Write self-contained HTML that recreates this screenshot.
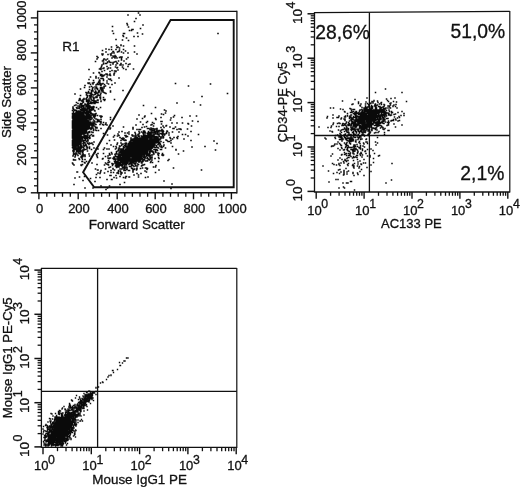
<!DOCTYPE html>
<html><head><meta charset="utf-8"><title>Flow cytometry</title>
<style>
html,body{margin:0;padding:0;background:#fff;}
svg{display:block;}
svg text{font-family:"Liberation Sans",sans-serif;fill:#111;stroke:#111;stroke-width:0.3;}
svg line, svg polygon{stroke:#111;}
svg path.d{stroke:#0a0a0a;fill:none;}
</style></head><body>
<svg width="520" height="487" viewBox="0 0 520 487">
<rect width="520" height="487" fill="#fff"/>
<line x1="37.6" y1="10.7" x2="37.6" y2="193.4" stroke-width="1.4"/>
<line x1="37.6" y1="11.3" x2="236.9" y2="11.3" stroke-width="1.3"/>
<line x1="236.9" y1="10.7" x2="236.9" y2="193.4" stroke-width="1.3"/>
<line x1="37.6" y1="192.8" x2="236.9" y2="192.8" stroke-width="1.5"/>
<line x1="38.9" y1="192.8" x2="38.9" y2="199.3" stroke-width="1.4"/>
<text x="39.7" y="212.6" font-size="13" text-anchor="middle">0</text>
<line x1="78.2" y1="192.8" x2="78.2" y2="199.3" stroke-width="1.4"/>
<text x="79.0" y="212.6" font-size="13" text-anchor="middle">200</text>
<line x1="117.2" y1="192.8" x2="117.2" y2="199.3" stroke-width="1.4"/>
<text x="118.0" y="212.6" font-size="13" text-anchor="middle">400</text>
<line x1="155.2" y1="192.8" x2="155.2" y2="199.3" stroke-width="1.4"/>
<text x="156.0" y="212.6" font-size="13" text-anchor="middle">600</text>
<line x1="193.5" y1="192.8" x2="193.5" y2="199.3" stroke-width="1.4"/>
<text x="194.3" y="212.6" font-size="13" text-anchor="middle">800</text>
<line x1="231.4" y1="192.8" x2="231.4" y2="199.3" stroke-width="1.4"/>
<text x="232.2" y="212.6" font-size="13" text-anchor="middle">1000</text>
<line x1="46.8" y1="192.8" x2="46.8" y2="196.8" stroke-width="1.3"/>
<line x1="54.6" y1="192.8" x2="54.6" y2="196.8" stroke-width="1.3"/>
<line x1="62.5" y1="192.8" x2="62.5" y2="196.8" stroke-width="1.3"/>
<line x1="70.3" y1="192.8" x2="70.3" y2="196.8" stroke-width="1.3"/>
<line x1="86.0" y1="192.8" x2="86.0" y2="196.8" stroke-width="1.3"/>
<line x1="93.8" y1="192.8" x2="93.8" y2="196.8" stroke-width="1.3"/>
<line x1="101.6" y1="192.8" x2="101.6" y2="196.8" stroke-width="1.3"/>
<line x1="109.4" y1="192.8" x2="109.4" y2="196.8" stroke-width="1.3"/>
<line x1="124.8" y1="192.8" x2="124.8" y2="196.8" stroke-width="1.3"/>
<line x1="132.4" y1="192.8" x2="132.4" y2="196.8" stroke-width="1.3"/>
<line x1="140.0" y1="192.8" x2="140.0" y2="196.8" stroke-width="1.3"/>
<line x1="147.6" y1="192.8" x2="147.6" y2="196.8" stroke-width="1.3"/>
<line x1="162.9" y1="192.8" x2="162.9" y2="196.8" stroke-width="1.3"/>
<line x1="170.5" y1="192.8" x2="170.5" y2="196.8" stroke-width="1.3"/>
<line x1="178.2" y1="192.8" x2="178.2" y2="196.8" stroke-width="1.3"/>
<line x1="185.8" y1="192.8" x2="185.8" y2="196.8" stroke-width="1.3"/>
<line x1="201.1" y1="192.8" x2="201.1" y2="196.8" stroke-width="1.3"/>
<line x1="208.7" y1="192.8" x2="208.7" y2="196.8" stroke-width="1.3"/>
<line x1="216.2" y1="192.8" x2="216.2" y2="196.8" stroke-width="1.3"/>
<line x1="223.8" y1="192.8" x2="223.8" y2="196.8" stroke-width="1.3"/>
<line x1="30.8" y1="192.8" x2="37.6" y2="192.8" stroke-width="1.4"/>
<text x="26.4" y="189.9" font-size="13" text-anchor="middle" transform="rotate(-90 26.4 189.9)">0</text>
<line x1="34.0" y1="185.8" x2="37.6" y2="185.8" stroke-width="1.3"/>
<line x1="34.0" y1="178.8" x2="37.6" y2="178.8" stroke-width="1.3"/>
<line x1="34.0" y1="171.8" x2="37.6" y2="171.8" stroke-width="1.3"/>
<line x1="34.0" y1="164.8" x2="37.6" y2="164.8" stroke-width="1.3"/>
<line x1="30.8" y1="157.8" x2="37.6" y2="157.8" stroke-width="1.4"/>
<text x="26.4" y="154.9" font-size="13" text-anchor="middle" transform="rotate(-90 26.4 154.9)">200</text>
<line x1="34.0" y1="150.8" x2="37.6" y2="150.8" stroke-width="1.3"/>
<line x1="34.0" y1="143.8" x2="37.6" y2="143.8" stroke-width="1.3"/>
<line x1="34.0" y1="136.8" x2="37.6" y2="136.8" stroke-width="1.3"/>
<line x1="34.0" y1="129.8" x2="37.6" y2="129.8" stroke-width="1.3"/>
<line x1="30.8" y1="122.8" x2="37.6" y2="122.8" stroke-width="1.4"/>
<text x="26.4" y="119.9" font-size="13" text-anchor="middle" transform="rotate(-90 26.4 119.9)">400</text>
<line x1="34.0" y1="115.8" x2="37.6" y2="115.8" stroke-width="1.3"/>
<line x1="34.0" y1="108.8" x2="37.6" y2="108.8" stroke-width="1.3"/>
<line x1="34.0" y1="101.9" x2="37.6" y2="101.9" stroke-width="1.3"/>
<line x1="34.0" y1="94.9" x2="37.6" y2="94.9" stroke-width="1.3"/>
<line x1="30.8" y1="87.9" x2="37.6" y2="87.9" stroke-width="1.4"/>
<text x="26.4" y="85.0" font-size="13" text-anchor="middle" transform="rotate(-90 26.4 85.0)">600</text>
<line x1="34.0" y1="80.9" x2="37.6" y2="80.9" stroke-width="1.3"/>
<line x1="34.0" y1="73.9" x2="37.6" y2="73.9" stroke-width="1.3"/>
<line x1="34.0" y1="66.9" x2="37.6" y2="66.9" stroke-width="1.3"/>
<line x1="34.0" y1="59.9" x2="37.6" y2="59.9" stroke-width="1.3"/>
<line x1="30.8" y1="52.9" x2="37.6" y2="52.9" stroke-width="1.4"/>
<text x="26.4" y="50.0" font-size="13" text-anchor="middle" transform="rotate(-90 26.4 50.0)">800</text>
<line x1="34.0" y1="45.9" x2="37.6" y2="45.9" stroke-width="1.3"/>
<line x1="34.0" y1="38.9" x2="37.6" y2="38.9" stroke-width="1.3"/>
<line x1="34.0" y1="31.9" x2="37.6" y2="31.9" stroke-width="1.3"/>
<line x1="34.0" y1="24.9" x2="37.6" y2="24.9" stroke-width="1.3"/>
<line x1="30.8" y1="17.9" x2="37.6" y2="17.9" stroke-width="1.4"/>
<text x="26.4" y="15.0" font-size="13" text-anchor="middle" transform="rotate(-90 26.4 15.0)">1000</text>
<text x="11.1" y="102.0" font-size="13.2" text-anchor="middle" transform="rotate(-90 11.1 102.0)">Side Scatter</text>
<text x="136.8" y="228.5" font-size="13.5" text-anchor="middle">Forward Scatter</text>
<text x="62.3" y="50.8" font-size="13.5" text-anchor="start">R1</text>
<polygon points="170.6,20 233.7,20 233.7,187.2 94.2,187.2 83.1,172.3" fill="none" stroke-width="1.9" stroke-linejoin="miter"/>
<path class="d" stroke-width="1.6" d="M71.7 138h1.6M73.7 138h1.6M73.7 130.5h1.6M78.2 153.5h1.6M75.2 138h1.6M79.2 151.5h1.6M72.2 143.5h1.6M81.7 128h1.6M75.2 131h1.6M76.2 138.5h1.6M75.2 135h1.6M74.2 135h1.6M72.7 132h1.6M78.7 117.5h1.6M71.7 132.5h1.6M76.7 113.5h1.6M81.7 138h1.6M75.2 127.5h1.6M86.2 127.5h1.6M81.2 132.5h1.6M85.7 137h1.6M73.7 121h1.6M81.2 118h1.6M73.7 124.5h1.6M72.7 115h1.6M73.2 125.5h1.6M90.7 149.5h1.6M75.7 124.5h1.6M72.2 140.5h1.6M72.7 121.5h1.6M83.2 137.5h1.6M75.2 131.5h1.6M79.2 134h1.6M77.7 140h1.6M79.7 151h1.6M77.7 136.5h1.6M71.7 135.5h1.6M78.2 125.5h1.6M76.2 140h1.6M72.7 142.5h1.6M72.2 134h1.6M80.7 151h1.6M72.2 115.5h1.6M81.7 131.5h1.6M83.2 143h1.6M78.2 131h1.6M72.7 127h1.6M76.7 132h1.6M86.7 121.5h1.6M77.2 135.5h1.6M80.7 157.5h1.6M72.2 145.5h1.6M76.2 124h1.6M73.2 126h1.6M76.7 130.5h1.6M72.2 144h1.6M76.7 126.5h1.6M82.7 128h1.6M76.7 143h1.6M73.2 142.5h1.6M72.7 124h1.6M80.7 120h1.6M76.2 128h1.6M73.2 113.5h1.6M78.2 141.5h1.6M80.2 128.5h1.6M81.7 139h1.6M77.7 152h1.6M76.7 145.5h1.6M86.7 123.5h1.6M75.2 143h1.6M81.2 127.5h1.6M76.7 125.5h1.6M74.2 133.5h1.6M74.7 119.5h1.6M73.7 148.5h1.6M83.2 111.5h1.6M74.7 124h1.6M74.2 132h1.6M74.2 132.5h1.6M72.7 136h1.6M73.2 137h1.6M80.2 132.5h1.6M71.7 145.5h1.6M75.2 114h1.6M80.2 134.5h1.6M76.7 127.5h1.6M71.7 136h1.6M76.7 136.5h1.6M74.2 126h1.6M79.7 128.5h1.6M71.7 142h1.6M76.2 138h1.6M81.2 128h1.6M74.2 154h1.6M84.2 156.5h1.6M87.2 120.5h1.6M74.2 137.5h1.6M78.2 158.5h1.6M72.7 142h1.6M88.7 136.5h1.6M77.7 132.5h1.6M76.2 129.5h1.6M73.2 132.5h1.6M75.2 129.5h1.6M73.2 141.5h1.6M73.2 130.5h1.6M77.2 130.5h1.6M75.7 123h1.6M79.7 134h1.6M72.2 126h1.6M72.2 133h1.6M79.7 144.5h1.6M78.2 139.5h1.6M79.2 138h1.6M73.2 135h1.6M72.2 133.5h1.6M76.2 131.5h1.6M72.7 141.5h1.6M86.7 124h1.6M80.2 147h1.6M87.7 127.5h1.6M78.2 130h1.6M84.7 128h1.6M77.2 136h1.6M78.2 127.5h1.6M77.7 145.5h1.6M83.2 113h1.6M82.7 115.5h1.6M73.7 144.5h1.6M72.7 140.5h1.6M79.2 122h1.6M79.7 127.5h1.6M75.7 151.5h1.6M72.2 137.5h1.6M77.7 134.5h1.6M76.2 144.5h1.6M81.2 158h1.6M81.2 147h1.6M78.7 138h1.6M71.7 140.5h1.6M76.7 128.5h1.6M74.2 124.5h1.6M75.7 135h1.6M71.7 125.5h1.6M74.7 134h1.6M73.7 135.5h1.6M82.2 156.5h1.6M77.7 126.5h1.6M84.2 133.5h1.6M76.7 133h1.6M79.7 138.5h1.6M74.2 144.5h1.6M82.2 130h1.6M82.7 126.5h1.6M73.2 119h1.6M76.2 125.5h1.6M84.7 139.5h1.6M77.2 135h1.6M71.7 125h1.6M72.2 131h1.6M75.2 139.5h1.6M75.7 129h1.6M80.2 117h1.6M80.7 123.5h1.6M81.7 150h1.6M75.7 113.5h1.6M73.7 131.5h1.6M72.2 136.5h1.6M75.7 127h1.6M76.2 134h1.6M74.2 134.5h1.6M72.7 133.5h1.6M71.7 116.5h1.6M80.7 133h1.6M74.7 129.5h1.6M75.7 136.5h1.6M82.2 140.5h1.6M78.7 143h1.6M78.7 130h1.6M72.7 143.5h1.6M75.7 145.5h1.6M77.7 147.5h1.6M78.7 133h1.6M75.2 133h1.6M83.2 142.5h1.6M81.2 121.5h1.6M78.2 136.5h1.6M85.7 118h1.6M82.7 126h1.6M84.2 143h1.6M77.7 144h1.6M79.2 133.5h1.6M78.2 126.5h1.6M84.2 138.5h1.6M87.7 132h1.6M73.7 140.5h1.6M72.2 151h1.6M73.7 134h1.6M72.2 120.5h1.6M83.2 120.5h1.6M72.7 123h1.6M79.2 147h1.6M84.2 136.5h1.6M75.7 120h1.6M74.7 146.5h1.6M79.2 131h1.6M76.7 128h1.6M79.2 131.5h1.6M78.2 137h1.6M73.2 140.5h1.6M74.2 146h1.6M86.7 147.5h1.6M82.2 141h1.6M78.2 120h1.6M71.7 137.5h1.6M82.7 131h1.6M77.2 131h1.6M72.2 125.5h1.6M72.2 148h1.6M73.7 141h1.6M80.2 136.5h1.6M71.7 143.5h1.6M88.2 144.5h1.6M76.7 137.5h1.6M86.7 111h1.6M96.2 128h1.6M75.7 130h1.6M81.7 125h1.6M80.7 146h1.6M80.2 123.5h1.6M72.7 154h1.6M72.2 130h1.6M72.2 123h1.6M72.2 137h1.6M77.7 138.5h1.6M75.7 128h1.6M73.2 142h1.6M79.7 130h1.6M75.7 125.5h1.6M76.7 136h1.6M79.7 142h1.6M81.2 128.5h1.6M72.7 137.5h1.6M71.7 133.5h1.6M81.7 161.5h1.6M82.7 147.5h1.6M75.2 134h1.6M77.7 133.5h1.6M74.7 141.5h1.6M91.2 143h1.6M73.7 146.5h1.6M72.2 129h1.6M79.7 129.5h1.6M73.7 139.5h1.6M73.2 140h1.6M80.7 148h1.6M74.2 138.5h1.6M71.7 144.5h1.6M83.2 149h1.6M75.7 136h1.6M74.7 120.5h1.6M85.2 123.5h1.6M83.7 121h1.6M78.7 149.5h1.6M78.7 126.5h1.6M76.7 146h1.6M72.7 140h1.6M73.2 151h1.6M73.7 144h1.6M73.2 133.5h1.6M72.2 132.5h1.6M83.2 135.5h1.6M72.2 129.5h1.6M76.7 150h1.6M83.7 118.5h1.6M75.7 137h1.6M74.2 136.5h1.6M80.2 142.5h1.6M78.2 142h1.6M73.2 145h1.6M73.2 129h1.6M83.7 136h1.6M73.7 110h1.6M77.7 149.5h1.6M76.2 137h1.6M83.2 137h1.6M74.2 121h1.6M76.2 148h1.6M73.2 151.5h1.6M71.7 135h1.6M79.2 132.5h1.6M75.2 119h1.6M86.7 143h1.6M73.7 160h1.6M79.7 146.5h1.6M74.2 139.5h1.6M81.2 125h1.6M81.2 123h1.6M78.7 132.5h1.6M79.7 137h1.6M73.7 138.5h1.6M75.7 138h1.6M73.2 122.5h1.6M76.2 135h1.6M72.2 122h1.6M82.7 122.5h1.6M78.7 117h1.6M78.2 121.5h1.6M75.7 119h1.6M73.7 136h1.6M73.2 138.5h1.6M73.2 153.5h1.6M73.7 120.5h1.6M73.7 128h1.6M72.2 143h1.6M72.2 131.5h1.6M75.7 150.5h1.6M85.7 131.5h1.6M76.2 123.5h1.6M84.2 137.5h1.6M74.7 137.5h1.6M86.2 121.5h1.6M82.2 125h1.6M77.2 140h1.6M72.7 128.5h1.6M84.7 140.5h1.6M74.7 140h1.6M76.7 117.5h1.6M76.7 131.5h1.6M88.7 138.5h1.6M77.7 114h1.6M80.7 132h1.6M72.2 141.5h1.6M73.2 149.5h1.6M80.2 113.5h1.6M72.7 159.5h1.6M80.2 124h1.6M80.2 143.5h1.6M79.7 146h1.6M79.7 144h1.6M75.2 136h1.6M75.7 123.5h1.6M74.7 127.5h1.6M74.2 110.5h1.6M81.2 161.5h1.6M82.7 141h1.6M73.2 148.5h1.6M79.2 149.5h1.6M84.7 149.5h1.6M73.2 123h1.6M74.7 133h1.6M74.7 113.5h1.6M79.2 118.5h1.6M73.2 135.5h1.6M80.7 125h1.6M75.2 153h1.6M85.7 147h1.6M81.7 134h1.6M76.2 146h1.6M81.7 127h1.6M74.7 131.5h1.6M73.7 143h1.6M80.2 122.5h1.6M90.7 132h1.6M73.2 122h1.6M83.7 135.5h1.6M72.7 127.5h1.6M74.7 126h1.6M79.2 123.5h1.6M79.7 148.5h1.6M74.2 157h1.6M79.7 139h1.6M75.7 127.5h1.6M75.2 141h1.6M75.7 142h1.6M77.7 137.5h1.6M74.2 137h1.6M79.2 140.5h1.6M81.2 129h1.6M72.2 130.5h1.6M78.2 118h1.6M83.2 130.5h1.6M71.7 121h1.6M79.2 125.5h1.6M78.2 135.5h1.6M75.7 139h1.6M82.7 121h1.6M77.7 127h1.6M74.7 125.5h1.6M77.2 150.5h1.6M76.2 142.5h1.6M72.7 131h1.6M76.2 148.5h1.6M72.2 120h1.6M72.2 108h1.6M78.7 159.5h1.6M72.2 124.5h1.6M84.7 136h1.6M76.7 132.5h1.6M79.7 135.5h1.6M85.2 120.5h1.6M72.2 128h1.6M80.2 139h1.6M83.2 136.5h1.6M80.2 157h1.6M77.7 137h1.6M77.2 116.5h1.6M76.2 122.5h1.6M77.2 147h1.6M79.2 139.5h1.6M80.7 134h1.6M85.7 124.5h1.6M85.7 131h1.6M74.2 129.5h1.6M73.7 130h1.6M71.7 141.5h1.6M86.2 126h1.6M83.2 133.5h1.6M79.2 144.5h1.6M81.7 159.5h1.6M77.2 142.5h1.6M77.7 134h1.6M82.2 126.5h1.6M92.7 130.5h1.6M75.7 130.5h1.6M79.7 141.5h1.6M79.7 130.5h1.6M79.7 132.5h1.6M73.7 123h1.6M83.2 150h1.6M82.2 151.5h1.6M77.7 142h1.6M74.7 148.5h1.6M78.2 132h1.6M85.7 141.5h1.6M74.7 160h1.6M71.7 123h1.6M72.2 150.5h1.6M80.2 138.5h1.6M72.2 142h1.6M72.2 146.5h1.6M85.7 138.5h1.6M72.7 126h1.6M77.2 128h1.6M72.2 128.5h1.6M76.2 133h1.6M72.2 139h1.6M79.7 120.5h1.6M76.2 154h1.6M72.7 145.5h1.6M73.7 141.5h1.6M73.2 131h1.6M77.2 133.5h1.6M78.7 140h1.6M75.7 118h1.6M71.7 163h1.6M81.7 116.5h1.6M76.2 133.5h1.6M73.7 148h1.6M87.2 123h1.6M72.2 136h1.6M72.7 149h1.6M72.7 132.5h1.6M74.7 130.5h1.6M74.7 135.5h1.6M79.2 130h1.6M73.7 149.5h1.6M80.7 122.5h1.6M72.7 109.5h1.6M75.2 134.5h1.6M75.7 124h1.6M84.2 130h1.6M75.2 149.5h1.6M73.7 123.5h1.6M73.7 124h1.6M76.7 135.5h1.6M73.2 134h1.6M83.2 146.5h1.6M75.7 143.5h1.6M80.7 134.5h1.6M79.2 135h1.6M73.7 133.5h1.6M83.2 129h1.6M78.7 153.5h1.6M72.7 134.5h1.6M90.7 123.5h1.6M74.7 130h1.6M82.7 141.5h1.6M81.2 141h1.6M74.7 134.5h1.6M73.7 118h1.6M84.7 122h1.6M83.7 142.5h1.6M72.7 130h1.6M81.2 146.5h1.6M76.7 141h1.6M74.7 155.5h1.6M72.7 141h1.6M77.7 141.5h1.6M72.2 138.5h1.6M77.2 126h1.6M79.7 133h1.6M74.7 115.5h1.6M74.2 133h1.6M74.2 131.5h1.6M84.2 118.5h1.6M76.2 131h1.6M74.2 135.5h1.6M84.2 123.5h1.6M74.2 140.5h1.6M78.2 132.5h1.6M88.7 147h1.6M74.2 127.5h1.6M78.2 129.5h1.6M74.7 145h1.6M71.7 131.5h1.6M77.2 136.5h1.6M92.2 144.5h1.6M72.7 113h1.6M75.7 126.5h1.6M76.7 124.5h1.6M84.7 124h1.6M80.2 126h1.6M74.2 126.5h1.6M77.7 126h1.6M75.7 135.5h1.6M78.7 127.5h1.6M86.2 136h1.6M72.7 150.5h1.6M73.2 128.5h1.6M82.7 137h1.6M73.2 126.5h1.6M78.7 124.5h1.6M76.7 129.5h1.6M83.2 155h1.6M75.2 129h1.6M73.7 136.5h1.6M79.7 154h1.6M78.7 136.5h1.6M78.2 148.5h1.6M77.2 140.5h1.6M76.7 121h1.6M78.7 134h1.6M72.2 132h1.6M74.2 114h1.6M75.2 130.5h1.6M88.7 132.5h1.6M86.7 138.5h1.6M72.2 122.5h1.6M72.7 129h1.6M75.2 126.5h1.6M84.2 145.5h1.6M82.7 124.5h1.6M76.7 149h1.6M76.2 120.5h1.6M74.2 118h1.6M75.2 122h1.6M78.2 130.5h1.6M79.2 129.5h1.6M80.2 135.5h1.6M71.7 114h1.6M77.2 139h1.6M73.2 128h1.6M83.7 123.5h1.6M79.7 121.5h1.6M74.7 125h1.6M90.7 134.5h1.6M77.2 125h1.6M87.2 127h1.6M73.7 126h1.6M74.2 139h1.6M80.7 115h1.6M75.2 146.5h1.6M76.7 130h1.6M86.2 137.5h1.6M84.7 144.5h1.6M76.7 144.5h1.6M86.7 136h1.6M73.2 146.5h1.6M75.2 133.5h1.6M76.7 148h1.6M74.2 136h1.6M84.2 135.5h1.6M77.2 132h1.6M74.2 142h1.6M76.2 122h1.6M89.2 138h1.6M80.7 137h1.6M73.7 113.5h1.6M80.2 133.5h1.6M86.7 140.5h1.6M71.7 127.5h1.6M85.2 135.5h1.6M78.2 112h1.6M80.7 141h1.6M86.7 117h1.6M74.2 141h1.6M83.2 132h1.6M73.7 142h1.6M72.7 125.5h1.6M74.2 128.5h1.6M72.2 156h1.6M84.2 132h1.6M85.7 146h1.6M86.7 151h1.6M77.2 118h1.6M82.7 145h1.6M72.2 142.5h1.6M73.7 126.5h1.6M75.2 121.5h1.6M72.2 121h1.6M74.7 128h1.6M88.7 156h1.6M72.2 135h1.6M73.7 128.5h1.6M77.2 151.5h1.6M73.7 147.5h1.6M83.2 127h1.6M76.7 144h1.6M76.2 141h1.6M82.2 119.5h1.6M83.7 138.5h1.6M77.2 143h1.6M73.7 139h1.6M75.7 129.5h1.6M78.7 125.5h1.6M87.2 143.5h1.6M74.7 124.5h1.6M82.7 114h1.6M83.2 123.5h1.6M80.7 112.5h1.6M75.2 141.5h1.6M76.7 123.5h1.6M86.7 124.5h1.6M72.7 134h1.6M74.2 120h1.6M72.7 152h1.6M76.2 126.5h1.6M81.2 136.5h1.6M74.7 148h1.6M74.7 144h1.6M82.7 127.5h1.6M72.7 145h1.6M73.7 127.5h1.6M81.7 152.5h1.6M72.7 135.5h1.6M80.7 156h1.6M84.7 138h1.6M77.2 123.5h1.6M72.2 145h1.6M77.2 128.5h1.6M79.2 134.5h1.6M91.2 125h1.6M79.2 140h1.6M75.2 115h1.6M77.7 130.5h1.6M80.2 132h1.6M75.2 137.5h1.6M75.2 128.5h1.6M87.7 121.5h1.6M82.7 123.5h1.6M74.7 138h1.6M85.2 144.5h1.6M75.2 144.5h1.6M75.7 131.5h1.6M72.2 124h1.6M78.2 144h1.6M76.2 137.5h1.6M76.2 145h1.6M77.7 146h1.6M82.7 142.5h1.6M80.2 139.5h1.6M75.2 138.5h1.6M76.2 136.5h1.6M72.7 144h1.6M90.2 129.5h1.6M77.7 151h1.6M75.7 133.5h1.6M75.2 154h1.6M84.7 131.5h1.6M73.7 122.5h1.6M72.7 131.5h1.6M81.7 155h1.6M77.7 143.5h1.6M80.2 125h1.6M78.2 138h1.6M87.2 141h1.6M77.7 151.5h1.6M85.2 137.5h1.6M78.7 125h1.6M75.2 132h1.6M77.2 112.5h1.6M75.2 140h1.6M72.7 122h1.6M72.7 148.5h1.6M80.2 137h1.6M71.7 144h1.6M78.2 148h1.6M79.7 134.5h1.6M80.2 145h1.6M89.2 135.5h1.6M86.7 133h1.6M73.2 132h1.6M77.2 137.5h1.6M72.7 129.5h1.6M83.2 134h1.6M81.7 129h1.6M79.7 133.5h1.6M82.2 153.5h1.6M73.2 147h1.6M76.7 139h1.6M77.2 155.5h1.6M75.7 137.5h1.6M87.7 137.5h1.6M78.7 148h1.6M76.7 134.5h1.6M72.7 154.5h1.6M79.7 141h1.6M75.2 125h1.6M77.2 152h1.6M73.2 131.5h1.6M82.2 143.5h1.6M80.7 146.5h1.6M76.7 124h1.6M80.2 131h1.6M81.2 121h1.6M81.7 133.5h1.6M74.2 131h1.6M78.7 128h1.6M80.7 131h1.6M74.7 139.5h1.6M77.2 149h1.6M76.7 116h1.6M71.7 130.5h1.6M75.2 125.5h1.6M71.7 124.5h1.6M75.7 141h1.6M80.2 133h1.6M73.2 138h1.6M80.7 119.5h1.6M88.7 137h1.6M77.7 133h1.6M85.7 124h1.6M84.7 127h1.6M86.2 149h1.6M79.2 148h1.6M77.7 123.5h1.6M75.2 119.5h1.6M76.7 135h1.6M79.2 123h1.6M88.7 143h1.6M78.7 140.5h1.6M78.2 131.5h1.6M74.7 135h1.6M78.7 151h1.6M83.7 140.5h1.6M71.7 124h1.6M79.2 141.5h1.6M72.7 139h1.6M79.7 152h1.6M71.7 147.5h1.6M79.7 122.5h1.6M72.7 160h1.6M72.2 135.5h1.6M78.7 114.5h1.6M79.2 128h1.6M75.2 122.5h1.6M75.7 121.5h1.6M81.7 117.5h1.6M80.2 127h1.6M77.7 116.5h1.6M77.2 121h1.6M86.7 128h1.6M80.2 116.5h1.6M78.7 120.5h1.6M89.7 123.5h1.6M79.7 129h1.6M84.2 122h1.6M86.2 118h1.6M83.7 119h1.6M74.2 123h1.6M91.2 118.5h1.6M83.2 128h1.6M82.2 118.5h1.6M90.7 128h1.6M85.2 127h1.6M78.2 119.5h1.6M73.7 119.5h1.6M71.7 116h1.6M88.7 127.5h1.6M82.2 134h1.6M86.2 129.5h1.6M84.2 124h1.6M78.7 122.5h1.6M97.7 130.5h1.6M80.7 127.5h1.6M73.2 118h1.6M76.7 118.5h1.6M94.7 130h1.6M73.2 124h1.6M80.2 121h1.6M77.7 111.5h1.6M90.2 116h1.6M81.2 119.5h1.6M80.7 118.5h1.6M77.2 122h1.6M87.7 122.5h1.6M71.7 113.5h1.6M92.2 122h1.6M82.2 114.5h1.6M75.7 122.5h1.6M87.7 125.5h1.6M79.2 126h1.6M71.7 123.5h1.6M79.7 128h1.6M84.7 128.5h1.6M90.7 128.5h1.6M71.7 128h1.6M86.7 116h1.6M92.2 132.5h1.6M88.7 114.5h1.6M78.2 124.5h1.6M75.7 120.5h1.6M84.2 112.5h1.6M83.2 110h1.6M90.7 113.5h1.6M82.2 124h1.6M83.2 121h1.6M75.2 124h1.6M93.7 126h1.6M78.2 111h1.6M77.7 121h1.6M94.7 115.5h1.6M79.7 119.5h1.6M96.2 122h1.6M73.2 121h1.6M73.2 114.5h1.6M92.7 120h1.6M78.2 113h1.6M89.2 124h1.6M83.2 125h1.6M75.2 128h1.6M72.7 118h1.6M72.2 116.5h1.6M81.7 119h1.6M85.2 122h1.6M86.7 126.5h1.6M84.7 126h1.6M82.2 122.5h1.6M80.2 123h1.6M76.7 115h1.6M79.7 114h1.6M74.7 127h1.6M82.7 115h1.6M74.2 122h1.6M89.2 120h1.6M80.2 120h1.6M73.2 130h1.6M76.2 108.5h1.6M84.7 127.5h1.6M102.7 122.5h1.6M87.7 126.5h1.6M83.2 132.5h1.6M99.2 116h1.6M77.2 123h1.6M78.7 126h1.6M85.7 120h1.6M82.7 123h1.6M89.2 119h1.6M74.7 121.5h1.6M84.2 121.5h1.6M79.7 116h1.6M82.2 131h1.6M85.7 125.5h1.6M76.7 122.5h1.6M78.2 124h1.6M76.7 119.5h1.6M88.2 122.5h1.6M81.2 110h1.6M77.7 123h1.6M92.7 116.5h1.6M85.7 115h1.6M92.2 125.5h1.6M79.2 125h1.6M87.7 129h1.6M87.2 125h1.6M74.7 123.5h1.6M74.2 123.5h1.6M84.2 117h1.6M77.7 119h1.6M73.7 119h1.6M74.7 117h1.6M81.7 121h1.6M73.7 125h1.6M92.2 128h1.6M89.7 122h1.6M87.2 140h1.6M90.2 128h1.6M79.7 125h1.6M72.2 107h1.6M78.7 121.5h1.6M72.7 123.5h1.6M87.2 133h1.6M79.2 115h1.6M75.7 133h1.6M80.7 121h1.6M81.2 126.5h1.6M83.2 108.5h1.6M87.2 126.5h1.6M76.7 123h1.6M100.2 116h1.6M83.7 128h1.6M74.7 128.5h1.6M74.2 122.5h1.6M92.7 115h1.6M92.7 130h1.6M75.2 123h1.6M81.2 122.5h1.6M73.2 120.5h1.6M76.2 118.5h1.6M94.2 124h1.6M88.2 119h1.6M96.7 115.5h1.6M82.7 118.5h1.6M73.2 121.5h1.6M80.7 123h1.6M78.2 121h1.6M82.2 116.5h1.6M80.7 129.5h1.6M73.2 124.5h1.6M92.7 136h1.6M73.2 118.5h1.6M79.7 121h1.6M85.2 117.5h1.6M83.2 123h1.6M80.7 124.5h1.6M94.7 128h1.6M79.7 124.5h1.6M81.7 125.5h1.6M72.7 125h1.6M79.7 114.5h1.6M88.7 117h1.6M83.2 126.5h1.6M84.7 125h1.6M75.7 131h1.6M74.2 130h1.6M82.2 121.5h1.6M87.7 123h1.6M93.2 117h1.6M77.2 120h1.6M74.7 121h1.6M83.7 121.5h1.6M72.7 118.5h1.6M83.2 122.5h1.6M82.7 125.5h1.6M71.7 121.5h1.6M75.2 114.5h1.6M79.2 127.5h1.6M79.7 131.5h1.6M85.7 127h1.6M90.2 124h1.6M76.2 126h1.6M73.7 122h1.6M84.7 121h1.6M86.2 118.5h1.6M82.7 114.5h1.6M78.2 129h1.6M79.7 124h1.6M84.2 132.5h1.6M80.7 117.5h1.6M75.7 128.5h1.6M77.7 131.5h1.6M112.2 126h1.6M72.7 124.5h1.6M92.7 129.5h1.6M84.2 125h1.6M76.2 132h1.6M73.7 125.5h1.6M77.7 118h1.6M78.2 120.5h1.6M84.7 123h1.6M82.2 111h1.6M74.7 122.5h1.6M74.2 118.5h1.6M79.2 116h1.6M90.2 122.5h1.6M74.7 129h1.6M87.7 123.5h1.6M83.7 116h1.6M76.2 117.5h1.6M97.7 121.5h1.6M76.2 113h1.6M87.2 121.5h1.6M86.2 125h1.6M76.2 114.5h1.6M74.2 119h1.6M84.7 129h1.6M87.7 128h1.6M75.2 120h1.6M81.7 120.5h1.6M84.2 131h1.6M102.7 125h1.6M81.2 120h1.6M78.2 127h1.6M109.7 117.5h1.6M78.2 114.5h1.6M82.2 122h1.6M78.2 122h1.6M74.2 130.5h1.6M79.2 120h1.6M87.7 118.5h1.6M83.2 129.5h1.6M87.2 124.5h1.6M89.7 113h1.6M86.2 119h1.6M84.7 122.5h1.6M73.7 131h1.6M74.2 115h1.6M77.2 130h1.6M74.7 114.5h1.6M72.7 116.5h1.6M76.7 119h1.6M80.7 117h1.6M88.2 117h1.6M81.7 122h1.6M83.2 118.5h1.6M79.2 130.5h1.6M89.7 125h1.6M82.2 120.5h1.6M77.2 111.5h1.6M84.7 116.5h1.6M72.2 117.5h1.6M72.2 118.5h1.6M76.7 120h1.6M83.7 125.5h1.6M73.7 132h1.6M75.7 112.5h1.6M77.7 122h1.6M99.2 121.5h1.6M75.2 120.5h1.6M99.7 122h1.6M79.7 123h1.6M77.7 117h1.6M72.2 118h1.6M86.7 116.5h1.6M80.2 118.5h1.6M93.2 116.5h1.6M84.7 113h1.6M82.7 132h1.6M83.7 122h1.6M74.7 123h1.6M73.7 116.5h1.6M80.2 122h1.6M94.7 127h1.6M79.2 116.5h1.6M94.2 122h1.6M90.2 117.5h1.6M81.2 126h1.6M92.2 124.5h1.6M85.2 123h1.6M82.2 124.5h1.6M78.2 116.5h1.6M80.7 122h1.6M72.7 120.5h1.6M83.2 118h1.6M92.7 124.5h1.6M77.7 129.5h1.6M72.2 125h1.6M78.2 123h1.6M71.7 117h1.6M71.7 126h1.6M79.7 118.5h1.6M84.2 123h1.6M77.2 117.5h1.6M73.2 127.5h1.6M85.7 111.5h1.6M94.7 114.5h1.6M86.2 129h1.6M72.7 111.5h1.6M84.7 117h1.6M81.2 131.5h1.6M89.2 119.5h1.6M77.7 112.5h1.6M92.7 126h1.6M83.2 121.5h1.6M96.2 127.5h1.6M95.2 124.5h1.6M90.2 124.5h1.6M92.7 123.5h1.6M84.7 119h1.6M78.2 118.5h1.6M76.7 116.5h1.6M73.7 117.5h1.6M77.7 120h1.6M78.2 133.5h1.6M79.7 109.5h1.6M77.2 124.5h1.6M91.2 126.5h1.6M94.2 116.5h1.6M78.2 125h1.6M88.7 117.5h1.6M86.7 114h1.6M84.2 110.5h1.6M77.2 121.5h1.6M78.2 128.5h1.6M83.7 122.5h1.6M74.2 120.5h1.6M82.2 120h1.6M71.7 110.5h1.6M86.2 117.5h1.6M80.2 120.5h1.6M79.7 115h1.6M79.7 120h1.6M84.7 120h1.6M75.2 124.5h1.6M75.2 118h1.6M80.2 121.5h1.6M88.7 122h1.6M88.2 125.5h1.6M89.2 128.5h1.6M75.7 132.5h1.6M81.2 130h1.6M98.2 120h1.6M84.7 125.5h1.6M86.2 122h1.6M75.2 112.5h1.6M104.7 124.5h1.6M80.7 127h1.6M80.7 115.5h1.6M90.2 119.5h1.6M79.7 118h1.6M83.2 111h1.6M86.2 112.5h1.6M75.7 125h1.6M76.2 119h1.6M89.2 124.5h1.6M83.7 120.5h1.6M91.2 126h1.6M88.2 124h1.6M74.2 117h1.6M78.2 122.5h1.6M78.7 123h1.6M85.2 121h1.6M80.7 120.5h1.6M84.7 110h1.6M82.7 122h1.6M83.7 120h1.6M75.7 110.5h1.6M85.2 117h1.6M73.2 114h1.6M76.2 125h1.6M76.2 121.5h1.6M87.2 116h1.6M76.2 124.5h1.6M83.7 124.5h1.6M84.7 129.5h1.6M88.2 128.5h1.6M76.7 117h1.6M95.2 113.5h1.6M78.7 128.5h1.6M80.7 126.5h1.6M81.2 117.5h1.6M88.2 116h1.6M100.2 123h1.6M91.7 126h1.6M87.2 121h1.6M87.2 123.5h1.6M87.7 121h1.6M88.7 123h1.6M77.2 119h1.6M83.2 117h1.6M77.2 115.5h1.6M95.7 130.5h1.6M81.7 115h1.6M78.7 130.5h1.6M89.7 124.5h1.6M77.2 126.5h1.6M84.7 126.5h1.6M77.7 121.5h1.6M80.7 126h1.6M106.2 125h1.6M79.7 123.5h1.6M81.7 118.5h1.6M78.7 121h1.6M83.2 117.5h1.6M77.7 128h1.6M83.7 111h1.6M79.2 121.5h1.6M82.7 120.5h1.6M87.2 116.5h1.6M86.7 122.5h1.6M72.2 121.5h1.6M83.2 126h1.6M96.7 119.5h1.6M92.2 123.5h1.6M80.2 114.5h1.6M79.7 125.5h1.6M72.7 121h1.6M83.2 119.5h1.6M74.7 118.5h1.6M77.2 122.5h1.6M81.2 114.5h1.6M78.2 119h1.6M93.7 118h1.6M83.7 127.5h1.6M78.2 108.5h1.6M84.7 120.5h1.6M86.7 113.5h1.6M73.7 120h1.6M79.2 127h1.6M85.7 119h1.6M84.7 123.5h1.6M80.7 118h1.6M73.2 133h1.6M91.7 115h1.6M89.7 116.5h1.6M77.7 128.5h1.6M86.7 115.5h1.6M88.7 125.5h1.6M75.2 118.5h1.6M86.7 128.5h1.6M78.2 126h1.6M88.7 107.5h1.6M75.7 121h1.6M77.7 115h1.6M74.2 119.5h1.6M82.7 130.5h1.6M95.2 119h1.6M82.2 130.5h1.6M83.7 117.5h1.6M72.7 128h1.6M92.2 114h1.6M86.7 134h1.6M88.2 132h1.6M93.7 121h1.6M73.2 119.5h1.6M72.2 108.5h1.6M85.7 122.5h1.6M79.7 136.5h1.6M83.7 112h1.6M85.2 116h1.6M89.2 125h1.6M84.2 118h1.6M82.7 118h1.6M82.7 116.5h1.6M80.2 129h1.6M83.2 128.5h1.6M78.7 124h1.6M88.7 126.5h1.6M84.2 127h1.6M100.2 117.5h1.6M79.2 124h1.6M73.2 123.5h1.6M82.2 128h1.6M78.7 122h1.6M101.2 116.5h1.6M80.7 128h1.6M80.7 116.5h1.6M76.7 114.5h1.6M89.7 128.5h1.6M79.7 117h1.6M79.7 127h1.6M81.2 114h1.6M76.2 120h1.6M74.2 110h1.6M83.2 116.5h1.6M71.7 118h1.6M93.7 117h1.6M79.7 119h1.6M87.2 135h1.6M80.2 126.5h1.6M75.7 111.5h1.6M79.2 113h1.6M82.2 125.5h1.6M77.7 120.5h1.6M75.2 116.5h1.6M80.7 107.5h1.6M74.7 117.5h1.6M83.2 115h1.6M83.7 127h1.6M78.7 116h1.6M96.7 120.5h1.6M85.2 119.5h1.6M82.7 124h1.6M91.2 123.5h1.6M75.7 107.5h1.6M81.2 119h1.6M72.7 119h1.6M77.2 118.5h1.6M90.2 113.5h1.6M88.7 118.5h1.6M101.7 124.5h1.6M79.2 124.5h1.6M79.2 129h1.6M89.7 128h1.6M100.2 119.5h1.6M100.2 121.5h1.6M87.7 115.5h1.6M88.7 131.5h1.6M79.7 149.5h1.6M96.7 157.5h1.6M77.2 146h1.6M108.7 155h1.6M99.2 124.5h1.6M72.7 126.5h1.6M100.2 128.5h1.6M91.2 114.5h1.6M80.2 165h1.6M102.7 133.5h1.6M88.2 154h1.6M77.7 124h1.6M105.2 123h1.6M81.2 129.5h1.6M73.2 165h1.6M94.2 111h1.6M85.7 161.5h1.6M94.2 114h1.6M86.2 147h1.6M90.2 143.5h1.6M84.7 137h1.6M75.7 102.5h1.6M81.7 138.5h1.6M80.7 113.5h1.6M74.2 178h1.6M109.7 128h1.6M75.2 135.5h1.6M87.7 111.5h1.6M72.7 109h1.6M102.7 149.5h1.6M72.2 127.5h1.6M93.2 142h1.6M109.7 119.5h1.6M93.2 123h1.6M84.2 155h1.6M72.7 114.5h1.6M82.7 99.5h1.6M82.7 111.5h1.6M88.7 148.5h1.6M89.2 117.5h1.6M103.7 148h1.6M89.7 119.5h1.6M101.7 159h1.6M96.2 156h1.6M75.7 117h1.6M92.7 135.5h1.6M94.2 152.5h1.6M80.7 106h1.6M95.7 148.5h1.6M78.7 108h1.6M79.7 100h1.6M97.2 170h1.6M85.7 133h1.6M82.7 120h1.6M78.2 151h1.6M74.2 94h1.6M109.2 79.5h1.6M118.7 57.5h1.6M95.2 101h1.6M102.7 60h1.6M100.7 89.5h1.6M84.2 109.5h1.6M87.2 111h1.6M92.7 98.5h1.6M89.7 109.5h1.6M102.7 76h1.6M98.7 91h1.6M79.7 95.5h1.6M101.7 55h1.6M102.7 79.5h1.6M93.7 92.5h1.6M90.2 97h1.6M113.7 62h1.6M107.7 84h1.6M100.2 93h1.6M104.2 93h1.6M87.7 83.5h1.6M99.7 83.5h1.6M88.2 109h1.6M86.7 100.5h1.6M107.7 68h1.6M92.7 108.5h1.6M95.7 102.5h1.6M98.2 90.5h1.6M90.2 93h1.6M127.2 57.5h1.6M85.2 109h1.6M91.2 110h1.6M95.7 107.5h1.6M90.7 92h1.6M90.7 103h1.6M92.2 91h1.6M106.2 74h1.6M91.7 100.5h1.6M113.7 73h1.6M87.7 104h1.6M97.2 94.5h1.6M121.2 57h1.6M112.2 56h1.6M96.2 84.5h1.6M133.7 52h1.6M84.2 104h1.6M87.2 101.5h1.6M94.2 89h1.6M90.2 95h1.6M94.7 61.5h1.6M99.7 99h1.6M81.7 101h1.6M100.2 69.5h1.6M86.2 109.5h1.6M105.2 60h1.6M82.7 102h1.6M90.2 103.5h1.6M97.2 102.5h1.6M93.2 101.5h1.6M103.7 70.5h1.6M81.7 100.5h1.6M85.2 106.5h1.6M92.2 87.5h1.6M109.7 79h1.6M84.7 104.5h1.6M93.7 103h1.6M82.2 100.5h1.6M84.2 85.5h1.6M92.2 109.5h1.6M101.7 61h1.6M79.7 107h1.6M99.7 75.5h1.6M100.7 66.5h1.6M94.2 102.5h1.6M101.2 89.5h1.6M89.7 112h1.6M89.7 102.5h1.6M85.2 99h1.6M119.2 65h1.6M76.7 108h1.6M88.2 106.5h1.6M98.7 84h1.6M87.7 91.5h1.6M96.2 96h1.6M87.7 101.5h1.6M89.2 103.5h1.6M115.2 71.5h1.6M75.2 105h1.6M89.2 107.5h1.6M118.2 78h1.6M93.7 101.5h1.6M125.7 59h1.6M87.2 109h1.6M88.7 87h1.6M90.7 93h1.6M99.7 89h1.6M113.2 74h1.6M81.7 105.5h1.6M95.7 88h1.6M109.2 71.5h1.6M77.2 106h1.6M95.2 85h1.6M102.2 91h1.6M104.2 99.5h1.6M96.7 83.5h1.6M111.2 84.5h1.6M100.2 85.5h1.6M106.7 62h1.6M88.2 69.5h1.6M124.7 51h1.6M99.7 85h1.6M100.2 101.5h1.6M88.2 112.5h1.6M86.2 112h1.6M80.2 105h1.6M92.7 107h1.6M100.7 74.5h1.6M102.2 75.5h1.6M87.2 83h1.6M96.7 100h1.6M99.7 95h1.6M85.7 101.5h1.6M114.2 58h1.6M86.7 111.5h1.6M95.2 92h1.6M99.2 81h1.6M95.2 102.5h1.6M108.7 62h1.6M91.7 90h1.6M89.2 96.5h1.6M73.7 105.5h1.6M85.2 105.5h1.6M104.7 86h1.6M90.7 94h1.6M81.7 109.5h1.6M100.7 78.5h1.6M108.2 61h1.6M106.2 74.5h1.6M108.7 75h1.6M106.7 59h1.6M114.7 67h1.6M99.7 107.5h1.6M95.7 87h1.6M92.2 107h1.6M80.2 111h1.6M78.2 100.5h1.6M88.7 116h1.6M88.7 109h1.6M98.7 73h1.6M87.2 107.5h1.6M88.7 111.5h1.6M102.2 92h1.6M92.7 80.5h1.6M94.2 103.5h1.6M101.2 87.5h1.6M90.2 110.5h1.6M96.2 97.5h1.6M127.2 66.5h1.6M90.2 107h1.6M99.7 97h1.6M83.7 87.5h1.6M82.7 107h1.6M109.7 65h1.6M92.7 106.5h1.6M98.2 81.5h1.6M102.2 90h1.6M102.7 63h1.6M85.2 110.5h1.6M96.7 88.5h1.6M90.7 86.5h1.6M111.2 70.5h1.6M90.2 102h1.6M105.2 93.5h1.6M99.7 87.5h1.6M87.7 103h1.6M91.7 83h1.6M92.7 73h1.6M101.2 75h1.6M86.2 105h1.6M91.2 94.5h1.6M93.7 110.5h1.6M79.7 103.5h1.6M85.7 94.5h1.6M101.7 50.5h1.6M91.2 118h1.6M111.2 53h1.6M82.7 116h1.6M91.7 102.5h1.6M87.2 100.5h1.6M112.2 64h1.6M96.2 59h1.6M122.7 49.5h1.6M94.2 94.5h1.6M87.7 114h1.6M107.7 79h1.6M111.2 58h1.6M114.2 56.5h1.6M103.2 59h1.6M109.7 62.5h1.6M116.7 52h1.6M89.2 112.5h1.6M95.7 97.5h1.6M97.2 100h1.6M85.7 95h1.6M84.2 104.5h1.6M100.2 101h1.6M90.7 96h1.6M77.7 111h1.6M102.7 99.5h1.6M116.2 63h1.6M79.7 115.5h1.6M120.7 60h1.6M89.7 84.5h1.6M81.2 106.5h1.6M115.2 56.5h1.6M92.2 84h1.6M87.7 101h1.6M90.2 98h1.6M104.7 63.5h1.6M86.7 103.5h1.6M87.7 105.5h1.6M93.2 103.5h1.6M83.2 108h1.6M101.2 65h1.6M88.2 79.5h1.6M98.2 91.5h1.6M122.7 53h1.6M100.2 78.5h1.6M86.2 97.5h1.6M102.2 83.5h1.6M89.7 93.5h1.6M94.7 97h1.6M86.2 105.5h1.6M95.2 93.5h1.6M109.2 87.5h1.6M85.7 109.5h1.6M120.2 65h1.6M83.2 99.5h1.6M88.7 106h1.6M91.2 103.5h1.6M113.7 99.5h1.6M103.2 68h1.6M105.2 52h1.6M93.7 98h1.6M97.2 57.5h1.6M94.7 91h1.6M80.7 101h1.6M123.2 61h1.6M97.2 100.5h1.6M100.2 68h1.6M82.7 107.5h1.6M95.2 76.5h1.6M81.2 103.5h1.6M96.7 89.5h1.6M106.2 83h1.6M88.7 110.5h1.6M98.2 92.5h1.6M105.7 63.5h1.6M86.7 101.5h1.6M87.2 104h1.6M93.2 107h1.6M102.7 97.5h1.6M91.7 88.5h1.6M99.2 83h1.6M120.2 63.5h1.6M83.2 98.5h1.6M93.2 82.5h1.6M103.7 75h1.6M118.2 51.5h1.6M97.7 91.5h1.6M99.7 98.5h1.6M84.7 113.5h1.6M127.7 64.5h1.6M91.2 107h1.6M92.2 102.5h1.6M109.7 68h1.6M92.7 109.5h1.6M82.7 106.5h1.6M86.7 106.5h1.6M88.7 83h1.6M102.7 61h1.6M85.7 98.5h1.6M101.2 71.5h1.6M88.7 89.5h1.6M102.2 78.5h1.6M88.2 115h1.6M93.2 100h1.6M85.2 106h1.6M98.2 72.5h1.6M99.2 97.5h1.6M89.7 77h1.6M79.2 98.5h1.6M109.7 75.5h1.6M122.2 35.5h1.6M90.2 109.5h1.6M89.2 106h1.6M102.7 64h1.6M106.7 69h1.6M115.2 65h1.6M84.2 108h1.6M94.2 87h1.6M79.2 105h1.6M87.2 93h1.6M103.7 84.5h1.6M91.2 109h1.6M87.2 103.5h1.6M86.2 100h1.6M83.2 105.5h1.6M87.7 106h1.6M99.7 68.5h1.6M84.2 116h1.6M101.2 54h1.6M103.7 59h1.6M120.2 45.5h1.6M113.2 75h1.6M79.7 111.5h1.6M82.7 108h1.6M94.2 101h1.6M85.2 114h1.6M82.7 108.5h1.6M117.2 70h1.6M113.7 71h1.6M92.7 107.5h1.6M106.7 62.5h1.6M90.2 99h1.6M81.7 110h1.6M98.2 95.5h1.6M98.7 69h1.6M90.2 113h1.6M95.2 78h1.6M90.7 100h1.6M116.2 47.5h1.6M88.7 108h1.6M109.2 74h1.6M88.2 100.5h1.6M100.2 88.5h1.6M107.2 54.5h1.6M121.7 67h1.6M116.7 63.5h1.6M85.2 92.5h1.6M88.7 101h1.6M87.2 104.5h1.6M122.2 90.5h1.6M77.2 108h1.6M92.2 97h1.6M110.2 62.5h1.6M102.2 68.5h1.6M115.2 49.5h1.6M89.7 96.5h1.6M85.7 105h1.6M115.2 71h1.6M82.2 99.5h1.6M115.2 61.5h1.6M83.2 106h1.6M92.2 108h1.6M101.7 88.5h1.6M110.7 80.5h1.6M101.2 84h1.6M103.2 88h1.6M82.7 117h1.6M88.7 106.5h1.6M94.7 101h1.6M109.7 91h1.6M78.7 99h1.6M86.2 107h1.6M99.7 94.5h1.6M86.2 93h1.6M88.2 105.5h1.6M129.2 64h1.6M125.2 63.5h1.6M81.2 108.5h1.6M103.2 92.5h1.6M94.2 115.5h1.6M94.7 94h1.6M86.7 113h1.6M81.2 110.5h1.6M106.2 81h1.6M125.2 69.5h1.6M106.2 66.5h1.6M77.2 103.5h1.6M101.2 76.5h1.6M117.7 51.5h1.6M87.7 108h1.6M98.7 80h1.6M90.2 96.5h1.6M97.7 109h1.6M86.2 110h1.6M89.2 114.5h1.6M99.7 74.5h1.6M81.7 112.5h1.6M100.7 91h1.6M96.2 56.5h1.6M86.7 108h1.6M92.7 95h1.6M112.2 62.5h1.6M103.2 86.5h1.6M97.7 84.5h1.6M85.7 100.5h1.6M114.2 83h1.6M90.7 95h1.6M96.7 93h1.6M87.2 102.5h1.6M82.2 102.5h1.6M116.2 58h1.6M106.7 75h1.6M115.7 45.5h1.6M86.7 95.5h1.6M92.7 102.5h1.6M78.7 106.5h1.6M88.2 93h1.6M89.2 97.5h1.6M89.7 97h1.6M86.7 97h1.6M105.2 74h1.6M103.7 100.5h1.6M114.2 55.5h1.6M90.7 103.5h1.6M87.7 107.5h1.6M122.7 46h1.6M88.7 108.5h1.6M109.7 92h1.6M88.7 95.5h1.6M79.7 89h1.6M80.7 105h1.6M97.7 78h1.6M97.7 95.5h1.6M90.7 108h1.6M94.7 102.5h1.6M96.2 88.5h1.6M122.2 65h1.6M119.7 57h1.6M85.7 99.5h1.6M116.7 67.5h1.6M88.2 99h1.6M112.7 57h1.6M88.7 103.5h1.6M82.7 109h1.6M98.7 95.5h1.6M121.7 40h1.6M97.7 82.5h1.6M106.2 77h1.6M91.2 90.5h1.6M132.7 69h1.6M102.7 80.5h1.6M90.7 90.5h1.6M113.2 53h1.6M112.7 33.5h1.6M136.2 54h1.6M130.7 30.5h1.6M125.7 38h1.6M120.7 52h1.6M110.7 47h1.6M131.2 29.5h1.6M118.7 50h1.6M123.7 33.5h1.6M133.2 36.5h1.6M127.7 27h1.6M122.7 33.5h1.6M137.2 36.5h1.6M133.7 21.5h1.6M133.7 46h1.6M135.2 18.5h1.6M111.7 26.5h1.6M142.2 25h1.6M126.7 25h1.6M141.7 34h1.6M110.2 54h1.6M111.7 31h1.6M117.7 61h1.6M136.7 33h1.6M132.2 29.5h1.6M126.2 23.5h1.6M122.7 36.5h1.6M105.2 49h1.6M127.7 40.5h1.6M127.2 15h1.6M112.2 51.5h1.6M120.7 58.5h1.6M117.2 47h1.6M127.2 53h1.6M120.2 45h1.6M102.2 54h1.6M109.7 54h1.6M110.7 49.5h1.6M112.7 51.5h1.6M116.2 68h1.6M108.2 49.5h1.6M139.7 28.5h1.6M137.7 13h1.6M128.7 30.5h1.6M115.2 39.5h1.6M118.7 48h1.6M110.2 55.5h1.6M122.7 68.5h1.6M139.2 15h1.6M128.7 157h1.6M136.7 144.5h1.6M134.2 151.5h1.6M136.2 154h1.6M141.2 156.5h1.6M141.7 141h1.6M141.2 150h1.6M132.2 165.5h1.6M136.2 150.5h1.6M145.7 151h1.6M125.7 143.5h1.6M151.7 146.5h1.6M144.2 144h1.6M122.7 149.5h1.6M142.2 150h1.6M158.2 139h1.6M154.7 142.5h1.6M139.7 154h1.6M145.2 143h1.6M128.7 151.5h1.6M122.7 158h1.6M142.2 145.5h1.6M140.7 149h1.6M140.2 144h1.6M137.2 149.5h1.6M142.7 150h1.6M133.2 154h1.6M147.7 154h1.6M150.7 151h1.6M133.2 145.5h1.6M142.7 141.5h1.6M117.2 157.5h1.6M126.7 151h1.6M151.7 141h1.6M150.2 133.5h1.6M136.7 144h1.6M135.2 149h1.6M127.7 161h1.6M139.2 145.5h1.6M143.2 142.5h1.6M126.2 163h1.6M143.7 147h1.6M142.7 147.5h1.6M143.7 149.5h1.6M124.2 154h1.6M142.7 146.5h1.6M121.7 157.5h1.6M153.7 142.5h1.6M140.7 151.5h1.6M123.7 154h1.6M153.2 144.5h1.6M144.2 137h1.6M134.7 158h1.6M157.7 134.5h1.6M125.7 153.5h1.6M136.7 143h1.6M147.2 140h1.6M116.7 165.5h1.6M144.2 140h1.6M138.2 152h1.6M133.2 144.5h1.6M127.2 157h1.6M140.2 147h1.6M121.7 150.5h1.6M129.2 157.5h1.6M129.7 148h1.6M119.2 149h1.6M149.7 136h1.6M124.2 158h1.6M132.7 158h1.6M132.7 150h1.6M141.2 154.5h1.6M148.2 149h1.6M147.7 147.5h1.6M138.2 156.5h1.6M134.7 153.5h1.6M135.7 147h1.6M146.2 146h1.6M146.2 148h1.6M117.7 163h1.6M152.2 128.5h1.6M147.7 145h1.6M136.7 142.5h1.6M132.7 153.5h1.6M130.2 159h1.6M133.7 151.5h1.6M137.2 154h1.6M133.7 156.5h1.6M119.7 154.5h1.6M133.2 150.5h1.6M135.2 156h1.6M113.2 157h1.6M135.2 150.5h1.6M138.2 153h1.6M129.2 162.5h1.6M126.2 167.5h1.6M138.2 143h1.6M128.7 154h1.6M138.7 142h1.6M135.7 155.5h1.6M139.2 140h1.6M137.2 156h1.6M126.2 163.5h1.6M137.7 151.5h1.6M128.2 144h1.6M141.2 142.5h1.6M135.2 155.5h1.6M129.7 147h1.6M144.2 142.5h1.6M147.2 141h1.6M146.7 147h1.6M147.2 143h1.6M142.2 147h1.6M142.7 142.5h1.6M140.2 146h1.6M139.7 151.5h1.6M137.7 147.5h1.6M161.7 136h1.6M132.7 143h1.6M138.2 155.5h1.6M133.2 151.5h1.6M140.2 153.5h1.6M139.7 148h1.6M129.2 160.5h1.6M123.2 169h1.6M138.2 145.5h1.6M122.7 161h1.6M139.2 147h1.6M139.2 149h1.6M143.2 135.5h1.6M151.7 137h1.6M139.7 146h1.6M129.7 150.5h1.6M125.7 157h1.6M125.7 149.5h1.6M141.2 154h1.6M119.7 165.5h1.6M143.2 155.5h1.6M134.7 146.5h1.6M139.7 140.5h1.6M134.7 153h1.6M133.2 142.5h1.6M131.2 155.5h1.6M130.7 150h1.6M120.2 160.5h1.6M138.7 149.5h1.6M151.2 138.5h1.6M143.7 155h1.6M142.2 149h1.6M124.7 151.5h1.6M152.7 143h1.6M126.2 150h1.6M144.7 144h1.6M134.7 144h1.6M126.2 153h1.6M150.2 147h1.6M135.7 147.5h1.6M136.7 146h1.6M139.7 144h1.6M136.2 148.5h1.6M137.7 157h1.6M138.2 142h1.6M130.2 148h1.6M139.2 151h1.6M126.7 148.5h1.6M122.7 158.5h1.6M134.2 158h1.6M132.7 153h1.6M145.7 138.5h1.6M119.2 158h1.6M136.7 146.5h1.6M117.2 165.5h1.6M131.2 161h1.6M135.2 156.5h1.6M115.2 163.5h1.6M118.2 160h1.6M140.2 150.5h1.6M132.7 142.5h1.6M134.7 148.5h1.6M153.7 130h1.6M132.7 147h1.6M130.2 156.5h1.6M147.7 131.5h1.6M140.2 141.5h1.6M131.7 149.5h1.6M148.2 141h1.6M134.7 143.5h1.6M145.7 148.5h1.6M138.2 146.5h1.6M127.2 155.5h1.6M144.7 141h1.6M125.2 153h1.6M133.2 159h1.6M146.2 143h1.6M140.2 152.5h1.6M141.2 142h1.6M139.7 150.5h1.6M123.2 160h1.6M147.7 145.5h1.6M140.7 138h1.6M153.7 140h1.6M137.7 143.5h1.6M145.2 145h1.6M155.2 143h1.6M136.2 153.5h1.6M151.2 135h1.6M152.7 137h1.6M150.2 132h1.6M141.7 139.5h1.6M129.2 155.5h1.6M148.7 143h1.6M135.2 140.5h1.6M140.7 146h1.6M139.7 150h1.6M149.7 140h1.6M139.2 141.5h1.6M133.7 158h1.6M138.2 141.5h1.6M145.2 146.5h1.6M134.7 160h1.6M127.2 145h1.6M134.2 153h1.6M132.2 154.5h1.6M140.7 147.5h1.6M144.2 139h1.6M153.2 134.5h1.6M143.7 135.5h1.6M146.7 142.5h1.6M147.2 137.5h1.6M131.2 148.5h1.6M141.7 142.5h1.6M139.7 147h1.6M135.7 150.5h1.6M132.7 152h1.6M130.7 146.5h1.6M118.2 148h1.6M143.2 147.5h1.6M140.7 154.5h1.6M134.2 143.5h1.6M138.2 144.5h1.6M144.2 145h1.6M134.2 156.5h1.6M137.7 152h1.6M125.7 165h1.6M116.7 164.5h1.6M120.7 164.5h1.6M152.2 139.5h1.6M119.2 160.5h1.6M144.7 150h1.6M152.2 141h1.6M135.7 156h1.6M150.7 136h1.6M156.7 139.5h1.6M142.7 138.5h1.6M159.7 133.5h1.6M135.2 135.5h1.6M127.7 150.5h1.6M143.7 148h1.6M131.7 150.5h1.6M125.7 159h1.6M120.7 152.5h1.6M162.2 138h1.6M133.7 155h1.6M136.7 149h1.6M132.2 155.5h1.6M139.2 149.5h1.6M138.7 156h1.6M133.7 152.5h1.6M121.7 152.5h1.6M123.7 158h1.6M133.7 159h1.6M141.2 149h1.6M154.7 133h1.6M148.2 144h1.6M153.7 136.5h1.6M143.2 148h1.6M131.7 144h1.6M122.7 155h1.6M138.7 151.5h1.6M117.2 163.5h1.6M135.2 152.5h1.6M157.2 144.5h1.6M148.2 142h1.6M132.2 149.5h1.6M122.7 156.5h1.6M129.7 146.5h1.6M142.2 133h1.6M158.7 140h1.6M130.2 154h1.6M137.2 155.5h1.6M134.2 152h1.6M127.7 160h1.6M140.2 151h1.6M137.2 142h1.6M144.2 150.5h1.6M136.7 150.5h1.6M128.7 170.5h1.6M145.7 143h1.6M132.7 162h1.6M133.7 149.5h1.6M134.7 154.5h1.6M132.2 153.5h1.6M128.7 158h1.6M118.7 158.5h1.6M140.2 148.5h1.6M135.2 141.5h1.6M153.7 131h1.6M140.7 143h1.6M134.7 145.5h1.6M144.7 136.5h1.6M142.2 146h1.6M135.2 151.5h1.6M139.2 146.5h1.6M152.7 147h1.6M117.2 162h1.6M130.7 143h1.6M134.7 151h1.6M119.7 163.5h1.6M139.2 138h1.6M132.7 159h1.6M132.7 152.5h1.6M117.7 155h1.6M120.2 161.5h1.6M132.2 160.5h1.6M133.2 149.5h1.6M133.7 144.5h1.6M138.2 149h1.6M133.7 146.5h1.6M157.7 135h1.6M131.2 152.5h1.6M131.2 153.5h1.6M134.2 148.5h1.6M129.2 155h1.6M150.7 135h1.6M128.7 143h1.6M135.2 150h1.6M153.7 144h1.6M142.2 146.5h1.6M149.2 143h1.6M110.2 172.5h1.6M138.7 145h1.6M143.2 136.5h1.6M157.2 138h1.6M123.2 163h1.6M143.7 146h1.6M132.7 154.5h1.6M120.7 161.5h1.6M132.2 154h1.6M146.7 141.5h1.6M149.2 141.5h1.6M141.2 140.5h1.6M126.2 154h1.6M161.7 133h1.6M125.7 156h1.6M129.7 141h1.6M124.7 159.5h1.6M142.7 131.5h1.6M146.7 152.5h1.6M147.2 145h1.6M134.7 147h1.6M135.7 143.5h1.6M119.7 161.5h1.6M146.2 142h1.6M143.7 139.5h1.6M139.2 151.5h1.6M141.7 149h1.6M148.7 134h1.6M135.2 138.5h1.6M137.7 148.5h1.6M124.7 161h1.6M136.2 159h1.6M142.2 154h1.6M135.7 151.5h1.6M141.2 152h1.6M148.7 149.5h1.6M141.2 146h1.6M140.7 148h1.6M145.7 147h1.6M138.7 147.5h1.6M139.7 143h1.6M121.7 161h1.6M147.2 138h1.6M144.2 142h1.6M141.7 154h1.6M150.7 145h1.6M134.2 144.5h1.6M131.7 159.5h1.6M146.2 140h1.6M142.7 152.5h1.6M138.2 148h1.6M143.2 141h1.6M124.2 161h1.6M133.2 151h1.6M139.7 149.5h1.6M151.2 132.5h1.6M142.2 148h1.6M150.2 142.5h1.6M137.2 146h1.6M132.2 170h1.6M145.7 141.5h1.6M141.7 146.5h1.6M132.7 148.5h1.6M131.2 162h1.6M152.7 142.5h1.6M129.2 150h1.6M128.7 157.5h1.6M140.2 144.5h1.6M125.7 163.5h1.6M116.7 163.5h1.6M131.2 149h1.6M132.7 155.5h1.6M131.7 146.5h1.6M130.2 149.5h1.6M142.7 149h1.6M130.7 144h1.6M134.2 156h1.6M132.2 151h1.6M140.7 141.5h1.6M146.7 143h1.6M147.7 144.5h1.6M142.2 142h1.6M107.2 171.5h1.6M130.7 159h1.6M136.7 153.5h1.6M139.2 147.5h1.6M120.7 157.5h1.6M148.2 135.5h1.6M138.7 144.5h1.6M133.7 155.5h1.6M140.7 149.5h1.6M134.7 159h1.6M141.2 144.5h1.6M132.7 151h1.6M123.7 157.5h1.6M137.2 160h1.6M131.2 142.5h1.6M150.2 141.5h1.6M127.7 157h1.6M159.7 144.5h1.6M148.7 146.5h1.6M131.2 158.5h1.6M136.2 145h1.6M149.7 142.5h1.6M127.2 157.5h1.6M154.2 133h1.6M125.7 161.5h1.6M147.2 150.5h1.6M140.7 152.5h1.6M137.2 150.5h1.6M129.2 145h1.6M137.7 155h1.6M150.2 145.5h1.6M142.7 144h1.6M127.2 154.5h1.6M123.7 155.5h1.6M146.2 137.5h1.6M141.2 146.5h1.6M143.7 136.5h1.6M137.7 149h1.6M159.7 137h1.6M130.2 152h1.6M138.2 146h1.6M131.2 151h1.6M137.2 140h1.6M122.7 157h1.6M123.2 156h1.6M126.7 163.5h1.6M147.2 134h1.6M137.7 153.5h1.6M137.7 147h1.6M137.2 153.5h1.6M136.2 149h1.6M147.7 142h1.6M145.7 137.5h1.6M149.7 140.5h1.6M134.2 148h1.6M120.2 158h1.6M144.7 145.5h1.6M147.7 146h1.6M135.2 153h1.6M142.7 140.5h1.6M151.7 142.5h1.6M149.2 143.5h1.6M143.7 150.5h1.6M119.7 158h1.6M133.2 152h1.6M140.2 142h1.6M135.2 162h1.6M136.2 155h1.6M124.7 150h1.6M138.7 150.5h1.6M137.2 146.5h1.6M149.7 146h1.6M145.2 143.5h1.6M138.7 147h1.6M139.2 148.5h1.6M151.2 137.5h1.6M115.2 166h1.6M137.7 143h1.6M127.7 156.5h1.6M139.7 145h1.6M130.2 147.5h1.6M119.7 161h1.6M132.2 148.5h1.6M128.7 159.5h1.6M142.7 143h1.6M130.2 155h1.6M155.2 137.5h1.6M135.2 142.5h1.6M131.7 156h1.6M131.2 150h1.6M127.2 156h1.6M153.7 141h1.6M137.7 153h1.6M150.7 148.5h1.6M129.7 156h1.6M139.2 145h1.6M157.2 131h1.6M126.7 161h1.6M153.2 145.5h1.6M149.2 142h1.6M125.7 160h1.6M129.7 156.5h1.6M146.7 142h1.6M129.7 141.5h1.6M142.7 142h1.6M141.7 151.5h1.6M129.2 144h1.6M126.2 148h1.6M158.2 144h1.6M135.2 152h1.6M121.2 165h1.6M139.7 147.5h1.6M122.7 154.5h1.6M132.2 157h1.6M141.7 139h1.6M133.7 159.5h1.6M131.7 148h1.6M150.7 129h1.6M141.2 155h1.6M124.7 152.5h1.6M134.2 161h1.6M137.2 148.5h1.6M142.7 153h1.6M141.2 147h1.6M131.7 143.5h1.6M146.2 154h1.6M147.2 146.5h1.6M142.2 140h1.6M131.7 151.5h1.6M119.2 158.5h1.6M130.7 155h1.6M141.2 148.5h1.6M115.7 167.5h1.6M134.7 156h1.6M127.2 156.5h1.6M148.2 136.5h1.6M147.7 137.5h1.6M131.2 161.5h1.6M162.2 130.5h1.6M126.7 152.5h1.6M134.7 150h1.6M130.7 160.5h1.6M135.2 144.5h1.6M129.7 163h1.6M146.7 140.5h1.6M143.2 152h1.6M139.7 157h1.6M153.2 140h1.6M130.2 156h1.6M151.2 148.5h1.6M138.7 156.5h1.6M137.2 144.5h1.6M137.2 148h1.6M138.2 147.5h1.6M136.2 148h1.6M126.7 149.5h1.6M136.7 150h1.6M130.7 162h1.6M129.7 152h1.6M131.2 154h1.6M137.7 150.5h1.6M128.7 163.5h1.6M109.7 167h1.6M118.7 156h1.6M128.7 155.5h1.6M124.7 155.5h1.6M146.7 149.5h1.6M128.7 160.5h1.6M138.2 159h1.6M130.2 163h1.6M125.2 163h1.6M139.7 143.5h1.6M137.2 141.5h1.6M144.2 143.5h1.6M153.2 135h1.6M138.2 145h1.6M131.7 144.5h1.6M142.2 153.5h1.6M131.2 148h1.6M127.7 153.5h1.6M157.2 137h1.6M116.2 157h1.6M142.2 150.5h1.6M125.7 152.5h1.6M134.2 149h1.6M128.2 146.5h1.6M137.2 150h1.6M131.7 150h1.6M129.7 150h1.6M131.7 162h1.6M137.7 142h1.6M136.2 140.5h1.6M139.7 148.5h1.6M134.2 164h1.6M129.7 154.5h1.6M128.2 154h1.6M146.2 147h1.6M142.7 136.5h1.6M134.7 155.5h1.6M138.7 150h1.6M121.2 159h1.6M114.7 162h1.6M132.2 159.5h1.6M136.2 160.5h1.6M121.7 159h1.6M122.7 164h1.6M146.7 152h1.6M128.2 153h1.6M121.2 160.5h1.6M154.7 129h1.6M142.2 143.5h1.6M128.2 152.5h1.6M147.2 133h1.6M119.7 156h1.6M122.7 155.5h1.6M128.7 153.5h1.6M147.7 137h1.6M124.2 163h1.6M131.7 157h1.6M137.2 145.5h1.6M140.2 143.5h1.6M154.7 131.5h1.6M138.2 148.5h1.6M131.7 149h1.6M136.7 155h1.6M133.7 154.5h1.6M128.2 151h1.6M129.7 161.5h1.6M134.2 157h1.6M119.2 156h1.6M145.7 154h1.6M119.2 157h1.6M153.2 132h1.6M151.2 136.5h1.6M148.7 144.5h1.6M151.7 146h1.6M145.7 150.5h1.6M137.7 164.5h1.6M122.7 146.5h1.6M136.7 147.5h1.6M118.2 158.5h1.6M131.2 155h1.6M129.2 148.5h1.6M129.7 149h1.6M143.2 143.5h1.6M135.7 149.5h1.6M140.7 132h1.6M117.7 170.5h1.6M123.7 162h1.6M122.2 155.5h1.6M144.7 143.5h1.6M129.7 161h1.6M138.7 143.5h1.6M132.7 160.5h1.6M145.2 141h1.6M133.7 140h1.6M114.7 162.5h1.6M137.2 138.5h1.6M140.7 154h1.6M129.2 157h1.6M120.2 161h1.6M160.7 146h1.6M134.2 158.5h1.6M136.2 149.5h1.6M121.2 155h1.6M140.2 148h1.6M148.2 154.5h1.6M150.7 148h1.6M128.7 156.5h1.6M140.2 145h1.6M143.7 145.5h1.6M124.2 151.5h1.6M122.7 150h1.6M148.7 151.5h1.6M144.7 145h1.6M133.7 161.5h1.6M125.2 160h1.6M152.2 146.5h1.6M121.2 158.5h1.6M133.7 161h1.6M123.7 166h1.6M137.7 154.5h1.6M153.2 129h1.6M136.7 153h1.6M149.7 147.5h1.6M148.7 145.5h1.6M128.7 149h1.6M131.2 159h1.6M153.2 141h1.6M136.7 155.5h1.6M138.2 154h1.6M132.7 156h1.6M138.7 138.5h1.6M136.2 156h1.6M126.7 162.5h1.6M122.7 159.5h1.6M132.2 156h1.6M146.2 139.5h1.6M156.7 132.5h1.6M137.7 144h1.6M127.7 158.5h1.6M119.2 169h1.6M132.7 157.5h1.6M148.2 136h1.6M121.2 155.5h1.6M147.7 148h1.6M139.7 155h1.6M125.2 146h1.6M143.2 150.5h1.6M135.2 158.5h1.6M123.2 168.5h1.6M137.7 136h1.6M128.7 152h1.6M123.2 157.5h1.6M127.7 153h1.6M145.7 150h1.6M135.7 154h1.6M142.2 137h1.6M130.2 149h1.6M129.7 153h1.6M119.2 164h1.6M166.7 131.5h1.6M121.2 153h1.6M118.7 146h1.6M138.7 146.5h1.6M129.7 153.5h1.6M123.2 162.5h1.6M139.7 159h1.6M144.7 143h1.6M149.2 135.5h1.6M132.7 148h1.6M140.7 146.5h1.6M148.2 144.5h1.6M144.7 151h1.6M137.2 144h1.6M148.2 146.5h1.6M126.2 161h1.6M144.2 150h1.6M136.2 147.5h1.6M133.2 157h1.6M130.7 150.5h1.6M128.7 158.5h1.6M125.2 152.5h1.6M131.2 152h1.6M146.2 141.5h1.6M126.2 159h1.6M130.7 153h1.6M144.2 132h1.6M142.2 152h1.6M143.2 143h1.6M135.2 146.5h1.6M135.2 157h1.6M144.7 146.5h1.6M155.7 142h1.6M151.7 147.5h1.6M147.2 148.5h1.6M139.7 151h1.6M123.7 153h1.6M140.7 153.5h1.6M145.2 148h1.6M139.2 153h1.6M126.2 155h1.6M146.2 149h1.6M152.2 145.5h1.6M143.7 150h1.6M150.2 141h1.6M131.7 159h1.6M150.2 145h1.6M141.7 151h1.6M128.7 148h1.6M124.2 164.5h1.6M142.7 139h1.6M136.2 154.5h1.6M129.2 148h1.6M145.2 148.5h1.6M130.7 164.5h1.6M144.7 149h1.6M131.2 157h1.6M131.2 158h1.6M135.2 143h1.6M137.7 152.5h1.6M140.7 151h1.6M138.7 148.5h1.6M131.7 160.5h1.6M131.7 155.5h1.6M150.7 147h1.6M149.7 141h1.6M135.2 148h1.6M143.7 149h1.6M147.7 148.5h1.6M129.7 160h1.6M136.2 152.5h1.6M151.2 146.5h1.6M122.7 150.5h1.6M129.7 166.5h1.6M140.7 148.5h1.6M151.7 135h1.6M133.7 152h1.6M150.2 135h1.6M136.2 158h1.6M129.2 149.5h1.6M124.2 159.5h1.6M144.7 140h1.6M135.7 143h1.6M145.7 152.5h1.6M132.7 141h1.6M139.7 156h1.6M126.2 150.5h1.6M130.2 155.5h1.6M147.2 155h1.6M132.2 141.5h1.6M147.7 133.5h1.6M133.7 160h1.6M149.2 140h1.6M123.2 155h1.6M154.2 145h1.6M134.7 149.5h1.6M143.7 145h1.6M121.2 169h1.6M139.2 159.5h1.6M120.7 159.5h1.6M135.7 148h1.6M127.7 147.5h1.6M126.7 146.5h1.6M159.2 139.5h1.6M129.2 153h1.6M140.2 146.5h1.6M134.7 151.5h1.6M126.2 169h1.6M131.7 152h1.6M146.7 139.5h1.6M130.2 145.5h1.6M132.2 152h1.6M125.7 169.5h1.6M140.2 145.5h1.6M134.7 157h1.6M138.2 158h1.6M136.2 143h1.6M136.2 159.5h1.6M140.2 147.5h1.6M135.2 151h1.6M115.2 165h1.6M123.2 147.5h1.6M139.2 142.5h1.6M144.7 157h1.6M124.2 162h1.6M150.2 149.5h1.6M132.7 149h1.6M141.2 145.5h1.6M141.2 150.5h1.6M144.7 147.5h1.6M134.2 151h1.6M135.7 148.5h1.6M118.2 164.5h1.6M133.2 149h1.6M123.2 156.5h1.6M148.2 135h1.6M153.2 139.5h1.6M143.7 143.5h1.6M130.2 150h1.6M144.2 141h1.6M134.2 149.5h1.6M142.2 145h1.6M129.2 156.5h1.6M131.2 153h1.6M156.7 142.5h1.6M164.2 134h1.6M126.7 160h1.6M143.2 160h1.6M139.2 154h1.6M144.7 141.5h1.6M147.2 145.5h1.6M145.7 156h1.6M138.2 151h1.6M141.2 152.5h1.6M141.7 153.5h1.6M144.2 148h1.6M141.7 155h1.6M126.7 160.5h1.6M160.2 147h1.6M124.7 160h1.6M153.2 145h1.6M132.7 150.5h1.6M110.2 170.5h1.6M133.2 148.5h1.6M142.7 145.5h1.6M139.7 145.5h1.6M149.7 143h1.6M118.7 162.5h1.6M126.7 157h1.6M145.7 148h1.6M129.7 159h1.6M121.7 165h1.6M116.2 159h1.6M135.7 152h1.6M114.2 163h1.6M130.7 166h1.6M142.2 144h1.6M142.2 151h1.6M144.2 146.5h1.6M141.2 139.5h1.6M145.2 137h1.6M149.7 158.5h1.6M145.7 144h1.6M142.2 151.5h1.6M137.2 151h1.6M138.2 149.5h1.6M145.2 140.5h1.6M132.2 149h1.6M131.7 140.5h1.6M134.2 144h1.6M149.2 150h1.6M134.2 155.5h1.6M127.7 156h1.6M125.2 159h1.6M124.7 156.5h1.6M149.2 148h1.6M128.2 155h1.6M149.7 132.5h1.6M123.7 158.5h1.6M142.7 148.5h1.6M129.7 159.5h1.6M143.2 157h1.6M134.7 155h1.6M137.2 140.5h1.6M149.7 137.5h1.6M146.2 145h1.6M136.7 149.5h1.6M155.2 132h1.6M122.2 164.5h1.6M174.7 127h1.6M135.2 141h1.6M151.7 135.5h1.6M148.2 140h1.6M154.2 140.5h1.6M145.2 150.5h1.6M122.7 159h1.6M129.2 154.5h1.6M142.7 150.5h1.6M132.7 161h1.6M131.2 139.5h1.6M125.7 161h1.6M130.2 160.5h1.6M122.2 160h1.6M142.7 151.5h1.6M148.7 153h1.6M132.2 159h1.6M138.2 150h1.6M162.7 131.5h1.6M118.2 165h1.6M139.7 153.5h1.6M130.7 146h1.6M145.2 142h1.6M135.7 154.5h1.6M112.7 164h1.6M148.7 140h1.6M125.2 155h1.6M127.2 162.5h1.6M131.2 162.5h1.6M134.2 155h1.6M142.7 141h1.6M145.2 144.5h1.6M133.2 156h1.6M145.2 151h1.6M127.7 145h1.6M139.2 150.5h1.6M133.7 142.5h1.6M144.7 148h1.6M137.2 152.5h1.6M141.2 151.5h1.6M153.7 139h1.6M136.2 157h1.6M143.7 144h1.6M144.7 137h1.6M120.7 169h1.6M154.2 133.5h1.6M124.7 157h1.6M135.7 146h1.6M156.7 133h1.6M128.2 161h1.6M136.7 158h1.6M121.7 156.5h1.6M136.7 152.5h1.6M138.2 157h1.6M162.7 142.5h1.6M130.7 147h1.6M145.2 135.5h1.6M128.7 154.5h1.6M143.2 139.5h1.6M143.7 146.5h1.6M119.2 159h1.6M136.7 137.5h1.6M142.7 145h1.6M131.7 154.5h1.6M140.7 150.5h1.6M129.2 152h1.6M130.2 146h1.6M139.2 153.5h1.6M125.2 162.5h1.6M143.2 156.5h1.6M135.7 150h1.6M122.7 151h1.6M146.7 146.5h1.6M157.2 140h1.6M145.7 136.5h1.6M120.2 154h1.6M148.7 141.5h1.6M146.2 136h1.6M133.7 153h1.6M131.2 150.5h1.6M135.2 136.5h1.6M158.7 142.5h1.6M124.7 154h1.6M130.2 148.5h1.6M131.2 156.5h1.6M136.2 142h1.6M123.7 159h1.6M144.7 137.5h1.6M138.2 160.5h1.6M129.7 147.5h1.6M141.7 147.5h1.6M130.7 151h1.6M138.7 152h1.6M145.2 144h1.6M128.2 158h1.6M147.2 143.5h1.6M141.7 143h1.6M128.7 155h1.6M132.7 144h1.6M135.7 149h1.6M140.7 142.5h1.6M127.2 161.5h1.6M125.7 160.5h1.6M147.2 144h1.6M140.7 153h1.6M134.2 138.5h1.6M150.7 139h1.6M125.7 158h1.6M143.2 137.5h1.6M131.2 157.5h1.6M146.7 148.5h1.6M151.7 144h1.6M124.2 159h1.6M139.2 158h1.6M127.7 157.5h1.6M143.2 145.5h1.6M130.7 152h1.6M125.7 162.5h1.6M155.7 131h1.6M144.7 139.5h1.6M133.7 141h1.6M141.7 148.5h1.6M128.2 157.5h1.6M126.7 153.5h1.6M137.2 155h1.6M138.2 155h1.6M126.7 155.5h1.6M133.7 146h1.6M136.7 156.5h1.6M141.2 147.5h1.6M146.7 157.5h1.6M134.2 161.5h1.6M144.7 142.5h1.6M141.2 138h1.6M124.2 155h1.6M140.2 155h1.6M123.7 166.5h1.6M125.7 157.5h1.6M125.7 149h1.6M136.2 155.5h1.6M132.7 149.5h1.6M130.7 155.5h1.6M142.7 131h1.6M142.2 153h1.6M119.2 151h1.6M136.7 158.5h1.6M135.2 153.5h1.6M127.2 148.5h1.6M141.2 153h1.6M151.7 140h1.6M131.2 149.5h1.6M161.7 135h1.6M148.7 135h1.6M144.2 149h1.6M138.7 139h1.6M128.2 151.5h1.6M131.7 146h1.6M133.2 143h1.6M126.2 151.5h1.6M131.7 157.5h1.6M145.7 155h1.6M123.2 170.5h1.6M150.2 143.5h1.6M136.7 145h1.6M123.2 158.5h1.6M123.2 152.5h1.6M160.7 137h1.6M124.7 157.5h1.6M139.7 149h1.6M118.2 155h1.6M147.7 144h1.6M124.7 161.5h1.6M135.2 162.5h1.6M136.2 151.5h1.6M140.7 139.5h1.6M135.2 155h1.6M161.7 131.5h1.6M131.2 146h1.6M149.2 136h1.6M121.2 152h1.6M127.2 149.5h1.6M133.2 153.5h1.6M138.2 152.5h1.6M139.2 140.5h1.6M136.7 151h1.6M149.2 138.5h1.6M141.7 145h1.6M149.2 144.5h1.6M151.7 139.5h1.6M145.7 140h1.6M130.2 150.5h1.6M121.7 159.5h1.6M144.7 144.5h1.6M150.7 139.5h1.6M135.2 160h1.6M149.7 146.5h1.6M143.2 141.5h1.6M126.2 160.5h1.6M131.7 153h1.6M127.7 155.5h1.6M118.7 160.5h1.6M133.7 138h1.6M142.7 152h1.6M125.2 154h1.6M133.2 150h1.6M123.7 161.5h1.6M119.7 158.5h1.6M138.2 154.5h1.6M110.2 175.5h1.6M111.2 179.5h1.6M143.7 141.5h1.6M134.2 141h1.6M145.2 151.5h1.6M140.7 166h1.6M117.2 151h1.6M134.7 158.5h1.6M135.7 159.5h1.6M162.2 126h1.6M158.2 130.5h1.6M126.2 147.5h1.6M128.2 148.5h1.6M141.7 148h1.6M147.2 149h1.6M128.2 164.5h1.6M162.2 133.5h1.6M144.7 133h1.6M124.2 173h1.6M120.2 173.5h1.6M123.2 153h1.6M147.7 159h1.6M125.7 176.5h1.6M128.2 132h1.6M137.2 134.5h1.6M140.2 154.5h1.6M139.7 138.5h1.6M132.2 141h1.6M117.7 157.5h1.6M152.7 146.5h1.6M151.2 157h1.6M115.2 146.5h1.6M102.2 158.5h1.6M134.2 150h1.6M150.2 125h1.6M114.7 161h1.6M142.2 161.5h1.6M121.2 166h1.6M139.7 155.5h1.6M109.2 175.5h1.6M118.2 167h1.6M134.7 161h1.6M133.2 141.5h1.6M146.2 151.5h1.6M143.7 141h1.6M151.7 151h1.6M131.7 168.5h1.6M132.2 147.5h1.6M173.7 115.5h1.6M168.2 133h1.6M148.7 144h1.6M143.2 139h1.6M152.2 144.5h1.6M162.2 132.5h1.6M145.7 172h1.6M142.2 159.5h1.6M168.2 135h1.6M115.2 175.5h1.6M155.2 165.5h1.6M120.2 173h1.6M125.2 151.5h1.6M137.2 153h1.6M132.7 154h1.6M128.2 159h1.6M121.7 160.5h1.6M123.2 168h1.6M138.2 134h1.6M124.2 167h1.6M145.7 143.5h1.6M133.2 155.5h1.6M122.2 138h1.6M159.7 149.5h1.6M130.2 138h1.6M108.7 162h1.6M146.2 149.5h1.6M97.2 173h1.6M121.7 139.5h1.6M117.2 160.5h1.6M161.2 129.5h1.6M163.7 135h1.6M151.7 133h1.6M125.7 151h1.6M135.7 170h1.6M150.2 132.5h1.6M140.7 159h1.6M140.7 162h1.6M118.7 157.5h1.6M116.2 163h1.6M156.2 128.5h1.6M157.2 134.5h1.6M143.2 144.5h1.6M148.2 128.5h1.6M139.2 144.5h1.6M127.7 148h1.6M157.7 148h1.6M172.2 128.5h1.6M132.7 161.5h1.6M107.2 164.5h1.6M140.7 157h1.6M132.2 139.5h1.6M154.7 141h1.6M117.7 159.5h1.6M112.2 169h1.6M135.2 139.5h1.6M114.7 154h1.6M138.7 162h1.6M114.7 159.5h1.6M122.7 140h1.6M135.7 160.5h1.6M138.2 115h1.6M130.2 164h1.6M163.7 134h1.6M149.7 157.5h1.6M151.2 130h1.6M150.7 141.5h1.6M152.7 153.5h1.6M149.2 146h1.6M126.7 159h1.6M120.2 143h1.6M140.7 155h1.6M137.7 142.5h1.6M139.2 152h1.6M126.7 147.5h1.6M124.7 177.5h1.6M142.7 134.5h1.6M145.2 145.5h1.6M137.7 175h1.6M138.2 141h1.6M117.7 173.5h1.6M125.7 167h1.6M158.7 136.5h1.6M116.2 144.5h1.6M141.2 165.5h1.6M123.2 161h1.6M112.7 172.5h1.6M94.7 169h1.6M153.2 154h1.6M121.2 144.5h1.6M156.2 150h1.6M156.7 150.5h1.6M115.7 178h1.6M132.7 162.5h1.6M141.7 165h1.6M153.2 146.5h1.6M141.2 163h1.6M118.2 156.5h1.6M133.2 163h1.6M124.2 168.5h1.6M137.2 135.5h1.6M107.2 156h1.6M146.7 136h1.6M116.2 166h1.6M139.7 152.5h1.6M117.2 162.5h1.6M149.7 139.5h1.6M152.2 140h1.6M156.7 141.5h1.6M141.2 149.5h1.6M135.7 159h1.6M149.2 136.5h1.6M149.2 157.5h1.6M151.7 139h1.6M142.2 139h1.6M126.2 154.5h1.6M132.7 155h1.6M120.7 162.5h1.6M129.2 144.5h1.6M148.2 142.5h1.6M121.7 163h1.6M181.7 123h1.6M141.2 159h1.6M151.7 136.5h1.6M141.2 127.5h1.6M103.7 173h1.6M125.2 140.5h1.6M150.2 128h1.6M110.7 179.5h1.6M122.2 154.5h1.6M128.2 150.5h1.6M104.7 156.5h1.6M127.2 154h1.6M136.2 169h1.6M141.2 136.5h1.6M187.2 123.5h1.6M138.2 142.5h1.6M149.2 151.5h1.6M152.7 130.5h1.6M177.2 136.5h1.6M119.7 171h1.6M132.2 127.5h1.6M142.2 142.5h1.6M131.2 135h1.6M120.7 158h1.6M125.2 165h1.6M127.7 143.5h1.6M132.7 141.5h1.6M122.2 162.5h1.6M121.7 158.5h1.6M151.7 155h1.6M136.2 168h1.6M169.2 127h1.6M154.7 147.5h1.6M173.2 137.5h1.6M152.2 139h1.6M115.2 159h1.6M132.2 146h1.6M125.2 145h1.6M127.7 170.5h1.6M120.7 138.5h1.6M112.7 146.5h1.6M148.2 156h1.6M130.2 139.5h1.6M120.2 165.5h1.6M109.2 158h1.6M134.2 160h1.6M149.2 149h1.6M140.2 156h1.6M94.2 181.5h1.6M133.2 158.5h1.6M135.7 169h1.6M137.7 160.5h1.6M118.2 157.5h1.6M127.7 149h1.6M127.2 155h1.6M171.2 123h1.6M146.7 144h1.6M139.2 155h1.6M141.2 151h1.6M131.7 154h1.6M139.7 154.5h1.6M155.2 152.5h1.6M142.7 149.5h1.6M156.2 140.5h1.6M129.2 166.5h1.6M117.7 171.5h1.6M129.2 158.5h1.6M134.7 136h1.6M152.2 141.5h1.6M128.2 153.5h1.6M125.2 156h1.6M158.2 158.5h1.6M143.7 127h1.6M159.2 143.5h1.6M147.2 155.5h1.6M130.2 142.5h1.6M105.7 164h1.6M157.2 142h1.6M146.7 160.5h1.6M121.7 163.5h1.6M137.7 154h1.6M155.7 136.5h1.6M135.2 147h1.6M117.7 150.5h1.6M134.7 137.5h1.6M155.2 142h1.6M113.7 158h1.6M139.2 138.5h1.6M128.7 177h1.6M111.2 154h1.6M148.2 159.5h1.6M120.7 154h1.6M147.7 146.5h1.6M120.7 160h1.6M111.7 165.5h1.6M131.2 164h1.6M160.2 141.5h1.6M132.7 144.5h1.6M150.2 161.5h1.6M131.2 168.5h1.6M138.2 147h1.6M115.7 167h1.6M120.2 174.5h1.6M96.7 170h1.6M134.7 152.5h1.6M130.7 147.5h1.6M152.7 152h1.6M164.7 148h1.6M136.2 156.5h1.6M149.7 155.5h1.6M155.7 134h1.6M122.2 152h1.6M150.2 151.5h1.6M154.7 152h1.6M128.2 159.5h1.6M114.7 149h1.6M142.7 165h1.6M142.7 144.5h1.6M148.2 145h1.6M135.7 137.5h1.6M156.7 137.5h1.6M152.2 136.5h1.6M154.7 151.5h1.6M145.7 168h1.6M133.2 142h1.6M170.2 118h1.6M155.2 138h1.6M124.7 170.5h1.6M120.2 150h1.6M124.7 144h1.6M115.7 148h1.6M126.2 169.5h1.6M136.7 164h1.6M146.7 128.5h1.6M138.7 133h1.6M142.7 157h1.6M120.7 172.5h1.6M124.7 162.5h1.6M137.2 145h1.6M143.7 164.5h1.6M119.2 152.5h1.6M126.2 153.5h1.6M117.7 149.5h1.6M143.2 146h1.6M147.2 154h1.6M135.7 139h1.6M140.2 159.5h1.6M141.7 168h1.6M165.7 133.5h1.6M107.7 160.5h1.6M148.7 133.5h1.6M124.7 147h1.6M122.2 167.5h1.6M130.2 143.5h1.6M124.7 178h1.6M153.2 149.5h1.6M155.7 145.5h1.6M89.7 178.5h1.6M125.2 176.5h1.6M148.7 160h1.6M143.7 156.5h1.6M138.7 140.5h1.6M144.7 140.5h1.6M157.2 154.5h1.6M165.2 140h1.6M117.2 167h1.6M132.2 146.5h1.6M120.7 160.5h1.6M152.2 133h1.6M165.7 125.5h1.6M116.2 156.5h1.6M139.2 156h1.6M143.7 153.5h1.6M155.7 146h1.6M155.7 149.5h1.6M106.2 179.5h1.6M158.2 142h1.6M132.7 159.5h1.6M151.2 131h1.6M132.7 151.5h1.6M119.7 162.5h1.6M144.2 135h1.6M163.2 145h1.6M132.2 148h1.6M133.2 157.5h1.6M158.2 135h1.6M154.2 134h1.6M135.7 141.5h1.6M131.7 136h1.6M135.7 140h1.6M135.2 166h1.6M125.2 137h1.6M122.7 148h1.6M144.2 157.5h1.6M136.7 156h1.6M162.7 137.5h1.6M145.2 161h1.6M132.7 160h1.6M135.7 153.5h1.6M139.2 142h1.6M146.2 150.5h1.6M118.2 153.5h1.6M100.2 170.5h1.6M147.7 143h1.6M161.7 153.5h1.6M155.2 140h1.6M146.2 158.5h1.6M154.7 143h1.6M126.7 136.5h1.6M113.2 159.5h1.6M120.7 149h1.6M124.7 149h1.6M157.7 153.5h1.6M151.2 124.5h1.6M147.7 154.5h1.6M144.2 152h1.6M119.2 146.5h1.6M114.7 166h1.6M117.7 162.5h1.6M133.7 150h1.6M134.7 134h1.6M123.7 156.5h1.6M151.2 145h1.6M109.7 158h1.6M135.2 145.5h1.6M136.2 138h1.6M127.7 159h1.6M113.7 161.5h1.6M149.2 149.5h1.6M133.2 163.5h1.6M147.7 143.5h1.6M144.2 133h1.6M143.2 154h1.6M138.2 136.5h1.6M144.2 154h1.6M149.7 162.5h1.6M128.7 142h1.6M125.2 159.5h1.6M118.7 163.5h1.6M152.7 141h1.6M127.7 155h1.6M115.7 161.5h1.6M123.2 153.5h1.6M176.2 123h1.6M128.7 166.5h1.6M122.7 156h1.6M152.7 146h1.6M147.7 134h1.6M108.2 167.5h1.6M154.7 150h1.6M117.7 157h1.6M151.7 152h1.6M123.7 145.5h1.6M137.2 159.5h1.6M114.7 156.5h1.6M160.2 121.5h1.6M121.7 149h1.6M151.2 146h1.6M133.7 147.5h1.6M154.2 138h1.6M144.7 168h1.6M149.2 157h1.6M142.2 155h1.6M132.7 140h1.6M158.2 134h1.6M134.7 165.5h1.6M122.2 144h1.6M145.2 146h1.6M138.7 141.5h1.6M157.2 153h1.6M114.2 154.5h1.6M123.2 138.5h1.6M132.7 139.5h1.6M107.2 162.5h1.6M144.7 153h1.6M121.7 167.5h1.6M146.7 121.5h1.6M142.2 141.5h1.6M139.7 160h1.6M133.2 166.5h1.6M136.2 173.5h1.6M135.7 158.5h1.6M157.7 143.5h1.6M142.7 136h1.6M139.7 157.5h1.6M122.7 149h1.6M121.7 153.5h1.6M156.2 141h1.6M111.2 163.5h1.6M112.7 158h1.6M143.7 159.5h1.6M136.2 161h1.6M119.2 184.5h1.6M124.2 135.5h1.6M132.2 144h1.6M141.7 158.5h1.6M147.7 138h1.6M137.2 143h1.6M125.2 164.5h1.6M136.2 138.5h1.6M154.7 107.5h1.6M139.7 129.5h1.6M151.2 158h1.6M156.2 138.5h1.6M120.2 153.5h1.6M161.2 155h1.6M134.7 163.5h1.6M149.2 137.5h1.6M156.7 141h1.6M110.7 152.5h1.6M143.7 151.5h1.6M129.7 154h1.6M139.7 161h1.6M119.2 176.5h1.6M146.2 137h1.6M123.2 167h1.6M124.2 155.5h1.6M154.7 136.5h1.6M138.7 155h1.6M149.2 153h1.6M138.2 131.5h1.6M145.2 152.5h1.6M146.7 140h1.6M120.7 159h1.6M125.2 143h1.6M124.2 133h1.6M127.2 153.5h1.6M128.7 147.5h1.6M158.2 153.5h1.6M145.7 145.5h1.6M153.2 146h1.6M125.2 155.5h1.6M146.7 168.5h1.6M151.7 140.5h1.6M138.2 129.5h1.6M146.2 169.5h1.6M112.2 158.5h1.6M158.2 170h1.6M155.7 147h1.6M160.2 127.5h1.6M140.7 144.5h1.6M143.7 133h1.6M118.2 153h1.6M142.2 124.5h1.6M154.2 149.5h1.6M149.2 129.5h1.6M148.7 136.5h1.6M138.2 139h1.6M123.7 160h1.6M136.2 129.5h1.6M171.7 132h1.6M163.7 110h1.6M136.2 119h1.6M160.2 133.5h1.6M140.7 140h1.6M168.7 141.5h1.6M151.7 162.5h1.6M144.2 171h1.6M137.2 139.5h1.6M187.2 136h1.6M106.2 143.5h1.6M141.2 148h1.6M125.2 149h1.6M160.7 134h1.6M184.7 134.5h1.6M122.7 127h1.6M78.7 177h1.6M149.7 130h1.6M155.2 141.5h1.6M104.7 169h1.6M81.7 156.5h1.6M158.7 146h1.6M146.7 133.5h1.6M148.2 149.5h1.6M108.7 140.5h1.6M132.2 170.5h1.6M120.2 140.5h1.6M157.7 155.5h1.6M115.7 151.5h1.6M176.2 137.5h1.6M148.2 140.5h1.6M95.2 177.5h1.6M178.2 129h1.6M151.2 160h1.6M146.7 153.5h1.6M108.7 186h1.6M140.7 136h1.6M92.2 188h1.6M117.7 158h1.6M162.7 114.5h1.6M171.7 139h1.6M131.2 147.5h1.6M128.2 177h1.6M158.7 130.5h1.6M143.7 117h1.6M118.7 164h1.6M152.7 126h1.6M100.2 186h1.6M182.7 151h1.6M104.7 163h1.6M117.2 134h1.6M126.2 156h1.6M157.7 141h1.6M161.2 147.5h1.6M146.7 139h1.6M145.7 126.5h1.6M150.2 140h1.6M133.2 136h1.6M106.7 188h1.6M83.7 162.5h1.6M84.2 163h1.6M128.2 134h1.6M134.2 142.5h1.6M132.2 143h1.6M116.2 154h1.6M113.2 177.5h1.6M99.7 172h1.6M160.2 117.5h1.6M158.2 132h1.6M113.7 170h1.6M130.2 141.5h1.6M150.7 143h1.6M176.2 129.5h1.6M129.2 159.5h1.6M165.7 132.5h1.6M95.7 154.5h1.6M125.2 158.5h1.6M133.7 136h1.6M133.2 175h1.6M187.7 124h1.6M148.7 154h1.6M117.7 156h1.6M160.2 138.5h1.6M154.2 139.5h1.6M124.2 143.5h1.6M124.7 140h1.6M102.7 153.5h1.6M144.7 161h1.6M156.2 130h1.6M160.2 131h1.6M162.7 146.5h1.6M137.7 177h1.6M124.2 140.5h1.6M170.2 140.5h1.6M150.7 143.5h1.6M120.2 151.5h1.6M154.2 147.5h1.6M151.7 122.5h1.6M160.7 149.5h1.6M157.7 161.5h1.6M183.2 139h1.6M149.7 159h1.6M116.7 136h1.6M108.7 153.5h1.6M148.7 152h1.6M150.7 113.5h1.6M162.7 134h1.6M197.7 134.5h1.6M113.7 140h1.6M149.2 139.5h1.6M131.7 135h1.6M138.7 136h1.6M149.7 135h1.6M147.2 177h1.6M154.2 158.5h1.6M170.2 143h1.6M119.2 137.5h1.6M109.2 129h1.6M160.7 124h1.6M124.7 150.5h1.6M154.7 172.5h1.6M157.7 157.5h1.6M153.2 132.5h1.6M146.7 161h1.6M121.2 173h1.6M162.7 136.5h1.6M136.7 166h1.6M181.2 117.5h1.6M153.2 123.5h1.6M115.2 156.5h1.6M126.7 133h1.6M113.7 135.5h1.6M99.2 173.5h1.6M142.7 105.5h1.6M167.2 160.5h1.6M154.7 167h1.6M145.7 122.5h1.6M110.2 145h1.6M144.7 177.5h1.6M125.2 149.5h1.6M154.7 138h1.6M116.2 173h1.6M133.2 169.5h1.6M180.2 129.5h1.6M115.7 153h1.6M175.2 149.5h1.6M138.7 149h1.6M140.2 173.5h1.6M108.2 149h1.6M168.2 159.5h1.6M162.2 155.5h1.6M111.7 164.5h1.6M169.7 120h1.6M130.2 141h1.6M114.7 156h1.6M124.2 150.5h1.6M118.2 135.5h1.6M140.2 154h1.6M93.2 148h1.6M149.2 137h1.6M118.2 132h1.6M163.2 127.5h1.6M171.2 184h1.6M165.2 126h1.6M125.2 135.5h1.6M106.7 135h1.6M76.7 172h1.6M139.7 168.5h1.6M135.2 125h1.6M132.7 156.5h1.6M175.2 150h1.6M144.2 116h1.6M145.7 153.5h1.6M121.2 131.5h1.6M167.2 141.5h1.6M132.2 172h1.6M130.2 151h1.6M157.7 142.5h1.6M148.7 132.5h1.6M186.7 129h1.6M140.7 163h1.6M96.2 164.5h1.6M153.2 138.5h1.6M169.7 138.5h1.6M140.2 158.5h1.6M165.2 111h1.6M179.7 129h1.6M120.7 145.5h1.6M117.2 172.5h1.6M162.7 155h1.6M147.2 128.5h1.6M109.2 155h1.6M116.7 143h1.6M107.7 162.5h1.6M103.7 165h1.6M108.2 158.5h1.6M97.2 149h1.6M134.7 148h1.6M156.7 147.5h1.6M130.7 168h1.6M140.2 150h1.6M141.7 118.5h1.6M132.2 129h1.6M137.7 162h1.6M139.7 146.5h1.6M116.7 164h1.6M154.7 118.5h1.6M91.7 136h1.6M146.7 135.5h1.6M107.2 158h1.6M164.7 113h1.6M159.2 139h1.6M122.7 177.5h1.6M142.7 157.5h1.6M146.2 138.5h1.6M197.2 121.5h1.6M112.2 168.5h1.6M161.2 121.5h1.6M133.7 169h1.6M150.7 155h1.6M170.2 188.5h1.6M144.2 158.5h1.6M152.7 167h1.6M171.7 146.5h1.6M107.7 165h1.6M106.2 149h1.6M121.7 165.5h1.6M112.7 137h1.6M166.2 140.5h1.6M190.2 131.5h1.6M160.7 114h1.6M123.7 182.5h1.6M134.2 132.5h1.6M119.7 171.5h1.6M169.2 137.5h1.6M148.7 133h1.6M172.7 168h1.6M141.7 161h1.6M105.2 189.5h1.6M99.2 177.5h1.6M153.2 143h1.6M166.2 131h1.6M155.2 119.5h1.6M136.2 144h1.6M118.2 166h1.6M160.7 130.5h1.6M176.2 103h1.6M201.2 96.5h1.6M189.2 116h1.6M139.7 122h1.6M195.7 116h1.6M177.7 154h1.6M191.2 147h1.6M193.2 102h1.6M214.7 150h1.6M132.2 139h1.6M155.2 139h1.6M191.7 121h1.6M172.7 117h1.6M174.7 83.5h1.6M217.2 33.5h1.6M216.2 143.5h1.6M226.7 93.5h1.6M176.7 138.5h1.6M163.2 181h1.6M209.7 84h1.6M190.7 126h1.6M200.7 170h1.6M213.2 141h1.6M173.2 128.5h1.6M199.7 105h1.6M178.2 132h1.6M143.7 131h1.6M181.7 134.5h1.6M190.2 140.5h1.6M204.2 146.5h1.6M187.7 86h1.6M81.7 164.5h1.6M76.2 172h1.6M84.2 188h1.6M84.2 159.5h1.6M97.2 153.5h1.6M82.2 180.5h1.6M95.7 174.5h1.6M72.2 164h1.6M80.7 165.5h1.6M91.2 163h1.6M83.7 176.5h1.6M73.2 184.5h1.6"/>
<line x1="314.5" y1="12.1" x2="314.5" y2="192.5" stroke-width="1.3"/>
<line x1="314.5" y1="12.6" x2="509.8" y2="11.4" stroke-width="1.2"/>
<line x1="509.8" y1="10.9" x2="509.8" y2="192.5" stroke-width="1.2"/>
<line x1="314.5" y1="192.0" x2="509.8" y2="192.0" stroke-width="1.3"/>
<line x1="369.4" y1="12.6" x2="369.4" y2="192.0" stroke-width="1.3"/>
<line x1="314.5" y1="135.5" x2="509.8" y2="135.5" stroke-width="1.3"/>
<line x1="316.2" y1="192.0" x2="316.2" y2="198.8" stroke-width="1.4"/>
<text x="307.2" y="214.6" font-size="13" text-anchor="start">10</text>
<text x="321.3" y="208.2" font-size="12.3" text-anchor="start">0</text>
<line x1="307.5" y1="191.4" x2="314.5" y2="191.4" stroke-width="1.5"/>
<text x="302.1" y="201.6" font-size="13.5" text-anchor="start" transform="rotate(-90 302.1 201.6)">10</text>
<text x="294.9" y="186.0" font-size="12.5" text-anchor="start" transform="rotate(-90 294.9 186.0)">0</text>
<line x1="330.6" y1="192.0" x2="330.6" y2="195.8" stroke-width="1.3"/>
<line x1="310.7" y1="178.0" x2="314.5" y2="178.0" stroke-width="1.3"/>
<line x1="339.1" y1="192.0" x2="339.1" y2="195.8" stroke-width="1.3"/>
<line x1="310.7" y1="170.2" x2="314.5" y2="170.2" stroke-width="1.3"/>
<line x1="345.0" y1="192.0" x2="345.0" y2="195.8" stroke-width="1.3"/>
<line x1="310.7" y1="164.7" x2="314.5" y2="164.7" stroke-width="1.3"/>
<line x1="349.7" y1="192.0" x2="349.7" y2="195.8" stroke-width="1.3"/>
<line x1="310.7" y1="160.4" x2="314.5" y2="160.4" stroke-width="1.3"/>
<line x1="353.5" y1="192.0" x2="353.5" y2="195.8" stroke-width="1.3"/>
<line x1="310.7" y1="156.9" x2="314.5" y2="156.9" stroke-width="1.3"/>
<line x1="356.7" y1="192.0" x2="356.7" y2="195.8" stroke-width="1.3"/>
<line x1="310.7" y1="153.9" x2="314.5" y2="153.9" stroke-width="1.3"/>
<line x1="359.5" y1="192.0" x2="359.5" y2="195.8" stroke-width="1.3"/>
<line x1="310.7" y1="151.3" x2="314.5" y2="151.3" stroke-width="1.3"/>
<line x1="361.9" y1="192.0" x2="361.9" y2="195.8" stroke-width="1.3"/>
<line x1="310.7" y1="149.0" x2="314.5" y2="149.0" stroke-width="1.3"/>
<line x1="364.1" y1="192.0" x2="364.1" y2="198.8" stroke-width="1.4"/>
<text x="355.1" y="214.6" font-size="13" text-anchor="start">10</text>
<text x="369.2" y="208.2" font-size="12.3" text-anchor="start">1</text>
<line x1="307.5" y1="147.0" x2="314.5" y2="147.0" stroke-width="1.5"/>
<text x="302.1" y="157.2" font-size="13.5" text-anchor="start" transform="rotate(-90 302.1 157.2)">10</text>
<text x="294.9" y="141.6" font-size="12.5" text-anchor="start" transform="rotate(-90 294.9 141.6)">1</text>
<line x1="378.5" y1="192.0" x2="378.5" y2="195.8" stroke-width="1.3"/>
<line x1="310.7" y1="133.6" x2="314.5" y2="133.6" stroke-width="1.3"/>
<line x1="387.0" y1="192.0" x2="387.0" y2="195.8" stroke-width="1.3"/>
<line x1="310.7" y1="125.8" x2="314.5" y2="125.8" stroke-width="1.3"/>
<line x1="392.9" y1="192.0" x2="392.9" y2="195.8" stroke-width="1.3"/>
<line x1="310.7" y1="120.3" x2="314.5" y2="120.3" stroke-width="1.3"/>
<line x1="397.6" y1="192.0" x2="397.6" y2="195.8" stroke-width="1.3"/>
<line x1="310.7" y1="116.0" x2="314.5" y2="116.0" stroke-width="1.3"/>
<line x1="401.4" y1="192.0" x2="401.4" y2="195.8" stroke-width="1.3"/>
<line x1="310.7" y1="112.5" x2="314.5" y2="112.5" stroke-width="1.3"/>
<line x1="404.6" y1="192.0" x2="404.6" y2="195.8" stroke-width="1.3"/>
<line x1="310.7" y1="109.5" x2="314.5" y2="109.5" stroke-width="1.3"/>
<line x1="407.4" y1="192.0" x2="407.4" y2="195.8" stroke-width="1.3"/>
<line x1="310.7" y1="106.9" x2="314.5" y2="106.9" stroke-width="1.3"/>
<line x1="409.8" y1="192.0" x2="409.8" y2="195.8" stroke-width="1.3"/>
<line x1="310.7" y1="104.6" x2="314.5" y2="104.6" stroke-width="1.3"/>
<line x1="412.0" y1="192.0" x2="412.0" y2="198.8" stroke-width="1.4"/>
<text x="403.0" y="214.6" font-size="13" text-anchor="start">10</text>
<text x="417.1" y="208.2" font-size="12.3" text-anchor="start">2</text>
<line x1="307.5" y1="102.6" x2="314.5" y2="102.6" stroke-width="1.5"/>
<text x="302.1" y="112.8" font-size="13.5" text-anchor="start" transform="rotate(-90 302.1 112.8)">10</text>
<text x="294.9" y="97.2" font-size="12.5" text-anchor="start" transform="rotate(-90 294.9 97.2)">2</text>
<line x1="426.4" y1="192.0" x2="426.4" y2="195.8" stroke-width="1.3"/>
<line x1="310.7" y1="89.2" x2="314.5" y2="89.2" stroke-width="1.3"/>
<line x1="434.9" y1="192.0" x2="434.9" y2="195.8" stroke-width="1.3"/>
<line x1="310.7" y1="81.4" x2="314.5" y2="81.4" stroke-width="1.3"/>
<line x1="440.8" y1="192.0" x2="440.8" y2="195.8" stroke-width="1.3"/>
<line x1="310.7" y1="75.9" x2="314.5" y2="75.9" stroke-width="1.3"/>
<line x1="445.5" y1="192.0" x2="445.5" y2="195.8" stroke-width="1.3"/>
<line x1="310.7" y1="71.6" x2="314.5" y2="71.6" stroke-width="1.3"/>
<line x1="449.3" y1="192.0" x2="449.3" y2="195.8" stroke-width="1.3"/>
<line x1="310.7" y1="68.1" x2="314.5" y2="68.1" stroke-width="1.3"/>
<line x1="452.5" y1="192.0" x2="452.5" y2="195.8" stroke-width="1.3"/>
<line x1="310.7" y1="65.1" x2="314.5" y2="65.1" stroke-width="1.3"/>
<line x1="455.3" y1="192.0" x2="455.3" y2="195.8" stroke-width="1.3"/>
<line x1="310.7" y1="62.5" x2="314.5" y2="62.5" stroke-width="1.3"/>
<line x1="457.7" y1="192.0" x2="457.7" y2="195.8" stroke-width="1.3"/>
<line x1="310.7" y1="60.2" x2="314.5" y2="60.2" stroke-width="1.3"/>
<line x1="459.9" y1="192.0" x2="459.9" y2="198.8" stroke-width="1.4"/>
<text x="450.9" y="214.6" font-size="13" text-anchor="start">10</text>
<text x="465.0" y="208.2" font-size="12.3" text-anchor="start">3</text>
<line x1="307.5" y1="58.2" x2="314.5" y2="58.2" stroke-width="1.5"/>
<text x="302.1" y="68.4" font-size="13.5" text-anchor="start" transform="rotate(-90 302.1 68.4)">10</text>
<text x="294.9" y="52.8" font-size="12.5" text-anchor="start" transform="rotate(-90 294.9 52.8)">3</text>
<line x1="474.3" y1="192.0" x2="474.3" y2="195.8" stroke-width="1.3"/>
<line x1="310.7" y1="44.8" x2="314.5" y2="44.8" stroke-width="1.3"/>
<line x1="482.8" y1="192.0" x2="482.8" y2="195.8" stroke-width="1.3"/>
<line x1="310.7" y1="37.0" x2="314.5" y2="37.0" stroke-width="1.3"/>
<line x1="488.7" y1="192.0" x2="488.7" y2="195.8" stroke-width="1.3"/>
<line x1="310.7" y1="31.5" x2="314.5" y2="31.5" stroke-width="1.3"/>
<line x1="493.4" y1="192.0" x2="493.4" y2="195.8" stroke-width="1.3"/>
<line x1="310.7" y1="27.2" x2="314.5" y2="27.2" stroke-width="1.3"/>
<line x1="497.2" y1="192.0" x2="497.2" y2="195.8" stroke-width="1.3"/>
<line x1="310.7" y1="23.7" x2="314.5" y2="23.7" stroke-width="1.3"/>
<line x1="500.4" y1="192.0" x2="500.4" y2="195.8" stroke-width="1.3"/>
<line x1="310.7" y1="20.7" x2="314.5" y2="20.7" stroke-width="1.3"/>
<line x1="503.2" y1="192.0" x2="503.2" y2="195.8" stroke-width="1.3"/>
<line x1="310.7" y1="18.1" x2="314.5" y2="18.1" stroke-width="1.3"/>
<line x1="505.6" y1="192.0" x2="505.6" y2="195.8" stroke-width="1.3"/>
<line x1="310.7" y1="15.8" x2="314.5" y2="15.8" stroke-width="1.3"/>
<line x1="507.8" y1="192.0" x2="507.8" y2="198.8" stroke-width="1.4"/>
<text x="498.8" y="214.6" font-size="13" text-anchor="start">10</text>
<text x="512.9" y="208.2" font-size="12.3" text-anchor="start">4</text>
<line x1="307.5" y1="13.8" x2="314.5" y2="13.8" stroke-width="1.5"/>
<text x="302.1" y="24.0" font-size="13.5" text-anchor="start" transform="rotate(-90 302.1 24.0)">10</text>
<text x="294.9" y="8.4" font-size="12.5" text-anchor="start" transform="rotate(-90 294.9 8.4)">4</text>
<text x="286.8" y="102.0" font-size="12.8" text-anchor="middle" transform="rotate(-90 286.8 102.0)">CD34-PE Cy5</text>
<text x="411.4" y="227.6" font-size="13" text-anchor="middle">AC133 PE</text>
<text x="315.3" y="38.7" font-size="19.3" text-anchor="start">28,6%</text>
<text x="505.2" y="38.3" font-size="19.3" text-anchor="end">51,0%</text>
<text x="504.3" y="179.7" font-size="19.3" text-anchor="end">2,1%</text>
<path class="d" stroke-width="1.5" d="M375.25 113h1.5M368.75 120h1.5M366.75 117.5h1.5M380.75 102.5h1.5M370.25 116.5h1.5M360.25 112.5h1.5M361.25 122.5h1.5M369.25 117.5h1.5M383.25 119.5h1.5M364.25 119.5h1.5M360.75 124h1.5M378.75 112.5h1.5M369.75 115.5h1.5M366.75 110h1.5M393.25 114.5h1.5M358.25 123.5h1.5M370.75 113.5h1.5M352.75 126h1.5M366.25 116.5h1.5M374.25 111.5h1.5M381.75 114.5h1.5M360.25 129.5h1.5M377.75 113h1.5M374.75 107h1.5M367.75 115h1.5M398.75 117.5h1.5M368.25 113.5h1.5M363.75 127.5h1.5M373.75 114.5h1.5M353.25 129h1.5M385.75 110.5h1.5M376.75 105h1.5M365.25 117h1.5M380.75 126.5h1.5M375.25 115h1.5M390.75 113h1.5M363.25 118.5h1.5M356.75 122h1.5M350.25 127.5h1.5M368.25 121.5h1.5M359.25 136h1.5M368.25 118.5h1.5M373.75 115h1.5M364.25 116h1.5M357.75 114.5h1.5M378.75 104h1.5M369.75 122h1.5M368.25 106.5h1.5M382.75 121.5h1.5M358.75 127.5h1.5M360.25 120h1.5M392.75 101.5h1.5M368.75 118.5h1.5M359.75 122h1.5M370.25 124.5h1.5M362.75 116h1.5M357.25 120.5h1.5M365.75 119h1.5M369.25 116h1.5M368.75 114.5h1.5M371.75 106.5h1.5M349.25 116h1.5M353.75 120h1.5M377.75 113.5h1.5M367.75 125h1.5M387.25 125h1.5M376.75 125.5h1.5M356.75 125.5h1.5M379.75 125.5h1.5M359.75 121h1.5M371.75 114h1.5M387.75 125h1.5M389.25 103.5h1.5M368.75 115.5h1.5M376.75 113.5h1.5M376.25 124.5h1.5M376.75 111.5h1.5M346.25 132h1.5M370.25 110h1.5M375.25 117h1.5M362.75 121.5h1.5M375.75 108h1.5M379.25 108.5h1.5M369.25 113h1.5M369.75 124h1.5M367.75 121.5h1.5M372.25 118.5h1.5M383.25 115.5h1.5M384.25 109h1.5M366.25 122h1.5M359.75 118h1.5M359.25 113.5h1.5M378.25 110h1.5M372.75 118h1.5M373.25 117h1.5M377.25 121.5h1.5M370.25 107h1.5M368.25 117h1.5M361.75 115h1.5M371.75 118.5h1.5M373.25 114h1.5M364.25 113h1.5M368.25 125.5h1.5M380.75 104.5h1.5M371.25 114.5h1.5M364.75 114h1.5M359.75 116.5h1.5M353.25 120h1.5M362.75 115.5h1.5M362.75 122.5h1.5M374.75 104h1.5M361.25 129h1.5M367.75 124h1.5M379.75 122.5h1.5M366.75 113h1.5M370.25 103h1.5M377.25 111h1.5M353.25 123.5h1.5M366.75 121h1.5M359.25 119h1.5M383.25 112h1.5M369.25 119h1.5M371.75 107.5h1.5M391.25 120.5h1.5M371.25 119h1.5M376.75 122h1.5M365.75 114.5h1.5M382.75 112.5h1.5M381.75 123h1.5M379.75 112h1.5M372.75 123h1.5M367.25 120.5h1.5M368.25 123h1.5M353.25 123h1.5M373.25 115h1.5M380.25 119.5h1.5M370.75 119h1.5M366.25 122.5h1.5M367.75 111h1.5M372.25 117h1.5M376.25 123h1.5M389.75 115.5h1.5M362.25 123h1.5M372.75 113.5h1.5M375.75 111.5h1.5M371.75 120h1.5M370.75 126.5h1.5M360.25 122h1.5M367.25 127h1.5M387.25 118.5h1.5M372.75 110h1.5M381.75 117h1.5M373.75 120h1.5M372.25 111h1.5M377.25 110h1.5M357.75 120h1.5M367.25 109.5h1.5M350.75 120h1.5M348.75 121h1.5M363.75 125h1.5M357.75 131.5h1.5M374.25 113.5h1.5M379.25 112h1.5M367.75 120h1.5M367.75 115.5h1.5M367.25 117h1.5M369.25 123.5h1.5M373.25 116h1.5M364.25 116.5h1.5M365.75 129h1.5M363.75 116.5h1.5M378.25 115h1.5M363.75 114h1.5M383.25 109h1.5M367.75 119h1.5M382.75 110h1.5M359.75 125.5h1.5M363.25 121h1.5M371.75 108.5h1.5M369.75 103.5h1.5M370.75 123.5h1.5M388.75 106.5h1.5M374.25 125.5h1.5M372.75 116.5h1.5M387.75 114h1.5M374.25 116h1.5M352.25 119h1.5M375.25 119.5h1.5M367.75 125.5h1.5M382.75 123.5h1.5M361.75 117.5h1.5M375.25 105.5h1.5M367.75 107h1.5M371.25 130.5h1.5M362.75 129.5h1.5M366.25 126.5h1.5M353.75 113.5h1.5M380.25 115h1.5M372.25 119.5h1.5M358.25 123h1.5M370.75 119.5h1.5M355.25 118h1.5M337.75 130h1.5M379.25 107h1.5M380.75 111h1.5M356.25 125.5h1.5M361.25 116.5h1.5M371.75 115.5h1.5M361.75 121h1.5M367.25 124.5h1.5M368.25 120h1.5M365.75 122h1.5M369.25 109h1.5M367.25 116.5h1.5M364.25 125h1.5M368.25 113h1.5M352.75 122h1.5M382.25 107h1.5M355.75 132h1.5M368.25 115.5h1.5M371.75 112.5h1.5M374.75 122.5h1.5M361.25 127.5h1.5M369.75 119h1.5M371.25 116.5h1.5M364.25 117.5h1.5M363.25 117.5h1.5M381.25 109.5h1.5M363.75 122.5h1.5M365.25 119h1.5M367.75 119.5h1.5M369.25 122h1.5M371.25 117h1.5M365.25 111h1.5M371.75 112h1.5M368.75 111h1.5M370.75 105.5h1.5M383.75 113h1.5M359.25 114.5h1.5M383.25 104.5h1.5M363.25 113.5h1.5M378.25 120h1.5M370.75 115.5h1.5M369.25 124.5h1.5M350.75 125h1.5M384.75 109h1.5M363.75 123.5h1.5M363.75 124h1.5M380.75 114h1.5M368.25 112h1.5M387.25 108h1.5M383.75 105h1.5M376.25 113.5h1.5M372.75 117h1.5M380.75 122.5h1.5M360.25 130.5h1.5M373.25 120.5h1.5M373.25 122.5h1.5M365.75 121h1.5M378.25 131.5h1.5M359.25 131.5h1.5M384.25 128.5h1.5M383.25 114.5h1.5M358.25 125h1.5M373.75 123h1.5M385.25 112.5h1.5M374.75 118h1.5M357.75 116.5h1.5M362.25 126.5h1.5M378.75 115h1.5M389.25 115h1.5M358.75 121h1.5M366.25 108h1.5M369.75 125h1.5M370.25 109.5h1.5M367.25 112.5h1.5M362.75 119h1.5M389.75 108h1.5M364.75 109h1.5M372.25 128h1.5M382.75 119h1.5M364.25 109h1.5M379.75 116h1.5M364.25 132.5h1.5M378.75 119.5h1.5M382.25 120h1.5M374.25 110h1.5M368.75 119.5h1.5M366.75 109.5h1.5M357.75 135h1.5M369.75 121.5h1.5M368.25 105.5h1.5M374.25 104.5h1.5M366.25 120h1.5M361.25 119.5h1.5M370.75 121h1.5M375.75 128h1.5M382.25 115h1.5M364.75 119h1.5M366.25 111h1.5M363.75 115.5h1.5M368.25 120.5h1.5M348.25 125.5h1.5M352.25 118h1.5M358.25 122h1.5M372.75 111.5h1.5M370.25 121h1.5M370.75 116h1.5M381.75 115.5h1.5M359.25 120.5h1.5M382.75 117.5h1.5M373.25 115.5h1.5M363.25 120.5h1.5M356.25 124h1.5M355.25 112.5h1.5M373.75 133h1.5M372.25 112.5h1.5M368.25 119h1.5M348.25 123.5h1.5M365.75 116h1.5M369.75 120h1.5M393.25 105h1.5M382.25 110h1.5M368.25 110h1.5M357.25 117h1.5M370.75 110h1.5M362.75 132h1.5M368.75 109.5h1.5M371.25 110.5h1.5M366.25 120.5h1.5M375.25 124.5h1.5M363.25 110h1.5M361.25 111.5h1.5M384.75 112.5h1.5M376.25 117h1.5M363.75 111h1.5M358.75 111h1.5M369.25 112h1.5M376.75 119.5h1.5M377.75 114h1.5M385.75 116h1.5M374.25 115.5h1.5M359.25 122h1.5M380.75 112.5h1.5M378.25 115.5h1.5M380.75 107.5h1.5M354.25 120h1.5M367.25 121.5h1.5M364.25 118.5h1.5M379.75 109h1.5M359.75 126h1.5M367.75 122h1.5M384.25 111.5h1.5M374.25 111h1.5M368.25 124h1.5M393.25 124h1.5M355.25 118.5h1.5M370.75 107.5h1.5M372.75 110.5h1.5M364.25 112h1.5M373.75 121.5h1.5M359.25 127.5h1.5M378.25 123.5h1.5M377.75 111.5h1.5M362.25 117h1.5M372.75 114h1.5M379.25 106.5h1.5M352.75 132.5h1.5M374.75 112.5h1.5M355.25 121.5h1.5M361.25 121h1.5M376.25 116h1.5M363.75 125.5h1.5M363.75 120.5h1.5M387.25 113h1.5M357.25 113h1.5M360.75 119.5h1.5M343.75 117h1.5M363.25 131.5h1.5M361.25 130h1.5M387.75 115h1.5M383.75 119h1.5M362.25 133.5h1.5M390.75 115h1.5M373.75 106h1.5M367.75 117h1.5M372.25 102h1.5M371.75 111.5h1.5M359.75 114h1.5M352.75 124.5h1.5M361.75 123h1.5M367.75 112.5h1.5M365.75 117.5h1.5M363.25 122h1.5M378.75 113h1.5M359.25 121h1.5M373.25 101h1.5M364.25 117h1.5M372.75 121.5h1.5M359.75 123.5h1.5M366.25 109.5h1.5M361.75 119h1.5M353.75 126h1.5M370.75 121.5h1.5M375.75 110h1.5M371.75 114.5h1.5M368.75 132h1.5M345.25 125.5h1.5M357.75 119h1.5M383.75 116.5h1.5M377.25 115.5h1.5M367.75 104.5h1.5M350.25 117.5h1.5M364.25 128.5h1.5M380.75 111.5h1.5M380.75 112h1.5M369.25 109.5h1.5M364.75 116h1.5M361.75 124h1.5M353.25 129.5h1.5M369.75 113.5h1.5M361.75 110.5h1.5M366.75 116.5h1.5M375.75 116h1.5M363.25 121.5h1.5M374.25 113h1.5M355.25 124h1.5M382.25 119h1.5M375.75 125.5h1.5M366.75 115.5h1.5M376.75 119h1.5M383.25 110.5h1.5M362.75 113.5h1.5M362.75 128.5h1.5M390.75 111.5h1.5M370.25 118.5h1.5M384.75 113.5h1.5M362.75 119.5h1.5M367.25 129.5h1.5M377.75 120h1.5M365.25 125.5h1.5M372.75 115h1.5M351.25 128.5h1.5M362.25 124.5h1.5M357.25 121h1.5M369.25 133h1.5M371.25 120h1.5M363.25 123h1.5M351.25 123h1.5M366.75 124.5h1.5M355.75 120.5h1.5M375.75 115h1.5M372.25 111.5h1.5M374.25 119.5h1.5M364.75 126h1.5M362.75 112h1.5M360.25 123h1.5M383.25 112.5h1.5M365.75 127h1.5M348.75 125h1.5M363.75 127h1.5M362.25 127h1.5M390.25 121h1.5M359.75 110h1.5M377.75 116.5h1.5M348.75 123.5h1.5M368.75 112.5h1.5M375.25 116h1.5M366.75 111.5h1.5M338.25 116h1.5M376.75 113h1.5M386.75 122.5h1.5M350.75 118h1.5M363.25 108h1.5M377.75 112h1.5M361.75 111.5h1.5M368.75 113h1.5M372.25 102.5h1.5M394.25 98h1.5M365.25 102h1.5M375.75 122.5h1.5M363.75 123h1.5M367.75 120.5h1.5M353.25 117.5h1.5M357.25 129.5h1.5M370.25 111h1.5M372.75 128h1.5M344.75 129h1.5M344.75 116h1.5M368.75 123.5h1.5M373.25 128.5h1.5M375.25 114h1.5M359.75 128h1.5M374.75 114h1.5M365.25 115.5h1.5M359.25 105.5h1.5M370.75 125h1.5M378.25 111.5h1.5M375.75 117.5h1.5M360.75 115.5h1.5M363.25 112.5h1.5M365.75 120.5h1.5M378.25 119h1.5M368.25 110.5h1.5M383.25 121h1.5M369.25 114h1.5M378.25 124.5h1.5M365.75 109.5h1.5M355.75 117.5h1.5M354.75 121.5h1.5M392.75 119.5h1.5M373.75 117.5h1.5M369.75 122.5h1.5M368.25 126.5h1.5M395.75 102h1.5M361.75 130h1.5M370.75 122.5h1.5M370.25 120h1.5M353.75 109.5h1.5M357.75 123.5h1.5M365.75 128h1.5M369.75 132h1.5M377.75 115h1.5M355.75 117h1.5M374.75 119.5h1.5M380.25 118.5h1.5M358.25 121h1.5M343.75 136.5h1.5M374.75 116.5h1.5M361.25 113h1.5M380.25 108.5h1.5M369.25 113.5h1.5M358.75 119.5h1.5M372.25 115.5h1.5M366.25 124h1.5M381.75 117.5h1.5M374.25 122.5h1.5M355.75 124.5h1.5M375.25 112h1.5M374.25 106h1.5M360.75 119h1.5M364.25 115h1.5M366.25 107.5h1.5M370.75 127.5h1.5M366.75 107h1.5M376.75 117h1.5M389.25 108h1.5M368.25 134.5h1.5M364.25 120h1.5M387.25 106h1.5M396.75 118h1.5M364.75 110.5h1.5M357.25 116.5h1.5M379.25 109.5h1.5M370.25 108h1.5M383.75 114h1.5M381.25 127h1.5M389.75 105h1.5M375.75 119.5h1.5M372.25 124.5h1.5M373.75 112h1.5M379.25 107.5h1.5M375.75 109h1.5M382.25 119.5h1.5M372.25 103h1.5M376.75 101h1.5M365.25 111.5h1.5M353.75 114.5h1.5M375.75 116.5h1.5M390.25 103h1.5M373.25 110.5h1.5M363.75 114.5h1.5M379.75 111.5h1.5M346.75 113.5h1.5M344.75 138.5h1.5M363.75 122h1.5M373.25 100.5h1.5M336.25 117.5h1.5M376.75 118.5h1.5M357.25 130.5h1.5M363.75 111.5h1.5M363.75 117.5h1.5M377.75 126h1.5M353.25 134h1.5M379.25 118.5h1.5M377.75 122.5h1.5M376.75 116.5h1.5M332.25 124.5h1.5M332.25 118h1.5M374.25 120h1.5M353.75 122h1.5M351.75 119.5h1.5M351.25 122.5h1.5M342.25 123.5h1.5M356.25 113h1.5M350.75 118.5h1.5M355.25 131.5h1.5M369.75 116.5h1.5M347.75 135.5h1.5M377.75 106.5h1.5M326.25 118h1.5M401.25 111.5h1.5M343.75 131.5h1.5M370.75 112.5h1.5M378.25 121.5h1.5M364.75 127.5h1.5M376.25 125.5h1.5M335.75 126.5h1.5M364.75 106h1.5M380.25 116h1.5M355.25 124.5h1.5M339.75 137.5h1.5M351.25 112.5h1.5M366.25 112h1.5M365.75 111h1.5M366.25 98h1.5M336.25 144h1.5M398.25 116.5h1.5M361.25 109.5h1.5M376.25 116.5h1.5M359.25 128h1.5M361.75 125h1.5M363.25 118h1.5M385.25 108h1.5M387.75 121h1.5M372.25 117.5h1.5M394.75 119h1.5M357.75 124.5h1.5M369.75 114.5h1.5M358.75 133h1.5M381.75 111h1.5M364.25 123.5h1.5M388.75 111.5h1.5M330.75 126h1.5M394.75 106.5h1.5M360.75 131.5h1.5M337.25 142h1.5M361.25 132.5h1.5M327.25 127.5h1.5M367.25 131h1.5M361.25 124h1.5M394.75 127h1.5M355.75 111.5h1.5M382.25 127.5h1.5M379.75 111h1.5M397.25 121h1.5M358.25 117.5h1.5M376.75 124.5h1.5M339.25 123.5h1.5M342.25 109.5h1.5M356.75 113.5h1.5M362.25 118h1.5M344.25 125h1.5M352.25 104h1.5M371.75 108h1.5M354.75 116h1.5M360.25 119h1.5M349.75 125h1.5M382.75 108.5h1.5M387.75 101.5h1.5M366.75 121.5h1.5M360.75 118h1.5M390.75 120.5h1.5M354.25 127.5h1.5M340.75 118h1.5M354.75 124.5h1.5M397.25 112.5h1.5M354.75 126h1.5M405.75 101.5h1.5M358.25 114h1.5M383.25 113.5h1.5M360.75 126h1.5M374.75 142h1.5M347.25 124.5h1.5M345.25 130.5h1.5M352.25 123.5h1.5M368.75 128h1.5M334.75 135.5h1.5M371.25 121h1.5M365.25 139.5h1.5M361.75 132h1.5M350.25 109h1.5M329.25 131h1.5M387.75 114.5h1.5M351.25 104.5h1.5M369.75 111.5h1.5M383.75 111h1.5M379.25 110h1.5M366.75 120.5h1.5M359.75 106h1.5M378.75 122.5h1.5M372.75 120.5h1.5M355.75 119h1.5M368.25 115h1.5M376.25 126.5h1.5M367.25 123h1.5M388.25 130.5h1.5M365.75 116.5h1.5M379.75 128h1.5M354.25 121h1.5M346.75 115.5h1.5M361.75 124.5h1.5M371.25 117.5h1.5M384.25 120h1.5M364.75 132h1.5M356.25 125h1.5M384.75 122h1.5M354.25 117.5h1.5M375.25 120h1.5M343.75 129h1.5M366.75 125.5h1.5M364.25 126.5h1.5M359.75 115.5h1.5M346.25 128h1.5M380.75 126h1.5M388.25 110h1.5M343.75 128h1.5M363.75 115h1.5M373.75 119h1.5M401.25 125h1.5M357.25 123h1.5M346.75 116h1.5M394.75 114h1.5M366.25 128.5h1.5M364.75 108.5h1.5M388.75 106h1.5M330.25 127.5h1.5M326.75 116.5h1.5M379.25 125.5h1.5M371.25 101.5h1.5M340.25 119h1.5M362.75 115h1.5M352.25 128h1.5M358.25 129h1.5M350.75 128h1.5M360.25 104h1.5M360.25 123.5h1.5M385.75 99h1.5M371.75 113.5h1.5M338.25 123h1.5M368.75 114h1.5M386.25 118.5h1.5M366.25 112.5h1.5M383.25 129.5h1.5M350.25 129.5h1.5M377.25 124h1.5M341.75 125h1.5M387.25 130.5h1.5M337.75 117.5h1.5M331.75 132h1.5M371.25 118h1.5M368.25 112.5h1.5M364.75 127h1.5M351.25 129.5h1.5M366.75 120h1.5M368.75 110h1.5M390.25 98.5h1.5M363.75 118h1.5M376.75 137.5h1.5M355.75 120h1.5M346.75 132.5h1.5M356.25 129h1.5M383.75 132.5h1.5M351.75 121.5h1.5M368.25 111.5h1.5M350.75 115h1.5M348.75 117h1.5M367.75 130.5h1.5M364.75 122h1.5M385.75 113h1.5M338.25 126.5h1.5M370.25 113.5h1.5M388.25 113.5h1.5M384.25 114.5h1.5M358.75 126.5h1.5M354.75 130h1.5M352.25 109.5h1.5M368.75 130h1.5M366.75 111h1.5M372.25 116h1.5M347.25 125.5h1.5M348.25 133h1.5M345.75 129.5h1.5M362.75 124.5h1.5M370.25 127h1.5M403.25 113.5h1.5M375.25 132.5h1.5M383.25 106.5h1.5M350.25 117h1.5M368.25 117.5h1.5M377.75 114.5h1.5M370.25 121.5h1.5M361.25 135h1.5M345.75 131h1.5M363.75 132h1.5M352.75 116.5h1.5M362.25 126h1.5M339.75 131h1.5M378.75 118.5h1.5M348.75 118.5h1.5M342.25 139.5h1.5M344.25 134.5h1.5M350.75 110.5h1.5M379.25 111h1.5M374.25 117.5h1.5M346.25 130h1.5M364.25 119h1.5M359.25 110h1.5M340.75 132.5h1.5M347.75 122.5h1.5M334.25 137.5h1.5M350.25 126h1.5M324.25 138h1.5M352.75 129.5h1.5M350.75 130.5h1.5M350.25 119.5h1.5M352.75 131.5h1.5M355.75 112h1.5M366.25 116h1.5M374.25 114.5h1.5M378.25 120.5h1.5M375.25 123h1.5M352.75 113.5h1.5M347.75 130h1.5M353.75 114h1.5M364.75 126.5h1.5M360.25 114.5h1.5M363.25 126.5h1.5M392.75 120.5h1.5M377.75 111h1.5M357.75 130h1.5M318.25 127h1.5M369.75 118h1.5M369.75 120.5h1.5M332.75 108h1.5M403.25 115.5h1.5M358.25 116.5h1.5M377.25 102.5h1.5M362.75 130h1.5M353.25 135h1.5M377.25 132.5h1.5M341.75 101h1.5M375.75 122h1.5M374.75 92.5h1.5M343.25 119h1.5M370.75 130h1.5M392.25 106h1.5M353.75 124.5h1.5M391.75 112.5h1.5M374.75 120.5h1.5M353.75 130h1.5M373.75 125.5h1.5M370.75 107h1.5M352.75 132h1.5M344.25 119h1.5M350.75 121h1.5M387.75 123.5h1.5M378.75 121h1.5M369.25 125.5h1.5M366.25 124.5h1.5M365.75 115.5h1.5M355.25 114.5h1.5M367.25 125.5h1.5M367.25 122h1.5M341.75 124h1.5M369.75 126h1.5M352.75 122.5h1.5M352.75 111.5h1.5M379.75 118.5h1.5M347.75 128.5h1.5M361.75 127h1.5M371.25 111h1.5M379.75 110h1.5M367.25 115.5h1.5M347.75 132h1.5M331.25 131.5h1.5M368.25 133.5h1.5M344.75 134h1.5M358.25 142.5h1.5M357.25 122h1.5M357.75 121h1.5M365.25 130.5h1.5M396.25 108h1.5M350.25 120h1.5M352.25 126.5h1.5M351.25 112h1.5M354.75 122.5h1.5M369.25 120.5h1.5M366.25 118.5h1.5M351.75 132.5h1.5M393.75 117h1.5M345.25 123.5h1.5M369.25 120h1.5M398.75 120.5h1.5M353.75 129.5h1.5M386.25 125.5h1.5M384.75 114h1.5M368.75 120.5h1.5M338.75 143.5h1.5M385.25 115h1.5M356.75 129.5h1.5M382.25 112.5h1.5M349.75 112.5h1.5M381.25 121.5h1.5M353.75 117.5h1.5M343.75 111.5h1.5M359.75 131.5h1.5M352.75 123.5h1.5M361.25 123.5h1.5M361.25 119h1.5M329.75 108h1.5M360.25 127.5h1.5M365.25 124h1.5M379.25 117h1.5M382.25 129h1.5M375.25 106.5h1.5M354.25 99.5h1.5M376.25 130h1.5M342.25 129.5h1.5M380.25 103h1.5M372.25 123.5h1.5M355.25 113h1.5M365.25 125h1.5M357.25 139.5h1.5M374.75 129.5h1.5M342.75 125.5h1.5M362.25 118.5h1.5M360.25 113.5h1.5M363.75 109.5h1.5M367.75 135.5h1.5M361.75 122h1.5M344.75 117h1.5M345.75 122h1.5M357.75 134.5h1.5M362.25 134.5h1.5M344.25 120.5h1.5M345.75 127h1.5M360.75 129h1.5M358.25 112.5h1.5M371.75 110.5h1.5M378.25 117h1.5M354.25 112.5h1.5M356.75 120.5h1.5M336.75 135h1.5M354.25 128.5h1.5M370.25 117h1.5M350.25 139.5h1.5M382.75 109.5h1.5M385.25 114.5h1.5M355.25 111.5h1.5M379.25 123.5h1.5M341.25 125.5h1.5M344.25 112h1.5M356.25 116h1.5M367.25 134.5h1.5M350.25 125h1.5M395.25 120h1.5M364.75 107.5h1.5M366.25 113.5h1.5M371.25 108h1.5M364.75 113.5h1.5M359.25 118.5h1.5M355.75 127h1.5M340.25 135h1.5M388.25 122.5h1.5M354.25 145h1.5M336.75 123.5h1.5M350.75 123.5h1.5M392.25 106.5h1.5M385.75 118.5h1.5M384.25 108.5h1.5M373.25 122h1.5M374.75 128h1.5M350.25 115h1.5M357.75 103.5h1.5M354.25 123.5h1.5M362.25 112.5h1.5M353.25 124.5h1.5M375.75 120h1.5M363.75 130h1.5M339.25 133.5h1.5M374.75 108.5h1.5M357.75 102h1.5M339.75 109h1.5M379.75 117.5h1.5M332.75 123h1.5M370.75 114h1.5M332.25 115h1.5M361.25 107.5h1.5M386.75 100.5h1.5M365.75 125h1.5M366.75 103.5h1.5M359.75 127h1.5M361.75 113.5h1.5M400.25 115.5h1.5M384.25 117h1.5M359.75 127.5h1.5M359.75 131h1.5M362.25 114h1.5M395.25 104.5h1.5M378.75 110h1.5M343.75 124h1.5M383.75 115h1.5M362.75 123.5h1.5M354.75 131.5h1.5M349.25 108.5h1.5M354.25 124h1.5M340.75 130h1.5M380.25 109.5h1.5M367.75 113.5h1.5M379.75 123.5h1.5M357.25 119h1.5M364.75 104h1.5M363.25 109h1.5M383.25 123.5h1.5M371.25 129h1.5M355.75 133h1.5M348.75 139.5h1.5M355.25 148.5h1.5M330.25 156h1.5M375.25 145h1.5M360.25 152.5h1.5M356.75 150h1.5M345.25 168.5h1.5M354.75 137.5h1.5M368.25 135.5h1.5M358.75 148h1.5M328.25 182h1.5M353.25 157.5h1.5M350.25 140h1.5M357.75 137.5h1.5M341.25 139h1.5M343.75 188h1.5M353.25 151.5h1.5M343.75 149.5h1.5M359.25 147.5h1.5M340.75 155h1.5M343.75 152.5h1.5M352.75 151.5h1.5M358.25 137.5h1.5M346.75 150.5h1.5M357.25 174.5h1.5M355.75 155.5h1.5M345.75 155.5h1.5M352.25 153.5h1.5M349.75 140.5h1.5M354.25 146h1.5M347.75 147h1.5M352.75 167h1.5M353.75 147h1.5M352.75 151h1.5M345.75 145h1.5M348.75 142h1.5M353.25 146h1.5M360.25 137h1.5M353.75 135.5h1.5M364.75 163h1.5M351.75 135.5h1.5M351.75 165.5h1.5M346.25 158.5h1.5M341.25 159.5h1.5M351.25 141h1.5M345.75 183h1.5M352.75 146.5h1.5M353.25 168h1.5M352.25 173.5h1.5M344.75 137.5h1.5M347.25 147.5h1.5M350.75 181.5h1.5M366.25 167.5h1.5M325.25 139h1.5M347.75 171h1.5M357.25 164h1.5M359.75 145.5h1.5M354.25 137.5h1.5M354.75 141.5h1.5M347.75 138.5h1.5M344.75 154h1.5M352.25 152.5h1.5M343.75 143h1.5M347.25 165.5h1.5M352.25 139h1.5M340.25 136.5h1.5M349.75 143.5h1.5M339.75 135h1.5M348.75 151.5h1.5M350.75 141h1.5M335.25 179.5h1.5M343.75 137.5h1.5M347.25 138.5h1.5M331.25 146h1.5M348.25 134.5h1.5M353.25 175.5h1.5M358.75 166.5h1.5M352.75 160.5h1.5M351.75 150.5h1.5M357.25 162h1.5M365.25 142h1.5M347.75 135h1.5M342.75 187h1.5M364.75 151h1.5M360.75 169.5h1.5M342.25 139h1.5M343.25 172h1.5M349.25 154h1.5M372.75 162.5h1.5M349.75 138h1.5M363.25 144h1.5M369.25 155.5h1.5M337.25 179.5h1.5M346.25 138.5h1.5M363.75 136h1.5M356.25 157.5h1.5M356.75 155.5h1.5M349.75 153h1.5M356.75 137h1.5M346.75 147.5h1.5M372.25 150.5h1.5M341.25 137.5h1.5M337.25 135.5h1.5M352.25 139.5h1.5M370.25 171.5h1.5M345.75 144.5h1.5M343.25 135h1.5M353.75 163.5h1.5M339.25 158h1.5M342.75 150h1.5M339.25 136h1.5M345.75 143.5h1.5M366.25 142h1.5M349.75 147.5h1.5M349.75 144h1.5M369.25 157h1.5M346.25 136.5h1.5M343.75 137h1.5M349.75 181.5h1.5M344.75 147.5h1.5M360.75 153.5h1.5M340.75 147.5h1.5M344.25 159.5h1.5M365.25 153.5h1.5M347.75 163.5h1.5M352.75 137h1.5M348.75 138h1.5M341.25 141h1.5M364.25 151.5h1.5M347.25 160.5h1.5M353.25 154h1.5M347.75 141h1.5M338.25 164.5h1.5M363.25 175.5h1.5M343.25 163h1.5M361.75 155h1.5M342.75 161.5h1.5M344.25 160.5h1.5M355.25 140h1.5M344.75 144.5h1.5M351.25 138h1.5M340.75 136h1.5M356.75 159.5h1.5M330.75 146.5h1.5M346.75 149h1.5M362.25 146h1.5M359.75 148h1.5M358.75 136.5h1.5M346.75 140.5h1.5M354.75 146.5h1.5M337.75 170h1.5M349.25 141h1.5M322.25 166h1.5M361.75 149h1.5M355.25 135h1.5M358.75 137.5h1.5M339.25 150h1.5M355.25 135.5h1.5M340.25 172h1.5M333.75 145h1.5M345.75 140h1.5M352.25 141h1.5M361.75 150.5h1.5M334.75 138.5h1.5M340.75 138h1.5M343.75 135h1.5M339.75 144.5h1.5M346.25 142.5h1.5M346.25 172h1.5M338.25 163.5h1.5M351.75 149.5h1.5M359.75 146h1.5M352.25 164.5h1.5M366.75 149.5h1.5M358.25 147.5h1.5M352.25 151.5h1.5M357.25 151.5h1.5M366.75 143.5h1.5M351.25 147.5h1.5M331.75 154h1.5M340.25 139.5h1.5M353.25 134.5h1.5M359.25 171.5h1.5M345.75 161.5h1.5M356.75 153.5h1.5M340.25 145.5h1.5M357.25 152h1.5M346.75 149.5h1.5M348.25 157.5h1.5M363.25 135h1.5M344.75 139h1.5M338.25 137h1.5M350.75 140h1.5M354.75 135.5h1.5M332.75 173.5h1.5M370.25 149h1.5M353.25 148.5h1.5M359.25 143.5h1.5M362.75 143h1.5M350.75 139.5h1.5M358.25 168h1.5M353.25 166h1.5M339.25 135.5h1.5M340.25 163h1.5M347.25 135h1.5M353.25 145h1.5M353.25 149.5h1.5M359.75 137h1.5M343.25 170.5h1.5M340.75 139h1.5M366.75 156h1.5M372.75 158.5h1.5M338.25 188h1.5M349.25 147.5h1.5M359.25 161h1.5M341.25 148.5h1.5M350.25 135h1.5M337.25 160h1.5M346.75 164.5h1.5M352.75 156.5h1.5M350.25 149.5h1.5M347.25 157.5h1.5M337.25 148.5h1.5M341.25 154.5h1.5M361.75 135h1.5M348.75 143h1.5M361.25 139h1.5M339.25 165.5h1.5M345.25 146.5h1.5M347.25 145.5h1.5M355.25 149.5h1.5M338.75 173.5h1.5M354.25 146.5h1.5M353.25 147.5h1.5M351.75 158h1.5M352.75 134h1.5M347.75 151h1.5M353.75 190h1.5M344.75 134.5h1.5M363.25 159.5h1.5M349.25 155.5h1.5M346.25 174h1.5M354.25 149h1.5M347.25 138h1.5M331.75 163.5h1.5M350.25 134.5h1.5M347.75 153.5h1.5M342.75 175h1.5M354.75 157h1.5M353.25 147h1.5M352.75 135h1.5M356.25 144.5h1.5M357.75 138h1.5M346.25 149.5h1.5M347.25 183h1.5M365.75 139h1.5M352.75 140h1.5M336.25 172.5h1.5M354.25 151h1.5M361.25 134.5h1.5M338.75 139.5h1.5M363.75 147h1.5M350.25 136.5h1.5M360.25 164h1.5M357.25 135h1.5M343.25 174.5h1.5M361.25 157h1.5M359.25 154h1.5M347.75 155.5h1.5M354.25 145.5h1.5M360.75 164.5h1.5M340.75 145.5h1.5M345.75 153.5h1.5M335.75 165h1.5M356.75 173h1.5M332.75 146h1.5M343.25 136h1.5M355.25 142h1.5M348.75 135h1.5M343.25 150h1.5M343.25 173h1.5M333.25 164.5h1.5M354.25 134.5h1.5M356.75 146.5h1.5M362.75 163h1.5M350.25 156.5h1.5M359.75 155.5h1.5M356.75 166h1.5M359.75 139h1.5M356.75 152.5h1.5M352.25 172.5h1.5M343.75 154.5h1.5M327.75 171h1.5M345.25 160.5h1.5M339.25 169.5h1.5M370.25 165h1.5M334.25 144h1.5M359.75 139.5h1.5M346.25 145.5h1.5M342.25 183h1.5M359.75 149h1.5M350.25 141.5h1.5M358.75 141.5h1.5M352.75 135.5h1.5M390.75 180h1.5M383.75 134.5h1.5M401.25 92.5h1.5M384.75 89h1.5M391.25 163.5h1.5M385.25 183h1.5M373.75 153.5h1.5M378.75 155.5h1.5M377.75 156h1.5M376.75 143h1.5"/>
<line x1="41.4" y1="267.9" x2="41.4" y2="447.9" stroke-width="1.3"/>
<line x1="41.4" y1="268.4" x2="236.8" y2="268.4" stroke-width="1.2"/>
<line x1="236.8" y1="267.9" x2="236.8" y2="447.9" stroke-width="1.2"/>
<line x1="41.4" y1="447.4" x2="236.8" y2="447.4" stroke-width="1.3"/>
<line x1="97.6" y1="268.4" x2="97.6" y2="447.4" stroke-width="1.3"/>
<line x1="41.4" y1="391.3" x2="236.8" y2="391.3" stroke-width="1.3"/>
<line x1="43.0" y1="447.4" x2="43.0" y2="454.2" stroke-width="1.4"/>
<text x="34.0" y="470.0" font-size="13" text-anchor="start">10</text>
<text x="48.1" y="463.6" font-size="12.3" text-anchor="start">0</text>
<line x1="34.4" y1="446.9" x2="41.4" y2="446.9" stroke-width="1.5"/>
<text x="29.0" y="457.1" font-size="13.5" text-anchor="start" transform="rotate(-90 29.0 457.1)">10</text>
<text x="21.8" y="441.5" font-size="12.5" text-anchor="start" transform="rotate(-90 21.8 441.5)">0</text>
<line x1="57.5" y1="447.4" x2="57.5" y2="451.2" stroke-width="1.3"/>
<line x1="37.6" y1="433.6" x2="41.4" y2="433.6" stroke-width="1.3"/>
<line x1="66.0" y1="447.4" x2="66.0" y2="451.2" stroke-width="1.3"/>
<line x1="37.6" y1="425.8" x2="41.4" y2="425.8" stroke-width="1.3"/>
<line x1="72.1" y1="447.4" x2="72.1" y2="451.2" stroke-width="1.3"/>
<line x1="37.6" y1="420.3" x2="41.4" y2="420.3" stroke-width="1.3"/>
<line x1="76.8" y1="447.4" x2="76.8" y2="451.2" stroke-width="1.3"/>
<line x1="37.6" y1="416.0" x2="41.4" y2="416.0" stroke-width="1.3"/>
<line x1="80.6" y1="447.4" x2="80.6" y2="451.2" stroke-width="1.3"/>
<line x1="37.6" y1="412.5" x2="41.4" y2="412.5" stroke-width="1.3"/>
<line x1="83.8" y1="447.4" x2="83.8" y2="451.2" stroke-width="1.3"/>
<line x1="37.6" y1="409.5" x2="41.4" y2="409.5" stroke-width="1.3"/>
<line x1="86.6" y1="447.4" x2="86.6" y2="451.2" stroke-width="1.3"/>
<line x1="37.6" y1="407.0" x2="41.4" y2="407.0" stroke-width="1.3"/>
<line x1="89.1" y1="447.4" x2="89.1" y2="451.2" stroke-width="1.3"/>
<line x1="37.6" y1="404.7" x2="41.4" y2="404.7" stroke-width="1.3"/>
<line x1="91.3" y1="447.4" x2="91.3" y2="454.2" stroke-width="1.4"/>
<text x="82.3" y="470.0" font-size="13" text-anchor="start">10</text>
<text x="96.4" y="463.6" font-size="12.3" text-anchor="start">1</text>
<line x1="34.4" y1="402.7" x2="41.4" y2="402.7" stroke-width="1.5"/>
<text x="29.0" y="412.9" font-size="13.5" text-anchor="start" transform="rotate(-90 29.0 412.9)">10</text>
<text x="21.8" y="397.3" font-size="12.5" text-anchor="start" transform="rotate(-90 21.8 397.3)">1</text>
<line x1="105.8" y1="447.4" x2="105.8" y2="451.2" stroke-width="1.3"/>
<line x1="37.6" y1="389.4" x2="41.4" y2="389.4" stroke-width="1.3"/>
<line x1="114.3" y1="447.4" x2="114.3" y2="451.2" stroke-width="1.3"/>
<line x1="37.6" y1="381.6" x2="41.4" y2="381.6" stroke-width="1.3"/>
<line x1="120.4" y1="447.4" x2="120.4" y2="451.2" stroke-width="1.3"/>
<line x1="37.6" y1="376.1" x2="41.4" y2="376.1" stroke-width="1.3"/>
<line x1="125.1" y1="447.4" x2="125.1" y2="451.2" stroke-width="1.3"/>
<line x1="37.6" y1="371.8" x2="41.4" y2="371.8" stroke-width="1.3"/>
<line x1="128.9" y1="447.4" x2="128.9" y2="451.2" stroke-width="1.3"/>
<line x1="37.6" y1="368.3" x2="41.4" y2="368.3" stroke-width="1.3"/>
<line x1="132.1" y1="447.4" x2="132.1" y2="451.2" stroke-width="1.3"/>
<line x1="37.6" y1="365.3" x2="41.4" y2="365.3" stroke-width="1.3"/>
<line x1="134.9" y1="447.4" x2="134.9" y2="451.2" stroke-width="1.3"/>
<line x1="37.6" y1="362.8" x2="41.4" y2="362.8" stroke-width="1.3"/>
<line x1="137.4" y1="447.4" x2="137.4" y2="451.2" stroke-width="1.3"/>
<line x1="37.6" y1="360.5" x2="41.4" y2="360.5" stroke-width="1.3"/>
<line x1="139.6" y1="447.4" x2="139.6" y2="454.2" stroke-width="1.4"/>
<text x="130.6" y="470.0" font-size="13" text-anchor="start">10</text>
<text x="144.7" y="463.6" font-size="12.3" text-anchor="start">2</text>
<line x1="34.4" y1="358.5" x2="41.4" y2="358.5" stroke-width="1.5"/>
<text x="29.0" y="368.7" font-size="13.5" text-anchor="start" transform="rotate(-90 29.0 368.7)">10</text>
<text x="21.8" y="353.1" font-size="12.5" text-anchor="start" transform="rotate(-90 21.8 353.1)">2</text>
<line x1="154.1" y1="447.4" x2="154.1" y2="451.2" stroke-width="1.3"/>
<line x1="37.6" y1="345.2" x2="41.4" y2="345.2" stroke-width="1.3"/>
<line x1="162.6" y1="447.4" x2="162.6" y2="451.2" stroke-width="1.3"/>
<line x1="37.6" y1="337.4" x2="41.4" y2="337.4" stroke-width="1.3"/>
<line x1="168.7" y1="447.4" x2="168.7" y2="451.2" stroke-width="1.3"/>
<line x1="37.6" y1="331.9" x2="41.4" y2="331.9" stroke-width="1.3"/>
<line x1="173.4" y1="447.4" x2="173.4" y2="451.2" stroke-width="1.3"/>
<line x1="37.6" y1="327.6" x2="41.4" y2="327.6" stroke-width="1.3"/>
<line x1="177.2" y1="447.4" x2="177.2" y2="451.2" stroke-width="1.3"/>
<line x1="37.6" y1="324.1" x2="41.4" y2="324.1" stroke-width="1.3"/>
<line x1="180.4" y1="447.4" x2="180.4" y2="451.2" stroke-width="1.3"/>
<line x1="37.6" y1="321.1" x2="41.4" y2="321.1" stroke-width="1.3"/>
<line x1="183.2" y1="447.4" x2="183.2" y2="451.2" stroke-width="1.3"/>
<line x1="37.6" y1="318.6" x2="41.4" y2="318.6" stroke-width="1.3"/>
<line x1="185.7" y1="447.4" x2="185.7" y2="451.2" stroke-width="1.3"/>
<line x1="37.6" y1="316.3" x2="41.4" y2="316.3" stroke-width="1.3"/>
<line x1="187.9" y1="447.4" x2="187.9" y2="454.2" stroke-width="1.4"/>
<text x="178.9" y="470.0" font-size="13" text-anchor="start">10</text>
<text x="193.0" y="463.6" font-size="12.3" text-anchor="start">3</text>
<line x1="34.4" y1="314.3" x2="41.4" y2="314.3" stroke-width="1.5"/>
<text x="29.0" y="324.5" font-size="13.5" text-anchor="start" transform="rotate(-90 29.0 324.5)">10</text>
<text x="21.8" y="308.9" font-size="12.5" text-anchor="start" transform="rotate(-90 21.8 308.9)">3</text>
<line x1="202.4" y1="447.4" x2="202.4" y2="451.2" stroke-width="1.3"/>
<line x1="37.6" y1="301.0" x2="41.4" y2="301.0" stroke-width="1.3"/>
<line x1="210.9" y1="447.4" x2="210.9" y2="451.2" stroke-width="1.3"/>
<line x1="37.6" y1="293.2" x2="41.4" y2="293.2" stroke-width="1.3"/>
<line x1="217.0" y1="447.4" x2="217.0" y2="451.2" stroke-width="1.3"/>
<line x1="37.6" y1="287.7" x2="41.4" y2="287.7" stroke-width="1.3"/>
<line x1="221.7" y1="447.4" x2="221.7" y2="451.2" stroke-width="1.3"/>
<line x1="37.6" y1="283.4" x2="41.4" y2="283.4" stroke-width="1.3"/>
<line x1="225.5" y1="447.4" x2="225.5" y2="451.2" stroke-width="1.3"/>
<line x1="37.6" y1="279.9" x2="41.4" y2="279.9" stroke-width="1.3"/>
<line x1="228.7" y1="447.4" x2="228.7" y2="451.2" stroke-width="1.3"/>
<line x1="37.6" y1="276.9" x2="41.4" y2="276.9" stroke-width="1.3"/>
<line x1="231.5" y1="447.4" x2="231.5" y2="451.2" stroke-width="1.3"/>
<line x1="37.6" y1="274.4" x2="41.4" y2="274.4" stroke-width="1.3"/>
<line x1="234.0" y1="447.4" x2="234.0" y2="451.2" stroke-width="1.3"/>
<line x1="37.6" y1="272.1" x2="41.4" y2="272.1" stroke-width="1.3"/>
<line x1="236.2" y1="447.4" x2="236.2" y2="454.2" stroke-width="1.4"/>
<text x="227.2" y="470.0" font-size="13" text-anchor="start">10</text>
<text x="241.3" y="463.6" font-size="12.3" text-anchor="start">4</text>
<line x1="34.4" y1="270.1" x2="41.4" y2="270.1" stroke-width="1.5"/>
<text x="29.0" y="280.3" font-size="13.5" text-anchor="start" transform="rotate(-90 29.0 280.3)">10</text>
<text x="21.8" y="264.7" font-size="12.5" text-anchor="start" transform="rotate(-90 21.8 264.7)">4</text>
<text x="11.8" y="357.8" font-size="13.2" text-anchor="middle" transform="rotate(-90 11.8 357.8)">Mouse IgG1 PE-Cy5</text>
<text x="139.6" y="483.7" font-size="13.4" text-anchor="middle">Mouse IgG1 PE</text>
<path class="d" stroke-width="1.4" d="M68.3 420.5h1.4M54.3 433h1.4M60.8 437.5h1.4M53.8 419.5h1.4M54.3 432.5h1.4M66.3 414.5h1.4M69.3 408.5h1.4M53.3 432.5h1.4M57.3 425h1.4M56.8 436.5h1.4M57.3 420.5h1.4M67.3 429.5h1.4M67.3 421h1.4M48.8 429h1.4M54.3 440.5h1.4M60.3 428h1.4M58.3 418.5h1.4M54.8 437h1.4M60.8 426.5h1.4M60.8 439h1.4M58.8 430h1.4M68.8 436.5h1.4M64.3 409.5h1.4M58.3 435.5h1.4M60.3 445h1.4M55.8 435.5h1.4M56.3 440h1.4M52.3 437h1.4M56.8 431h1.4M58.8 427.5h1.4M69.8 424.5h1.4M63.3 436h1.4M55.3 417h1.4M62.3 424.5h1.4M60.8 440.5h1.4M61.3 445.5h1.4M56.8 437.5h1.4M66.8 425.5h1.4M58.3 424.5h1.4M57.8 436.5h1.4M52.3 436.5h1.4M55.8 442h1.4M57.3 427.5h1.4M58.3 417.5h1.4M46.3 440h1.4M55.8 436h1.4M60.3 424.5h1.4M64.3 432h1.4M57.3 436h1.4M57.8 414h1.4M46.3 445h1.4M72.3 419.5h1.4M70.3 419h1.4M48.8 436h1.4M64.8 419.5h1.4M59.3 430.5h1.4M71.8 412.5h1.4M64.8 430.5h1.4M52.8 434h1.4M57.3 440h1.4M62.8 435.5h1.4M67.8 422h1.4M65.3 439h1.4M67.8 414.5h1.4M70.3 431h1.4M60.3 423h1.4M57.8 425h1.4M64.3 424h1.4M61.8 432.5h1.4M53.8 428h1.4M57.3 438h1.4M61.3 425h1.4M58.8 434h1.4M63.8 431.5h1.4M53.3 439.5h1.4M54.8 428h1.4M62.8 430.5h1.4M56.3 439h1.4M56.8 428h1.4M53.8 430h1.4M59.3 432h1.4M65.8 423.5h1.4M63.8 430.5h1.4M64.3 427.5h1.4M53.3 445h1.4M53.3 436h1.4M52.8 423h1.4M55.3 426.5h1.4M49.8 426.5h1.4M64.3 423h1.4M50.3 430h1.4M73.8 433.5h1.4M56.8 438h1.4M68.8 403.5h1.4M58.3 436h1.4M62.3 437h1.4M63.3 433.5h1.4M79.8 421h1.4M58.3 426.5h1.4M55.3 445.5h1.4M52.3 438h1.4M61.8 435h1.4M64.3 420h1.4M59.8 427.5h1.4M57.3 421.5h1.4M58.8 435h1.4M53.8 441h1.4M56.3 421h1.4M57.8 430.5h1.4M48.3 442.5h1.4M65.3 417.5h1.4M70.8 426h1.4M57.3 430.5h1.4M65.8 433.5h1.4M66.8 423.5h1.4M65.3 418h1.4M64.3 425.5h1.4M64.8 435h1.4M53.8 435.5h1.4M62.3 416.5h1.4M60.8 426h1.4M68.3 426.5h1.4M54.3 438.5h1.4M60.8 425.5h1.4M59.8 430h1.4M65.3 415h1.4M68.8 414h1.4M51.8 434h1.4M56.3 430.5h1.4M72.3 429h1.4M57.8 439.5h1.4M63.8 427.5h1.4M62.8 430h1.4M63.8 422.5h1.4M55.3 423.5h1.4M56.8 420h1.4M59.3 422h1.4M55.8 421.5h1.4M63.8 423.5h1.4M48.8 429.5h1.4M55.3 428h1.4M63.3 420.5h1.4M66.3 426h1.4M54.8 436h1.4M71.3 429h1.4M65.3 431.5h1.4M50.3 442.5h1.4M52.3 439h1.4M57.3 430h1.4M64.3 433.5h1.4M62.8 421.5h1.4M54.8 434.5h1.4M43.3 445h1.4M62.8 443.5h1.4M50.8 432h1.4M61.8 427.5h1.4M61.8 438h1.4M61.3 444.5h1.4M68.8 424.5h1.4M68.8 415h1.4M56.3 416.5h1.4M55.3 439h1.4M47.8 435.5h1.4M65.3 419h1.4M63.3 424.5h1.4M61.3 424h1.4M71.3 423.5h1.4M55.8 424.5h1.4M58.8 438h1.4M59.8 433h1.4M61.3 426.5h1.4M63.3 406.5h1.4M67.3 420h1.4M53.3 441h1.4M66.3 431h1.4M64.8 429h1.4M51.3 431h1.4M59.3 434h1.4M60.3 417.5h1.4M72.3 422.5h1.4M45.8 441.5h1.4M47.8 443h1.4M53.8 440h1.4M51.8 438.5h1.4M56.8 429h1.4M56.8 434.5h1.4M58.3 442.5h1.4M57.8 434h1.4M61.3 428h1.4M58.3 433h1.4M71.8 415h1.4M52.3 433h1.4M44.8 445h1.4M56.3 440.5h1.4M63.8 436.5h1.4M59.3 418h1.4M66.3 436.5h1.4M55.3 438.5h1.4M61.3 435.5h1.4M47.8 444.5h1.4M57.8 438h1.4M58.8 421h1.4M55.3 443h1.4M61.3 429h1.4M55.3 440h1.4M50.8 444.5h1.4M63.3 423h1.4M62.8 421h1.4M61.8 446h1.4M57.8 437h1.4M59.3 419.5h1.4M58.8 434.5h1.4M60.3 424h1.4M60.8 431.5h1.4M51.3 429h1.4M58.8 410.5h1.4M70.8 410h1.4M54.3 431.5h1.4M59.8 435.5h1.4M53.3 426h1.4M71.8 430h1.4M55.8 429h1.4M52.8 422h1.4M53.8 423.5h1.4M55.8 441.5h1.4M69.3 419.5h1.4M57.8 435h1.4M64.8 420h1.4M60.8 429h1.4M49.3 443.5h1.4M63.3 424h1.4M47.8 429.5h1.4M71.3 429.5h1.4M62.3 417.5h1.4M65.8 425.5h1.4M58.8 429h1.4M70.3 418h1.4M63.3 432.5h1.4M59.3 413h1.4M60.8 419h1.4M71.8 401h1.4M52.8 440h1.4M66.8 433h1.4M49.8 443.5h1.4M65.8 424h1.4M63.8 418.5h1.4M68.3 415.5h1.4M67.8 434.5h1.4M54.8 432h1.4M54.3 426.5h1.4M58.8 430.5h1.4M62.3 436.5h1.4M71.3 413h1.4M50.3 434h1.4M47.3 446h1.4M49.8 437h1.4M54.3 418h1.4M53.8 433.5h1.4M58.8 439h1.4M69.8 420h1.4M59.3 433.5h1.4M57.3 434.5h1.4M64.8 433.5h1.4M58.8 418.5h1.4M68.3 426h1.4M70.3 432.5h1.4M71.3 400.5h1.4M63.3 427h1.4M52.3 442.5h1.4M68.8 423.5h1.4M58.3 436.5h1.4M61.8 421.5h1.4M55.3 425.5h1.4M55.3 431.5h1.4M56.8 430h1.4M62.3 434h1.4M61.8 434.5h1.4M68.8 419h1.4M47.3 422h1.4M73.3 411h1.4M63.3 429.5h1.4M61.3 437h1.4M70.8 409.5h1.4M57.3 422h1.4M58.3 445h1.4M52.8 436.5h1.4M51.8 422.5h1.4M65.8 432h1.4M61.3 426h1.4M55.8 445h1.4M45.8 437h1.4M55.8 418.5h1.4M56.8 427.5h1.4M51.3 414h1.4M52.8 427.5h1.4M61.8 431h1.4M63.3 431h1.4M65.3 423.5h1.4M58.3 440h1.4M57.3 433.5h1.4M67.3 423h1.4M57.3 424.5h1.4M48.3 433.5h1.4M66.3 427.5h1.4M53.3 438h1.4M62.3 432.5h1.4M56.3 428h1.4M58.3 435h1.4M64.8 434h1.4M56.3 432h1.4M68.3 437h1.4M61.8 423h1.4M65.3 424h1.4M67.8 420h1.4M52.3 435.5h1.4M56.8 419h1.4M54.3 428h1.4M60.8 423.5h1.4M67.3 426h1.4M64.8 423.5h1.4M62.3 419.5h1.4M65.3 436h1.4M52.8 440.5h1.4M54.8 426h1.4M66.8 413.5h1.4M58.8 441.5h1.4M67.8 413h1.4M69.3 422.5h1.4M63.3 430h1.4M46.3 433.5h1.4M68.3 432.5h1.4M55.3 433h1.4M63.3 435.5h1.4M60.3 446h1.4M65.8 417.5h1.4M63.8 430h1.4M64.3 436.5h1.4M66.8 427h1.4M68.3 421h1.4M61.8 435.5h1.4M58.8 429.5h1.4M60.3 435h1.4M65.3 441.5h1.4M72.3 430h1.4M78.8 406h1.4M73.3 428h1.4M69.3 425h1.4M59.3 418.5h1.4M60.3 440h1.4M74.8 430h1.4M68.8 431.5h1.4M60.3 419h1.4M54.3 428.5h1.4M47.3 429h1.4M65.3 422h1.4M57.3 438.5h1.4M64.3 437.5h1.4M64.8 428h1.4M54.8 434h1.4M60.8 413.5h1.4M58.8 428.5h1.4M60.8 436.5h1.4M50.3 441.5h1.4M60.3 437.5h1.4M64.8 422h1.4M63.3 421.5h1.4M49.8 430h1.4M60.3 420.5h1.4M55.8 429.5h1.4M53.8 431.5h1.4M65.3 427.5h1.4M64.8 432.5h1.4M51.3 442h1.4M58.3 421.5h1.4M47.3 444h1.4M67.3 419h1.4M48.8 437h1.4M53.8 425.5h1.4M70.8 428h1.4M57.8 431.5h1.4M60.8 432h1.4M54.8 426.5h1.4M74.8 425h1.4M69.3 426.5h1.4M69.3 427h1.4M55.3 436.5h1.4M56.8 426h1.4M61.8 422.5h1.4M43.8 440.5h1.4M61.3 416.5h1.4M66.8 429h1.4M70.3 438.5h1.4M59.8 417.5h1.4M60.8 431h1.4M64.8 418h1.4M60.8 423h1.4M71.3 424h1.4M66.3 439h1.4M62.8 426h1.4M61.3 428.5h1.4M60.3 427.5h1.4M67.8 412h1.4M47.3 432h1.4M64.3 429h1.4M53.3 442h1.4M65.8 439h1.4M51.3 441h1.4M67.3 427.5h1.4M56.3 431h1.4M62.3 429h1.4M59.8 428h1.4M53.8 424.5h1.4M51.8 444h1.4M61.8 433h1.4M47.3 433.5h1.4M53.3 431h1.4M66.3 433.5h1.4M58.8 428h1.4M63.8 433h1.4M60.3 429.5h1.4M55.8 439.5h1.4M60.8 416h1.4M73.3 418.5h1.4M55.8 433h1.4M66.3 422.5h1.4M61.8 430h1.4M58.8 420h1.4M47.8 442.5h1.4M71.8 415.5h1.4M58.8 431h1.4M52.8 430h1.4M79.3 415h1.4M65.3 430h1.4M54.8 446h1.4M52.3 441h1.4M62.3 427h1.4M60.3 435.5h1.4M68.8 436h1.4M59.8 434.5h1.4M55.8 434h1.4M65.8 421h1.4M57.3 425.5h1.4M58.3 431h1.4M54.3 420.5h1.4M68.8 433.5h1.4M60.8 441.5h1.4M64.8 433h1.4M50.8 431.5h1.4M48.3 444h1.4M54.8 432.5h1.4M49.8 419h1.4M69.8 425h1.4M64.8 419h1.4M67.8 434h1.4M66.3 423.5h1.4M51.3 437.5h1.4M48.8 426h1.4M69.8 431.5h1.4M58.3 434.5h1.4M69.3 437.5h1.4M62.3 438h1.4M59.8 425.5h1.4M63.8 420.5h1.4M67.8 426.5h1.4M56.3 436h1.4M48.8 418.5h1.4M64.3 426h1.4M42.3 429h1.4M71.8 409h1.4M64.8 427.5h1.4M65.8 412.5h1.4M56.3 439.5h1.4M54.3 431h1.4M59.8 438.5h1.4M64.8 431.5h1.4M68.8 422h1.4M56.3 426.5h1.4M68.3 428h1.4M60.8 424.5h1.4M59.3 422.5h1.4M65.8 445h1.4M55.8 444h1.4M54.8 436.5h1.4M56.8 423h1.4M51.3 443h1.4M60.3 422.5h1.4M60.3 431h1.4M47.3 439.5h1.4M69.3 430.5h1.4M54.8 435.5h1.4M57.3 435h1.4M52.3 439.5h1.4M56.3 434.5h1.4M63.3 425h1.4M63.3 428h1.4M45.8 431.5h1.4M57.8 422h1.4M60.3 440.5h1.4M62.3 418h1.4M58.3 429h1.4M60.8 439.5h1.4M62.3 438.5h1.4M54.8 439h1.4M58.3 425h1.4M53.3 439h1.4M62.8 428h1.4M54.8 430.5h1.4M60.3 436h1.4M72.8 426.5h1.4M60.8 422h1.4M65.8 430h1.4M57.3 437.5h1.4M66.8 437h1.4M62.3 430h1.4M69.8 413.5h1.4M56.8 439h1.4M59.3 424h1.4M54.3 437.5h1.4M70.8 418h1.4M60.3 434h1.4M61.3 443.5h1.4M56.3 435.5h1.4M71.3 412.5h1.4M66.8 432.5h1.4M55.8 443.5h1.4M52.8 443h1.4M55.8 428h1.4M62.3 428.5h1.4M51.3 438.5h1.4M66.8 443.5h1.4M54.3 430.5h1.4M49.3 442.5h1.4M57.8 437.5h1.4M65.3 421h1.4M53.8 436.5h1.4M52.3 416h1.4M54.8 442.5h1.4M54.8 429h1.4M57.8 413h1.4M71.3 430.5h1.4M52.3 435h1.4M57.3 424h1.4M65.8 434.5h1.4M56.8 440.5h1.4M45.8 436h1.4M64.3 417.5h1.4M47.3 427.5h1.4M71.8 425h1.4M58.8 444.5h1.4M45.3 442h1.4M51.3 434.5h1.4M70.8 422h1.4M62.3 433.5h1.4M48.3 444.5h1.4M59.8 424h1.4M60.3 430h1.4M67.3 419.5h1.4M64.3 418h1.4M62.3 444.5h1.4M67.8 431.5h1.4M61.3 430.5h1.4M52.3 429.5h1.4M61.8 424.5h1.4M58.3 420h1.4M54.3 427.5h1.4M54.8 430h1.4M69.8 415h1.4M53.8 437h1.4M50.3 421h1.4M50.3 436h1.4M53.3 435.5h1.4M59.8 428.5h1.4M81.8 421h1.4M67.8 416.5h1.4M62.8 422.5h1.4M44.3 438.5h1.4M61.3 432.5h1.4M55.8 419.5h1.4M52.3 445.5h1.4M70.8 416h1.4M63.3 419.5h1.4M60.8 432.5h1.4M59.3 431.5h1.4M71.8 430.5h1.4M64.8 409.5h1.4M59.3 421h1.4M73.8 435h1.4M52.3 432.5h1.4M55.8 431h1.4M53.8 445h1.4M54.3 442.5h1.4M53.8 430.5h1.4M74.3 432h1.4M56.3 428.5h1.4M57.3 434h1.4M69.8 427.5h1.4M54.8 424h1.4M63.3 418h1.4M51.3 432h1.4M52.8 429.5h1.4M75.3 430.5h1.4M51.8 441.5h1.4M62.3 442.5h1.4M66.8 424h1.4M63.3 417.5h1.4M55.3 433.5h1.4M66.8 438.5h1.4M71.3 425h1.4M58.8 422h1.4M63.8 435h1.4M59.8 422h1.4M55.3 430.5h1.4M62.8 429h1.4M63.3 433h1.4M55.8 432.5h1.4M44.8 437.5h1.4M56.8 438.5h1.4M61.3 423h1.4M66.3 427h1.4M65.3 415.5h1.4M68.3 407.5h1.4M52.8 433.5h1.4M68.8 430.5h1.4M66.8 429.5h1.4M56.8 441h1.4M59.3 430h1.4M59.3 432.5h1.4M56.3 425h1.4M71.8 406.5h1.4M66.8 431.5h1.4M63.3 437.5h1.4M50.8 446h1.4M67.8 425h1.4M61.3 424.5h1.4M55.3 445h1.4M47.8 437h1.4M66.8 419.5h1.4M46.8 428.5h1.4M48.8 443.5h1.4M68.3 433.5h1.4M70.8 415.5h1.4M62.3 426.5h1.4M70.3 426.5h1.4M66.8 421h1.4M56.8 435.5h1.4M54.8 427h1.4M61.8 433.5h1.4M66.8 434h1.4M80.8 419.5h1.4M55.3 426h1.4M72.3 417h1.4M55.8 435h1.4M60.8 430.5h1.4M74.3 419h1.4M57.3 423.5h1.4M61.8 408h1.4M55.8 423.5h1.4M72.8 436h1.4M71.8 427.5h1.4M60.3 432h1.4M65.3 428.5h1.4M52.3 438.5h1.4M54.8 435h1.4M64.3 418.5h1.4M59.3 437.5h1.4M51.3 439h1.4M61.8 428h1.4M56.8 418h1.4M59.3 444h1.4M70.3 428.5h1.4M62.3 431h1.4M55.3 419h1.4M60.3 434.5h1.4M64.8 434.5h1.4M66.8 422h1.4M56.8 435h1.4M57.3 445.5h1.4M69.8 434h1.4M54.3 441h1.4M55.3 427h1.4M59.3 428.5h1.4M56.8 431.5h1.4M58.3 419h1.4M65.3 430.5h1.4M55.8 415.5h1.4M74.8 437h1.4M63.8 426h1.4M65.8 429h1.4M51.8 443.5h1.4M48.8 439h1.4M53.3 430h1.4M59.3 433h1.4M58.8 423.5h1.4M63.8 419h1.4M65.3 435.5h1.4M62.8 428.5h1.4M58.3 439.5h1.4M64.3 428.5h1.4M57.8 435.5h1.4M67.3 436.5h1.4M68.3 431h1.4M57.8 433h1.4M67.3 416h1.4M71.3 418.5h1.4M48.3 432h1.4M71.8 419.5h1.4M71.8 421.5h1.4M55.3 431h1.4M65.8 415h1.4M59.8 429.5h1.4M61.8 425h1.4M51.3 436.5h1.4M50.8 444h1.4M44.8 425.5h1.4M64.8 429.5h1.4M71.8 424h1.4M75.3 417h1.4M58.3 418h1.4M66.8 428.5h1.4M64.3 438h1.4M62.3 428h1.4M65.8 439.5h1.4M49.3 441h1.4M69.3 420.5h1.4M59.8 432.5h1.4M53.8 438.5h1.4M62.3 430.5h1.4M61.3 439h1.4M60.3 432.5h1.4M77.3 411.5h1.4M75.3 420h1.4M64.3 431h1.4M55.3 437.5h1.4M50.3 438.5h1.4M53.3 435h1.4M61.8 428.5h1.4M64.3 422h1.4M48.8 438h1.4M70.3 439.5h1.4M67.8 428h1.4M51.8 429h1.4M53.8 432h1.4M52.3 427.5h1.4M44.8 431h1.4M66.8 432h1.4M55.8 434.5h1.4M58.8 423h1.4M57.3 427h1.4M54.3 442h1.4M52.3 426h1.4M68.8 433h1.4M62.8 438h1.4M55.8 420.5h1.4M60.8 419.5h1.4M53.3 440h1.4M62.8 429.5h1.4M63.3 432h1.4M63.8 420h1.4M61.3 438.5h1.4M59.8 442.5h1.4M52.8 435h1.4M50.8 437h1.4M50.8 433h1.4M60.3 443.5h1.4M64.8 414.5h1.4M58.8 424.5h1.4M69.8 423.5h1.4M69.8 407h1.4M50.3 439.5h1.4M51.8 440h1.4M57.3 442.5h1.4M66.3 432h1.4M56.8 428.5h1.4M64.8 421h1.4M54.8 423h1.4M52.3 432h1.4M68.3 421.5h1.4M58.8 444h1.4M56.3 434h1.4M67.3 418h1.4M54.3 421.5h1.4M50.3 432h1.4M71.3 427.5h1.4M72.8 413.5h1.4M61.3 409h1.4M68.8 420h1.4M57.3 418h1.4M59.3 426h1.4M68.3 406.5h1.4M62.8 423.5h1.4M65.3 417h1.4M69.3 415.5h1.4M70.8 417h1.4M47.3 435h1.4M51.8 439h1.4M59.8 426h1.4M44.3 436h1.4M56.3 436.5h1.4M59.3 440h1.4M48.3 443.5h1.4M66.3 410.5h1.4M58.8 426.5h1.4M49.3 428.5h1.4M51.8 437h1.4M63.8 432h1.4M57.8 432.5h1.4M61.8 434h1.4M66.8 440.5h1.4M70.8 400h1.4M66.8 426h1.4M62.8 433.5h1.4M65.8 415.5h1.4M56.3 435h1.4M62.8 426.5h1.4M53.3 444.5h1.4M65.3 432.5h1.4M68.3 424.5h1.4M65.8 421.5h1.4M52.3 437.5h1.4M55.3 436h1.4M49.8 431h1.4M64.8 416.5h1.4M56.3 444.5h1.4M64.8 426h1.4M71.3 423h1.4M56.3 432.5h1.4M67.8 417.5h1.4M63.8 425h1.4M60.8 421.5h1.4M63.8 438.5h1.4M64.8 417h1.4M57.3 432.5h1.4M72.3 430.5h1.4M65.8 422.5h1.4M75.3 410.5h1.4M50.3 444h1.4M58.8 421.5h1.4M65.8 422h1.4M50.3 424h1.4M74.3 411h1.4M58.3 417h1.4M60.8 428.5h1.4M73.3 415.5h1.4M72.8 421h1.4M57.3 432h1.4M67.8 433h1.4M64.3 421h1.4M49.3 435h1.4M47.8 427h1.4M51.3 427h1.4M50.8 439h1.4M57.3 423h1.4M60.8 424h1.4M56.8 436h1.4M68.3 423h1.4M52.8 436h1.4M60.3 427h1.4M68.3 414.5h1.4M65.8 440.5h1.4M51.8 434.5h1.4M76.3 414.5h1.4M61.3 429.5h1.4M54.3 436.5h1.4M61.8 417.5h1.4M68.3 422.5h1.4M71.8 424.5h1.4M51.8 440.5h1.4M64.8 428.5h1.4M51.3 433.5h1.4M56.3 438.5h1.4M64.8 443h1.4M53.3 434h1.4M49.3 441.5h1.4M60.3 420h1.4M53.8 442h1.4M59.8 422.5h1.4M56.8 429.5h1.4M63.8 431h1.4M63.3 435h1.4M58.3 412.5h1.4M62.3 426h1.4M60.8 428h1.4M44.8 446h1.4M70.8 425h1.4M65.8 433h1.4M74.3 424.5h1.4M59.3 429.5h1.4M51.8 419h1.4M48.8 430.5h1.4M66.8 434.5h1.4M65.3 428h1.4M65.8 419h1.4M57.8 422.5h1.4M61.8 416.5h1.4M46.3 436.5h1.4M56.8 419.5h1.4M54.8 438.5h1.4M59.8 425h1.4M58.8 432.5h1.4M43.8 435.5h1.4M53.3 436.5h1.4M51.8 428.5h1.4M58.3 434h1.4M65.3 432h1.4M75.3 426h1.4M61.3 440.5h1.4M60.8 445.5h1.4M70.3 429.5h1.4M58.8 427h1.4M64.8 413.5h1.4M62.3 425.5h1.4M55.8 416.5h1.4M64.8 441h1.4M69.3 410.5h1.4M50.3 435.5h1.4M66.8 417.5h1.4M57.8 427h1.4M67.8 432h1.4M50.8 440.5h1.4M63.8 441.5h1.4M52.3 434.5h1.4M59.3 427.5h1.4M50.8 442h1.4M68.8 418.5h1.4M61.8 432h1.4M69.3 425.5h1.4M69.8 406h1.4M63.8 429h1.4M72.3 416.5h1.4M55.8 422h1.4M66.3 425h1.4M61.8 442h1.4M54.3 433.5h1.4M57.8 424h1.4M77.3 422.5h1.4M58.3 442h1.4M48.8 430h1.4M61.8 429.5h1.4M49.3 439.5h1.4M55.8 430h1.4M74.8 417.5h1.4M49.8 440h1.4M70.8 431.5h1.4M66.3 437.5h1.4M63.3 437h1.4M67.3 434h1.4M67.3 425h1.4M53.8 435h1.4M52.8 439h1.4M48.8 445h1.4M51.3 435h1.4M53.8 444.5h1.4M49.8 436h1.4M63.3 430.5h1.4M52.8 442h1.4M53.3 432h1.4M54.3 432h1.4M62.8 434h1.4M56.3 419h1.4M54.3 439h1.4M63.3 439h1.4M61.8 425.5h1.4M59.3 439h1.4M66.3 420.5h1.4M77.8 414.5h1.4M62.3 423.5h1.4M68.8 428.5h1.4M58.8 440h1.4M68.3 429h1.4M60.8 433h1.4M72.8 422h1.4M61.3 421.5h1.4M64.3 424.5h1.4M55.8 431.5h1.4M52.8 444h1.4M66.3 425.5h1.4M70.8 412.5h1.4M62.3 421h1.4M55.8 436.5h1.4M50.3 426.5h1.4M66.8 423h1.4M58.8 436h1.4M54.8 427.5h1.4M59.3 421.5h1.4M62.3 423h1.4M52.3 440h1.4M69.8 422.5h1.4M73.3 422h1.4M53.3 431.5h1.4M68.3 410h1.4M71.3 421.5h1.4M51.8 435h1.4M51.3 432.5h1.4M53.8 429.5h1.4M45.3 437h1.4M49.8 439.5h1.4M67.3 417.5h1.4M62.3 441h1.4M72.3 425h1.4M46.8 434.5h1.4M66.3 422h1.4M65.8 418h1.4M63.8 423h1.4M66.3 423h1.4M57.8 442.5h1.4M63.3 436.5h1.4M65.8 428h1.4M58.8 425h1.4M59.8 429h1.4M53.3 433h1.4M48.3 437.5h1.4M56.8 423.5h1.4M52.8 437h1.4M50.8 439.5h1.4M49.3 436h1.4M61.3 427h1.4M62.8 437h1.4M60.3 426h1.4M65.3 416h1.4M66.3 431.5h1.4M60.8 427h1.4M62.8 432.5h1.4M63.8 433.5h1.4M72.8 415.5h1.4M64.3 423.5h1.4M59.3 444.5h1.4M62.3 427.5h1.4M65.3 433.5h1.4M63.8 439.5h1.4M46.3 441.5h1.4M62.3 413h1.4M70.3 430h1.4M58.3 432h1.4M65.3 414.5h1.4M63.3 431.5h1.4M48.3 434.5h1.4M62.8 436h1.4M56.8 432h1.4M53.3 425h1.4M57.8 433.5h1.4M63.3 422h1.4M43.3 443h1.4M67.8 419h1.4M75.3 423h1.4M60.8 414h1.4M67.3 428.5h1.4M48.3 441h1.4M53.3 441.5h1.4M49.8 437.5h1.4M72.3 416h1.4M45.3 424.5h1.4M60.3 426.5h1.4M54.3 424.5h1.4M57.3 444h1.4M63.3 422.5h1.4M58.8 437.5h1.4M58.3 437h1.4M64.8 420.5h1.4M60.8 422.5h1.4M49.3 440h1.4M65.3 426.5h1.4M66.3 418h1.4M57.8 425.5h1.4M66.3 435.5h1.4M52.3 428h1.4M65.3 434.5h1.4M54.8 444.5h1.4M45.3 433.5h1.4M54.3 436h1.4M50.8 440h1.4M58.8 414.5h1.4M68.8 426.5h1.4M64.3 416.5h1.4M49.3 442h1.4M50.8 431h1.4M61.3 430h1.4M65.8 431.5h1.4M63.8 434h1.4M51.8 442h1.4M61.3 423.5h1.4M53.8 420.5h1.4M59.3 431h1.4M48.8 427h1.4M59.8 423h1.4M58.8 439.5h1.4M54.3 426h1.4M62.3 439.5h1.4M62.3 443.5h1.4M64.8 440.5h1.4M68.3 439h1.4M70.8 421.5h1.4M70.8 422.5h1.4M56.3 427h1.4M55.3 430h1.4M69.3 435.5h1.4M65.3 429.5h1.4M66.8 435.5h1.4M61.8 421h1.4M67.3 415.5h1.4M53.8 439.5h1.4M69.3 431h1.4M60.8 435h1.4M56.8 434h1.4M47.8 445.5h1.4M60.3 433h1.4M59.3 419h1.4M62.3 437.5h1.4M62.3 439h1.4M61.3 417.5h1.4M55.8 444.5h1.4M61.3 425.5h1.4M66.8 415.5h1.4M68.8 418h1.4M54.3 445h1.4M57.3 431.5h1.4M71.8 432.5h1.4M63.3 418.5h1.4M71.8 422h1.4M60.3 439h1.4M64.3 432.5h1.4M56.8 444h1.4M58.3 412h1.4M61.8 415h1.4M70.3 422h1.4M66.8 414.5h1.4M67.3 428h1.4M63.3 440h1.4M60.3 443h1.4M65.8 423h1.4M50.8 425h1.4M68.8 405h1.4M67.3 420.5h1.4M63.3 421h1.4M56.8 445.5h1.4M50.3 424.5h1.4M64.3 416h1.4M55.8 424h1.4M64.8 410h1.4M50.3 431h1.4M57.3 435.5h1.4M48.8 432.5h1.4M63.8 428.5h1.4M68.3 425.5h1.4M64.8 423h1.4M63.8 424h1.4M55.3 444h1.4M62.8 420.5h1.4M64.8 426.5h1.4M49.3 430.5h1.4M59.8 434h1.4M53.3 426.5h1.4M52.8 438.5h1.4M57.3 437h1.4M61.3 414.5h1.4M67.3 431.5h1.4M61.8 426.5h1.4M51.8 439.5h1.4M59.8 433.5h1.4M63.8 425.5h1.4M59.8 441.5h1.4M74.3 434h1.4M56.8 432.5h1.4M43.3 430.5h1.4M54.3 425.5h1.4M60.3 428.5h1.4M58.3 429.5h1.4M61.3 440h1.4M51.8 432h1.4M51.3 440h1.4M62.3 421.5h1.4M57.8 428h1.4M55.8 425h1.4M72.3 428.5h1.4M61.3 422.5h1.4M70.8 424h1.4M62.3 424h1.4M50.8 427.5h1.4M73.8 412.5h1.4M60.8 421h1.4M74.8 425.5h1.4M61.8 426h1.4M63.8 440.5h1.4M61.8 441h1.4M50.3 413.5h1.4M67.8 433.5h1.4M59.8 419.5h1.4M70.3 427.5h1.4M47.3 434h1.4M52.3 444.5h1.4M49.3 439h1.4M57.3 426h1.4M57.8 421h1.4M62.8 424.5h1.4M50.3 431.5h1.4M61.8 419.5h1.4M62.3 436h1.4M53.3 433.5h1.4M67.3 423.5h1.4M67.3 440h1.4M56.3 425.5h1.4M56.3 431.5h1.4M70.3 425.5h1.4M53.8 426.5h1.4M51.3 439.5h1.4M79.3 421h1.4M64.3 409h1.4M54.3 423h1.4M60.3 431.5h1.4M59.8 431h1.4M45.3 444h1.4M58.8 435.5h1.4M48.3 441.5h1.4M64.8 438.5h1.4M48.8 440h1.4M48.3 427h1.4M48.3 434h1.4M56.8 430.5h1.4M61.8 430.5h1.4M66.8 425h1.4M59.3 443h1.4M60.3 444h1.4M62.3 440h1.4M61.3 432h1.4M70.8 425.5h1.4M56.8 440h1.4M62.8 419.5h1.4M74.3 405.5h1.4M55.3 429.5h1.4M62.3 420h1.4M64.3 431.5h1.4M58.3 439h1.4M59.3 428h1.4M57.8 428.5h1.4M66.3 419h1.4M50.3 440h1.4M52.8 442.5h1.4M54.3 434.5h1.4M68.8 427.5h1.4M62.3 420.5h1.4M68.3 415h1.4M42.8 441.5h1.4M50.8 436h1.4M45.3 446h1.4M54.8 413.5h1.4M60.3 419.5h1.4M73.3 421h1.4M47.8 438.5h1.4M58.3 428.5h1.4M50.8 438.5h1.4M63.3 423.5h1.4M73.3 431h1.4M66.3 435h1.4M56.3 417.5h1.4M56.3 444h1.4M52.8 441.5h1.4M42.3 434h1.4M57.8 411.5h1.4M64.3 434h1.4M51.3 430h1.4M52.3 441.5h1.4M69.3 431.5h1.4M70.3 426h1.4M72.8 419.5h1.4M56.3 441h1.4M63.3 426h1.4M56.8 421.5h1.4M68.8 429.5h1.4M64.8 415h1.4M57.8 441h1.4M49.3 421h1.4M67.3 432.5h1.4M72.3 422h1.4M63.3 434.5h1.4M61.8 438.5h1.4M59.3 436.5h1.4M70.8 429.5h1.4M57.8 432h1.4M56.3 420h1.4M47.8 436h1.4M73.3 420h1.4M50.8 430h1.4M44.3 435.5h1.4M53.3 424h1.4M62.3 435h1.4M58.8 437h1.4M62.8 427.5h1.4M49.8 422.5h1.4M51.8 438h1.4M60.8 414.5h1.4M70.8 415h1.4M54.3 441.5h1.4M71.8 423.5h1.4M50.8 442.5h1.4M61.8 424h1.4M50.8 436.5h1.4M69.3 426h1.4M63.8 432.5h1.4M53.8 440.5h1.4M67.3 422.5h1.4M57.3 428h1.4M73.8 423.5h1.4M46.8 426h1.4M50.3 436.5h1.4M48.3 436h1.4M54.3 419.5h1.4M64.3 430.5h1.4M66.3 428.5h1.4M72.8 418.5h1.4M63.8 419.5h1.4M50.8 432.5h1.4M64.8 422.5h1.4M65.3 429h1.4M69.8 416h1.4M65.8 435h1.4M74.8 408h1.4M59.3 440.5h1.4M56.8 443h1.4M56.8 442.5h1.4M44.3 439.5h1.4M67.3 424h1.4M50.3 435h1.4M65.3 421.5h1.4M79.3 406.5h1.4M73.8 411h1.4M86.8 397.5h1.4M90.3 398.5h1.4M69.8 426.5h1.4M71.3 413.5h1.4M85.8 399.5h1.4M81.8 399h1.4M70.8 407.5h1.4M84.3 403.5h1.4M87.8 397h1.4M58.3 438h1.4M65.8 435.5h1.4M87.3 396.5h1.4M74.3 422h1.4M87.3 394.5h1.4M81.3 405h1.4M58.8 425.5h1.4M56.8 433.5h1.4M84.8 400.5h1.4M78.3 416h1.4M69.8 424h1.4M77.8 413.5h1.4M85.3 399.5h1.4M58.8 433.5h1.4M88.3 394h1.4M86.8 399h1.4M49.3 426h1.4M69.3 421.5h1.4M93.8 393h1.4M62.8 433h1.4M88.3 391h1.4M76.3 409h1.4M65.8 424.5h1.4M75.8 408h1.4M64.3 426.5h1.4M68.3 427.5h1.4M85.8 398.5h1.4M72.3 419h1.4M81.8 408h1.4M70.8 414.5h1.4M70.8 416.5h1.4M84.8 402h1.4M77.3 412h1.4M76.3 405.5h1.4M57.3 419h1.4M88.8 399.5h1.4M83.8 399h1.4M79.3 413h1.4M74.3 404.5h1.4M61.8 419h1.4M80.3 408h1.4M74.8 414h1.4M57.8 424.5h1.4M81.3 398.5h1.4M83.3 415h1.4M85.8 392.5h1.4M72.3 411h1.4M85.3 397h1.4M89.3 394h1.4M72.8 416h1.4M90.3 396.5h1.4M64.8 425h1.4M89.8 395h1.4M52.8 425.5h1.4M88.3 400.5h1.4M85.8 401h1.4M80.3 411.5h1.4M64.8 412h1.4M79.3 398.5h1.4M80.8 403h1.4M68.8 428h1.4M82.3 408.5h1.4M83.3 399h1.4M80.3 410h1.4M67.3 416.5h1.4M59.3 425.5h1.4M84.8 402.5h1.4M79.8 400h1.4M80.3 402.5h1.4M80.3 411h1.4M75.8 408.5h1.4M67.3 424.5h1.4M51.8 424h1.4M80.3 401h1.4M69.8 415.5h1.4M64.3 419.5h1.4M78.3 408.5h1.4M91.8 395.5h1.4M84.3 396.5h1.4M82.8 399h1.4M74.8 412h1.4M69.3 417.5h1.4M83.8 402.5h1.4M83.8 405.5h1.4M77.3 408.5h1.4M88.3 397h1.4M54.8 428.5h1.4M57.3 421h1.4M63.8 415h1.4M73.3 408.5h1.4M79.3 403.5h1.4M88.8 400.5h1.4M60.3 422h1.4M54.3 417h1.4M67.3 412.5h1.4M82.8 406.5h1.4M64.8 424h1.4M83.3 404h1.4M73.3 407.5h1.4M59.8 421.5h1.4M71.3 415h1.4M91.3 396h1.4M84.8 403h1.4M85.8 400h1.4M84.3 401h1.4M85.3 399h1.4M92.3 398h1.4M74.3 407h1.4M80.8 406.5h1.4M61.8 415.5h1.4M68.3 419.5h1.4M74.8 410.5h1.4M78.8 405h1.4M73.3 409h1.4M68.8 426h1.4M70.3 415h1.4M88.8 397.5h1.4M88.3 398.5h1.4M86.8 395h1.4M91.3 399.5h1.4M76.8 411h1.4M72.8 415h1.4M78.3 403h1.4M70.8 421h1.4M56.3 427.5h1.4M71.3 408.5h1.4M76.8 408.5h1.4M54.8 433h1.4M91.8 394h1.4M60.8 434h1.4M80.8 407h1.4M67.8 411.5h1.4M62.8 424h1.4M84.3 402h1.4M86.8 398h1.4M88.8 396h1.4M84.3 402.5h1.4M52.8 426h1.4M78.3 409.5h1.4M85.8 404.5h1.4M66.8 417h1.4M72.3 421.5h1.4M78.8 402h1.4M67.3 421.5h1.4M85.3 402h1.4M86.3 406.5h1.4M87.3 395.5h1.4M83.3 403h1.4M88.8 394.5h1.4M75.3 416h1.4M76.8 404h1.4M60.3 423.5h1.4M84.3 395h1.4M65.8 427.5h1.4M57.3 428.5h1.4M88.3 395h1.4M85.8 399h1.4M67.8 425.5h1.4M71.8 407.5h1.4M75.3 414.5h1.4M84.8 397.5h1.4M59.8 411h1.4M73.8 425h1.4M71.8 416.5h1.4M82.3 402h1.4M66.3 421h1.4M51.3 426.5h1.4M85.3 394.5h1.4M75.8 424.5h1.4M63.3 420h1.4M69.3 414.5h1.4M65.3 425h1.4M66.3 411.5h1.4M95.3 394.5h1.4M72.3 410.5h1.4M77.8 399.5h1.4M68.3 417.5h1.4M70.3 415.5h1.4M75.8 410h1.4M77.8 409.5h1.4M73.3 417h1.4M81.3 402h1.4M86.3 400.5h1.4M89.8 397h1.4M77.8 409h1.4M58.3 437.5h1.4M72.3 418h1.4M92.8 400.5h1.4M66.8 424.5h1.4M84.8 398h1.4M69.8 423h1.4M77.8 405h1.4M86.8 410h1.4M73.3 412h1.4M69.8 413h1.4M74.3 407.5h1.4M75.8 395.5h1.4M72.8 412h1.4M87.8 401h1.4M77.8 407h1.4M68.8 419.5h1.4M79.8 408.5h1.4M65.3 424.5h1.4M77.3 409.5h1.4M75.8 407.5h1.4M77.3 407.5h1.4M73.8 420h1.4M79.8 401.5h1.4M83.3 406h1.4M78.3 409h1.4M73.3 408h1.4M89.8 403.5h1.4M89.8 396h1.4M76.3 409.5h1.4M91.3 396.5h1.4M79.3 413.5h1.4M73.8 414h1.4M83.3 408h1.4M67.8 418h1.4M83.3 393.5h1.4M84.8 399h1.4M85.8 401.5h1.4M71.3 409.5h1.4M79.3 410.5h1.4M67.8 410h1.4M68.3 420h1.4M86.3 399h1.4M82.3 396h1.4M84.3 404h1.4M72.8 405.5h1.4M74.8 415.5h1.4M63.8 424.5h1.4M79.3 414.5h1.4M79.8 403.5h1.4M84.8 398.5h1.4M86.8 392h1.4M87.3 399.5h1.4M64.8 418.5h1.4M67.3 409h1.4M77.3 414h1.4M90.3 395.5h1.4M80.3 406h1.4M76.3 415.5h1.4M91.3 395h1.4M69.3 404.5h1.4M78.3 405.5h1.4M74.3 413h1.4M57.3 417.5h1.4M74.8 407h1.4M71.8 421h1.4M80.8 401.5h1.4M76.8 416h1.4M76.3 408.5h1.4M65.8 417h1.4M74.8 417h1.4M90.8 394h1.4M78.3 402.5h1.4M76.3 417h1.4M68.3 422h1.4M73.8 413h1.4M72.8 417.5h1.4M62.8 418h1.4M81.3 402.5h1.4M91.8 392.5h1.4M69.8 414.5h1.4M78.8 409h1.4M69.3 417h1.4M82.3 404.5h1.4M88.3 402h1.4M74.8 416h1.4M75.3 407h1.4M85.8 395h1.4M64.8 431h1.4M79.8 409.5h1.4M87.3 394h1.4M86.3 396h1.4M64.3 429.5h1.4M66.3 428h1.4M78.3 406h1.4M79.3 407.5h1.4M79.3 409h1.4M81.3 400.5h1.4M65.8 425h1.4M85.3 405.5h1.4M77.3 420h1.4M87.3 398h1.4M80.3 401.5h1.4M82.8 402h1.4M89.3 397h1.4M92.8 393h1.4M91.3 394h1.4M80.3 416h1.4M83.8 398.5h1.4M89.3 391.5h1.4M76.3 412h1.4M66.3 415h1.4M74.3 420h1.4M85.8 395.5h1.4M88.3 394.5h1.4M79.3 406h1.4M61.8 413h1.4M71.8 419h1.4M68.8 412.5h1.4M79.8 404h1.4M69.3 423h1.4M56.3 424.5h1.4M66.8 430h1.4M87.8 394h1.4M58.3 427h1.4M84.8 396.5h1.4M93.3 392.5h1.4M59.3 420.5h1.4M74.8 398h1.4M90.8 397h1.4M74.8 419.5h1.4M68.3 424h1.4M83.3 411h1.4M63.3 419h1.4M73.8 415h1.4M68.3 416h1.4M71.8 414.5h1.4M70.8 414h1.4M88.8 394h1.4M75.8 411.5h1.4M71.3 416.5h1.4M72.8 421.5h1.4M83.3 400.5h1.4M77.8 402.5h1.4M46.3 425.5h1.4M83.8 401.5h1.4M71.3 407.5h1.4M80.8 404.5h1.4M64.8 424.5h1.4M79.3 402h1.4M81.3 404h1.4M66.8 415h1.4M71.3 422h1.4M84.8 400h1.4M52.8 431h1.4M65.3 440h1.4M84.8 395h1.4M73.3 412.5h1.4M77.3 407h1.4M82.3 406h1.4M62.8 434.5h1.4M80.3 409.5h1.4M79.3 408h1.4M76.3 405h1.4M77.3 406.5h1.4M82.8 403.5h1.4M57.8 430h1.4M82.8 397h1.4M78.8 408h1.4M79.8 411.5h1.4M78.8 406.5h1.4M76.8 410h1.4M78.8 397h1.4M91.3 398h1.4M82.8 400h1.4M89.3 399h1.4M70.8 429h1.4M81.3 401.5h1.4M90.3 393h1.4M75.8 414.5h1.4M89.8 395.5h1.4M84.3 397h1.4M67.3 427h1.4M63.3 428.5h1.4M83.3 408.5h1.4M84.8 395.5h1.4M78.3 410h1.4M73.8 423h1.4M76.8 405h1.4M83.8 403h1.4M80.3 408.5h1.4M75.3 421h1.4M68.8 422.5h1.4M62.3 422h1.4M58.3 428h1.4M80.3 407h1.4M86.8 401.5h1.4M89.8 393h1.4M92.3 392.5h1.4M95.3 391.5h1.4M95.3 387.5h1.4M95.3 388h1.4M97.8 387h1.4M99.8 383h1.4M102.3 382.5h1.4M101.8 382h1.4M105.8 379.5h1.4M107.3 377h1.4M108.3 375.5h1.4M110.3 375h1.4M110.3 375.5h1.4M112.3 370.5h1.4M112.8 372.5h1.4M111.8 370.5h1.4M116.8 369.5h1.4M118.8 362.5h1.4M119.8 365.5h1.4M119.3 365.5h1.4M121.8 363h1.4M124.3 361h1.4M123.3 361h1.4M125.8 358h1.4M127.3 358h1.4M50.8 445h1.4M47.3 439h1.4M47.8 443.5h1.4M43.3 437.5h1.4M49.3 432h1.4M44.8 435h1.4M46.3 427.5h1.4M44.3 438h1.4M48.3 439h1.4M44.3 436.5h1.4M47.3 441h1.4M46.3 431.5h1.4M50.3 439h1.4M46.8 430h1.4M47.8 439h1.4M47.8 439.5h1.4M44.3 444h1.4M49.8 435h1.4M49.8 428h1.4M42.8 432h1.4M46.8 434h1.4M45.3 440.5h1.4M42.8 426.5h1.4"/>
</svg>
</body></html>
